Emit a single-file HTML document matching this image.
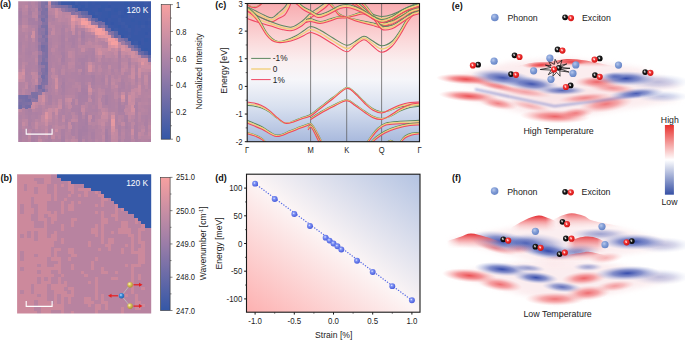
<!DOCTYPE html>
<html><head><meta charset="utf-8"><style>
html,body{margin:0;padding:0;background:#fff;width:685px;height:340px;overflow:hidden}
svg{display:block;font-family:"Liberation Sans",sans-serif}
</style></head><body>
<svg width="685" height="340" viewBox="0 0 685 340" font-family="Liberation Sans, sans-serif">
<defs>
<linearGradient id="cba" x1="0" y1="1" x2="0" y2="0">
<stop offset="0" stop-color="#3457a7"/><stop offset="0.5" stop-color="#9b7da8"/><stop offset="1" stop-color="#f7a0a0"/></linearGradient>
<linearGradient id="cbb" x1="0" y1="1" x2="0" y2="0">
<stop offset="0" stop-color="#3457a7"/><stop offset="0.5" stop-color="#9b7da8"/><stop offset="1" stop-color="#f7a0a0"/></linearGradient>
<linearGradient id="bgc" x1="0" y1="0" x2="0" y2="1">
<stop offset="0" stop-color="#f8acb0"/><stop offset="0.27" stop-color="#fbd9da"/><stop offset="0.42" stop-color="#faeff0"/><stop offset="0.55" stop-color="#f6f6fa"/><stop offset="0.75" stop-color="#d8e0ef"/><stop offset="1" stop-color="#a8b9dd"/></linearGradient>
<linearGradient id="bgd" x1="0" y1="1" x2="1" y2="0">
<stop offset="0" stop-color="#fdb0b0"/><stop offset="0.5" stop-color="#fcf5f5"/><stop offset="1" stop-color="#b3c3e2"/></linearGradient>
<linearGradient id="cbhl" x1="0" y1="0" x2="0" y2="1">
<stop offset="0" stop-color="#e8312e"/><stop offset="0.5" stop-color="#ffffff"/><stop offset="1" stop-color="#3650a5"/></linearGradient>
<radialGradient id="sph" cx="0.4" cy="0.38" r="0.65"><stop offset="0" stop-color="#e6ecff"/><stop offset="0.3" stop-color="#7f93f5"/><stop offset="1" stop-color="#4457d8"/></radialGradient>
<radialGradient id="phon" cx="0.38" cy="0.35" r="0.7"><stop offset="0" stop-color="#b6c7ec"/><stop offset="0.5" stop-color="#7f9bd5"/><stop offset="1" stop-color="#6482c4"/></radialGradient>
<radialGradient id="exr" cx="0.38" cy="0.35" r="0.7"><stop offset="0" stop-color="#ffd0d0"/><stop offset="0.3" stop-color="#f43a3a"/><stop offset="1" stop-color="#d01010"/></radialGradient>
<radialGradient id="exk" cx="0.38" cy="0.35" r="0.7"><stop offset="0" stop-color="#d0d0d0"/><stop offset="0.3" stop-color="#222"/><stop offset="1" stop-color="#000"/></radialGradient>
<radialGradient id="yel" cx="0.38" cy="0.35" r="0.7"><stop offset="0" stop-color="#fff6c0"/><stop offset="0.4" stop-color="#d9c25a"/><stop offset="1" stop-color="#a8902c"/></radialGradient>
<radialGradient id="blu" cx="0.38" cy="0.35" r="0.7"><stop offset="0" stop-color="#bfe0ff"/><stop offset="0.4" stop-color="#3d8ad8"/><stop offset="1" stop-color="#1f5ea8"/></radialGradient>
<filter id="bl2" x="-50%" y="-50%" width="200%" height="200%"><feGaussianBlur stdDeviation="2.5"/></filter>
<filter id="bl4" x="-50%" y="-50%" width="200%" height="200%"><feGaussianBlur stdDeviation="4"/></filter>
</defs>
<rect width="685" height="340" fill="#fff"/>
<text x="0" y="7.2" font-size="9" font-weight="bold" fill="#111">(a)</text>
<clipPath id="cpa"><rect x="18.2" y="1.2" width="132.8" height="140.8"/></clipPath><clipPath id="cpb"><rect x="17.1" y="174.2" width="134.1" height="139.4"/></clipPath><filter id="hbl" x="-5%" y="-5%" width="110%" height="110%"><feGaussianBlur stdDeviation="0.45"/></filter>
<g clip-path="url(#cpa)"><g shape-rendering="crispEdges" filter="url(#hbl)"><path fill="#b584a2" d="M18.20 1.20h3.62v3.65h-3.62zM24.84 1.20h3.62v3.65h-3.62zM31.48 4.55h3.62v3.65h-3.62zM24.84 21.31h3.62v3.65h-3.62zM54.72 21.31h3.62v3.65h-3.62zM64.68 21.31h3.62v3.65h-3.62zM74.64 24.67h3.62v3.65h-3.62zM68.00 28.02h3.62v3.65h-3.62zM77.96 28.02h3.62v3.65h-3.62zM87.92 31.37h3.62v3.65h-3.62zM51.40 41.43h3.62v3.65h-3.62zM101.20 44.78h3.62v3.65h-3.62zM68.00 48.13h3.62v3.65h-3.62zM51.40 51.49h3.62v3.65h-3.62zM124.44 54.84h3.62v3.65h-3.62zM68.00 58.19h3.62v3.65h-3.62zM134.40 61.54h3.62v3.65h-3.62zM51.40 64.90h3.62v3.65h-3.62zM68.00 68.25h3.62v3.65h-3.62zM114.48 71.60h3.62v3.65h-3.62zM141.04 71.60h3.62v3.65h-3.62zM51.40 81.66h3.62v3.65h-3.62zM124.44 81.66h3.62v3.65h-3.62zM104.52 85.01h3.62v3.65h-3.62zM111.16 88.36h3.62v3.65h-3.62zM117.80 95.07h3.62v3.65h-3.62zM141.04 95.07h3.62v3.65h-3.62zM44.76 98.42h3.62v3.65h-3.62zM141.04 98.42h3.62v3.65h-3.62zM141.04 105.12h3.62v3.65h-3.62zM58.04 108.48h3.62v3.65h-3.62zM137.72 108.48h3.62v3.65h-3.62zM144.36 108.48h3.62v3.65h-3.62zM51.40 115.18h3.62v3.65h-3.62zM121.12 115.18h3.62v3.65h-3.62zM38.12 118.53h3.62v3.65h-3.62zM51.40 118.53h3.62v3.65h-3.62zM24.84 125.24h3.62v3.65h-3.62zM31.48 125.24h3.62v3.65h-3.62zM137.72 125.24h3.62v3.65h-3.62zM64.68 131.94h3.62v3.65h-3.62zM68.00 131.94h3.62v3.65h-3.62zM97.88 131.94h3.62v3.65h-3.62zM51.40 138.65h3.62v3.65h-3.62zM141.04 138.65h3.62v3.65h-3.62z"/>
<path fill="#b685a2" d="M21.52 1.20h3.62v3.65h-3.62zM21.52 11.26h3.62v3.65h-3.62zM54.72 17.96h3.62v3.65h-3.62zM58.04 21.31h3.62v3.65h-3.62zM24.84 31.37h3.62v3.65h-3.62zM87.92 38.08h3.62v3.65h-3.62zM54.72 41.43h3.62v3.65h-3.62zM71.32 48.13h3.62v3.65h-3.62zM34.80 54.84h3.62v3.65h-3.62zM121.12 58.19h3.62v3.65h-3.62zM87.92 71.60h3.62v3.65h-3.62zM51.40 78.30h3.62v3.65h-3.62zM71.32 85.01h3.62v3.65h-3.62zM91.24 88.36h3.62v3.65h-3.62zM144.36 91.71h3.62v3.65h-3.62zM64.68 105.12h3.62v3.65h-3.62zM131.08 118.53h3.62v3.65h-3.62zM94.56 121.89h3.62v3.65h-3.62zM147.68 121.89h3.62v3.65h-3.62zM58.04 128.59h3.62v3.65h-3.62zM58.04 131.94h3.62v3.65h-3.62zM64.68 135.30h3.62v3.65h-3.62zM141.04 135.30h3.62v3.65h-3.62zM68.00 138.65h3.62v3.65h-3.62zM121.12 138.65h3.62v3.65h-3.62z"/>
<path fill="#ad81a3" d="M28.16 1.20h3.62v3.65h-3.62zM34.80 1.20h3.62v3.65h-3.62zM51.40 17.96h3.62v3.65h-3.62zM34.80 24.67h3.62v3.65h-3.62zM61.36 24.67h3.62v3.65h-3.62zM74.64 31.37h3.62v3.65h-3.62zM28.16 34.72h3.62v3.65h-3.62zM18.20 41.43h3.62v3.65h-3.62zM28.16 41.43h3.62v3.65h-3.62zM28.16 44.78h3.62v3.65h-3.62zM28.16 48.13h3.62v3.65h-3.62zM48.08 51.49h3.62v3.65h-3.62zM48.08 58.19h3.62v3.65h-3.62zM28.16 61.54h3.62v3.65h-3.62zM74.64 64.90h3.62v3.65h-3.62zM48.08 68.25h3.62v3.65h-3.62zM58.04 68.25h3.62v3.65h-3.62zM24.84 71.60h3.62v3.65h-3.62zM58.04 71.60h3.62v3.65h-3.62zM84.60 74.95h3.62v3.65h-3.62zM101.20 74.95h3.62v3.65h-3.62zM77.96 78.30h3.62v3.65h-3.62zM107.84 78.30h3.62v3.65h-3.62zM121.12 78.30h3.62v3.65h-3.62zM147.68 78.30h3.62v3.65h-3.62zM107.84 81.66h3.62v3.65h-3.62zM48.08 85.01h3.62v3.65h-3.62zM28.16 91.71h3.62v3.65h-3.62zM48.08 91.71h3.62v3.65h-3.62zM124.44 95.07h3.62v3.65h-3.62zM71.32 98.42h3.62v3.65h-3.62zM124.44 98.42h3.62v3.65h-3.62zM61.36 101.77h3.62v3.65h-3.62zM81.28 101.77h3.62v3.65h-3.62zM91.24 101.77h3.62v3.65h-3.62zM134.40 101.77h3.62v3.65h-3.62zM71.32 105.12h3.62v3.65h-3.62zM74.64 105.12h3.62v3.65h-3.62zM24.84 108.48h3.62v3.65h-3.62zM94.56 108.48h3.62v3.65h-3.62zM24.84 111.83h3.62v3.65h-3.62zM61.36 111.83h3.62v3.65h-3.62zM134.40 111.83h3.62v3.65h-3.62zM34.80 115.18h3.62v3.65h-3.62zM144.36 115.18h3.62v3.65h-3.62zM64.68 121.89h3.62v3.65h-3.62zM144.36 125.24h3.62v3.65h-3.62zM18.20 128.59h3.62v3.65h-3.62zM91.24 128.59h3.62v3.65h-3.62zM124.44 131.94h3.62v3.65h-3.62zM34.80 135.30h3.62v3.65h-3.62zM81.28 135.30h3.62v3.65h-3.62zM124.44 135.30h3.62v3.65h-3.62zM48.08 138.65h3.62v3.65h-3.62zM124.44 138.65h3.62v3.65h-3.62zM127.76 138.65h3.62v3.65h-3.62zM134.40 138.65h3.62v3.65h-3.62z"/>
<path fill="#b484a2" d="M31.48 1.20h3.62v3.65h-3.62zM18.20 4.55h3.62v3.65h-3.62zM24.84 17.96h3.62v3.65h-3.62zM34.80 17.96h3.62v3.65h-3.62zM18.20 28.02h3.62v3.65h-3.62zM58.04 28.02h3.62v3.65h-3.62zM54.72 31.37h3.62v3.65h-3.62zM58.04 31.37h3.62v3.65h-3.62zM64.68 31.37h3.62v3.65h-3.62zM48.08 34.72h3.62v3.65h-3.62zM51.40 34.72h3.62v3.65h-3.62zM54.72 34.72h3.62v3.65h-3.62zM64.68 34.72h3.62v3.65h-3.62zM51.40 38.08h3.62v3.65h-3.62zM54.72 38.08h3.62v3.65h-3.62zM21.52 41.43h3.62v3.65h-3.62zM64.68 44.78h3.62v3.65h-3.62zM54.72 48.13h3.62v3.65h-3.62zM77.96 48.13h3.62v3.65h-3.62zM21.52 51.49h3.62v3.65h-3.62zM77.96 51.49h3.62v3.65h-3.62zM18.20 54.84h3.62v3.65h-3.62zM21.52 54.84h3.62v3.65h-3.62zM54.72 54.84h3.62v3.65h-3.62zM21.52 58.19h3.62v3.65h-3.62zM104.52 58.19h3.62v3.65h-3.62zM111.16 58.19h3.62v3.65h-3.62zM58.04 61.54h3.62v3.65h-3.62zM84.60 61.54h3.62v3.65h-3.62zM94.56 68.25h3.62v3.65h-3.62zM77.96 71.60h3.62v3.65h-3.62zM94.56 71.60h3.62v3.65h-3.62zM104.52 71.60h3.62v3.65h-3.62zM21.52 81.66h3.62v3.65h-3.62zM77.96 81.66h3.62v3.65h-3.62zM21.52 85.01h3.62v3.65h-3.62zM51.40 85.01h3.62v3.65h-3.62zM97.88 85.01h3.62v3.65h-3.62zM51.40 88.36h3.62v3.65h-3.62zM44.76 95.07h3.62v3.65h-3.62zM51.40 98.42h3.62v3.65h-3.62zM121.12 101.77h3.62v3.65h-3.62zM147.68 101.77h3.62v3.65h-3.62zM114.48 105.12h3.62v3.65h-3.62zM68.00 108.48h3.62v3.65h-3.62zM97.88 108.48h3.62v3.65h-3.62zM141.04 111.83h3.62v3.65h-3.62zM21.52 115.18h3.62v3.65h-3.62zM81.28 115.18h3.62v3.65h-3.62zM97.88 115.18h3.62v3.65h-3.62zM51.40 121.89h3.62v3.65h-3.62zM61.36 121.89h3.62v3.65h-3.62zM117.80 121.89h3.62v3.65h-3.62zM141.04 121.89h3.62v3.65h-3.62zM38.12 125.24h3.62v3.65h-3.62zM21.52 138.65h3.62v3.65h-3.62zM41.44 138.65h3.62v3.65h-3.62z"/>
<path fill="#9b7aa3" d="M38.12 1.20h3.62v3.65h-3.62zM38.12 41.43h3.62v3.65h-3.62z"/>
<path fill="#8372a4" d="M41.44 1.20h3.62v3.65h-3.62z"/>
<path fill="#7a6fa4" d="M44.76 1.20h3.62v3.65h-3.62zM44.76 7.90h3.62v3.65h-3.62zM44.76 24.67h3.62v3.65h-3.62zM44.76 64.90h3.62v3.65h-3.62zM21.52 98.42h3.62v3.65h-3.62z"/>
<path fill="#cb8da2" d="M48.08 1.20h3.62v3.65h-3.62zM54.72 7.90h3.62v3.65h-3.62zM71.32 28.02h3.62v3.65h-3.62zM117.80 41.43h3.62v3.65h-3.62zM21.52 68.25h3.62v3.65h-3.62zM137.72 74.95h3.62v3.65h-3.62zM87.92 85.01h3.62v3.65h-3.62zM54.72 128.59h3.62v3.65h-3.62zM131.08 131.94h3.62v3.65h-3.62z"/>
<path fill="#726ca5" d="M51.40 1.20h3.62v3.65h-3.62zM101.20 21.31h3.62v3.65h-3.62zM104.52 28.02h3.62v3.65h-3.62zM28.16 98.42h3.62v3.65h-3.62z"/>
<path fill="#6969a5" d="M54.72 1.20h3.62v3.65h-3.62z"/>
<path fill="#4f60a6" d="M58.04 1.20h3.62v3.65h-3.62z"/>
<path fill="#3a59a7" d="M61.36 1.20h3.62v3.65h-3.62zM64.68 1.20h3.62v3.65h-3.62zM91.24 1.20h3.62v3.65h-3.62zM77.96 4.55h3.62v3.65h-3.62zM94.56 4.55h3.62v3.65h-3.62zM131.08 4.55h3.62v3.65h-3.62zM81.28 7.90h3.62v3.65h-3.62zM137.72 7.90h3.62v3.65h-3.62zM147.68 7.90h3.62v3.65h-3.62zM87.92 11.26h3.62v3.65h-3.62zM97.88 14.61h3.62v3.65h-3.62zM107.84 17.96h3.62v3.65h-3.62zM117.80 21.31h3.62v3.65h-3.62zM111.16 24.67h3.62v3.65h-3.62zM147.68 24.67h3.62v3.65h-3.62zM124.44 28.02h3.62v3.65h-3.62zM137.72 28.02h3.62v3.65h-3.62zM127.76 31.37h3.62v3.65h-3.62zM147.68 31.37h3.62v3.65h-3.62zM144.36 34.72h3.62v3.65h-3.62zM131.08 41.43h3.62v3.65h-3.62zM147.68 51.49h3.62v3.65h-3.62z"/>
<path fill="#3758a7" d="M68.00 1.20h3.62v3.65h-3.62zM87.92 1.20h3.62v3.65h-3.62zM127.76 1.20h3.62v3.65h-3.62zM134.40 1.20h3.62v3.65h-3.62zM141.04 1.20h3.62v3.65h-3.62zM121.12 4.55h3.62v3.65h-3.62zM127.76 4.55h3.62v3.65h-3.62zM144.36 4.55h3.62v3.65h-3.62zM101.20 7.90h3.62v3.65h-3.62zM111.16 7.90h3.62v3.65h-3.62zM117.80 7.90h3.62v3.65h-3.62zM121.12 7.90h3.62v3.65h-3.62zM141.04 7.90h3.62v3.65h-3.62zM101.20 11.26h3.62v3.65h-3.62zM127.76 11.26h3.62v3.65h-3.62zM141.04 14.61h3.62v3.65h-3.62zM101.20 17.96h3.62v3.65h-3.62zM114.48 17.96h3.62v3.65h-3.62zM124.44 17.96h3.62v3.65h-3.62zM134.40 17.96h3.62v3.65h-3.62zM141.04 17.96h3.62v3.65h-3.62zM144.36 17.96h3.62v3.65h-3.62zM124.44 21.31h3.62v3.65h-3.62zM134.40 21.31h3.62v3.65h-3.62zM144.36 24.67h3.62v3.65h-3.62zM117.80 31.37h3.62v3.65h-3.62zM137.72 31.37h3.62v3.65h-3.62zM131.08 34.72h3.62v3.65h-3.62zM131.08 38.08h3.62v3.65h-3.62zM134.40 38.08h3.62v3.65h-3.62zM147.68 44.78h3.62v3.65h-3.62z"/>
<path fill="#3557a7" d="M71.32 1.20h3.62v3.65h-3.62zM107.84 4.55h3.62v3.65h-3.62zM77.96 7.90h3.62v3.65h-3.62zM124.44 7.90h3.62v3.65h-3.62zM91.24 14.61h3.62v3.65h-3.62zM121.12 14.61h3.62v3.65h-3.62zM111.16 21.31h3.62v3.65h-3.62zM144.36 21.31h3.62v3.65h-3.62zM144.36 31.37h3.62v3.65h-3.62zM121.12 34.72h3.62v3.65h-3.62z"/>
<path fill="#3c5aa7" d="M74.64 1.20h3.62v3.65h-3.62zM84.60 1.20h3.62v3.65h-3.62zM84.60 4.55h3.62v3.65h-3.62zM134.40 4.55h3.62v3.65h-3.62zM104.52 7.90h3.62v3.65h-3.62zM107.84 7.90h3.62v3.65h-3.62zM94.56 11.26h3.62v3.65h-3.62zM131.08 14.61h3.62v3.65h-3.62zM147.68 17.96h3.62v3.65h-3.62zM121.12 21.31h3.62v3.65h-3.62zM107.84 24.67h3.62v3.65h-3.62zM124.44 24.67h3.62v3.65h-3.62zM127.76 28.02h3.62v3.65h-3.62zM134.40 41.43h3.62v3.65h-3.62zM137.72 44.78h3.62v3.65h-3.62z"/>
<path fill="#3959a7" d="M77.96 1.20h3.62v3.65h-3.62zM111.16 1.20h3.62v3.65h-3.62zM121.12 1.20h3.62v3.65h-3.62zM111.16 4.55h3.62v3.65h-3.62zM147.68 4.55h3.62v3.65h-3.62zM84.60 7.90h3.62v3.65h-3.62zM91.24 11.26h3.62v3.65h-3.62zM111.16 11.26h3.62v3.65h-3.62zM114.48 11.26h3.62v3.65h-3.62zM121.12 11.26h3.62v3.65h-3.62zM131.08 11.26h3.62v3.65h-3.62zM144.36 11.26h3.62v3.65h-3.62zM104.52 14.61h3.62v3.65h-3.62zM117.80 14.61h3.62v3.65h-3.62zM134.40 14.61h3.62v3.65h-3.62zM97.88 17.96h3.62v3.65h-3.62zM111.16 17.96h3.62v3.65h-3.62zM121.12 17.96h3.62v3.65h-3.62zM127.76 17.96h3.62v3.65h-3.62zM137.72 17.96h3.62v3.65h-3.62zM141.04 21.31h3.62v3.65h-3.62zM147.68 21.31h3.62v3.65h-3.62zM137.72 24.67h3.62v3.65h-3.62zM144.36 28.02h3.62v3.65h-3.62zM124.44 31.37h3.62v3.65h-3.62zM131.08 31.37h3.62v3.65h-3.62zM141.04 31.37h3.62v3.65h-3.62zM134.40 34.72h3.62v3.65h-3.62zM141.04 34.72h3.62v3.65h-3.62zM147.68 38.08h3.62v3.65h-3.62zM141.04 44.78h3.62v3.65h-3.62zM147.68 48.13h3.62v3.65h-3.62z"/>
<path fill="#3b59a7" d="M81.28 1.20h3.62v3.65h-3.62zM107.84 1.20h3.62v3.65h-3.62zM147.68 1.20h3.62v3.65h-3.62zM97.88 4.55h3.62v3.65h-3.62zM91.24 7.90h3.62v3.65h-3.62zM94.56 7.90h3.62v3.65h-3.62zM97.88 11.26h3.62v3.65h-3.62zM111.16 14.61h3.62v3.65h-3.62zM114.48 14.61h3.62v3.65h-3.62zM127.76 14.61h3.62v3.65h-3.62zM137.72 14.61h3.62v3.65h-3.62zM121.12 24.67h3.62v3.65h-3.62zM134.40 24.67h3.62v3.65h-3.62zM134.40 28.02h3.62v3.65h-3.62zM134.40 31.37h3.62v3.65h-3.62zM124.44 34.72h3.62v3.65h-3.62zM147.68 34.72h3.62v3.65h-3.62zM141.04 38.08h3.62v3.65h-3.62zM141.04 41.43h3.62v3.65h-3.62z"/>
<path fill="#3858a7" d="M94.56 1.20h3.62v3.65h-3.62zM97.88 1.20h3.62v3.65h-3.62zM101.20 1.20h3.62v3.65h-3.62zM104.52 1.20h3.62v3.65h-3.62zM114.48 1.20h3.62v3.65h-3.62zM117.80 1.20h3.62v3.65h-3.62zM131.08 1.20h3.62v3.65h-3.62zM137.72 1.20h3.62v3.65h-3.62zM87.92 4.55h3.62v3.65h-3.62zM91.24 4.55h3.62v3.65h-3.62zM104.52 4.55h3.62v3.65h-3.62zM114.48 4.55h3.62v3.65h-3.62zM117.80 4.55h3.62v3.65h-3.62zM124.44 4.55h3.62v3.65h-3.62zM141.04 4.55h3.62v3.65h-3.62zM87.92 7.90h3.62v3.65h-3.62zM144.36 7.90h3.62v3.65h-3.62zM104.52 11.26h3.62v3.65h-3.62zM141.04 11.26h3.62v3.65h-3.62zM147.68 11.26h3.62v3.65h-3.62zM94.56 14.61h3.62v3.65h-3.62zM101.20 14.61h3.62v3.65h-3.62zM144.36 14.61h3.62v3.65h-3.62zM147.68 14.61h3.62v3.65h-3.62zM107.84 21.31h3.62v3.65h-3.62zM114.48 21.31h3.62v3.65h-3.62zM127.76 21.31h3.62v3.65h-3.62zM131.08 21.31h3.62v3.65h-3.62zM114.48 24.67h3.62v3.65h-3.62zM131.08 24.67h3.62v3.65h-3.62zM111.16 28.02h3.62v3.65h-3.62zM117.80 28.02h3.62v3.65h-3.62zM121.12 28.02h3.62v3.65h-3.62zM131.08 28.02h3.62v3.65h-3.62zM141.04 28.02h3.62v3.65h-3.62zM121.12 31.37h3.62v3.65h-3.62zM137.72 34.72h3.62v3.65h-3.62zM137.72 38.08h3.62v3.65h-3.62zM144.36 41.43h3.62v3.65h-3.62zM147.68 41.43h3.62v3.65h-3.62zM144.36 44.78h3.62v3.65h-3.62zM141.04 48.13h3.62v3.65h-3.62z"/>
<path fill="#3658a7" d="M124.44 1.20h3.62v3.65h-3.62zM74.64 4.55h3.62v3.65h-3.62zM81.28 4.55h3.62v3.65h-3.62zM101.20 4.55h3.62v3.65h-3.62zM97.88 7.90h3.62v3.65h-3.62zM114.48 7.90h3.62v3.65h-3.62zM131.08 7.90h3.62v3.65h-3.62zM134.40 7.90h3.62v3.65h-3.62zM107.84 11.26h3.62v3.65h-3.62zM134.40 11.26h3.62v3.65h-3.62zM137.72 11.26h3.62v3.65h-3.62zM107.84 14.61h3.62v3.65h-3.62zM124.44 14.61h3.62v3.65h-3.62zM131.08 17.96h3.62v3.65h-3.62zM104.52 21.31h3.62v3.65h-3.62zM137.72 21.31h3.62v3.65h-3.62zM117.80 24.67h3.62v3.65h-3.62zM127.76 24.67h3.62v3.65h-3.62zM127.76 38.08h3.62v3.65h-3.62zM144.36 38.08h3.62v3.65h-3.62zM144.36 48.13h3.62v3.65h-3.62z"/>
<path fill="#3d5aa7" d="M144.36 1.20h3.62v3.65h-3.62zM71.32 4.55h3.62v3.65h-3.62zM117.80 17.96h3.62v3.65h-3.62zM141.04 24.67h3.62v3.65h-3.62zM114.48 28.02h3.62v3.65h-3.62z"/>
<path fill="#b986a2" d="M21.52 4.55h3.62v3.65h-3.62zM58.04 7.90h3.62v3.65h-3.62zM31.48 11.26h3.62v3.65h-3.62zM51.40 11.26h3.62v3.65h-3.62zM61.36 11.26h3.62v3.65h-3.62zM61.36 14.61h3.62v3.65h-3.62zM48.08 21.31h3.62v3.65h-3.62zM48.08 24.67h3.62v3.65h-3.62zM64.68 38.08h3.62v3.65h-3.62zM94.56 54.84h3.62v3.65h-3.62zM131.08 61.54h3.62v3.65h-3.62zM107.84 68.25h3.62v3.65h-3.62zM111.16 74.95h3.62v3.65h-3.62zM114.48 78.30h3.62v3.65h-3.62zM31.48 81.66h3.62v3.65h-3.62zM74.64 81.66h3.62v3.65h-3.62zM21.52 88.36h3.62v3.65h-3.62zM68.00 95.07h3.62v3.65h-3.62zM87.92 95.07h3.62v3.65h-3.62zM147.68 95.07h3.62v3.65h-3.62zM144.36 101.77h3.62v3.65h-3.62zM54.72 105.12h3.62v3.65h-3.62zM107.84 111.83h3.62v3.65h-3.62zM137.72 115.18h3.62v3.65h-3.62zM34.80 118.53h3.62v3.65h-3.62zM38.12 121.89h3.62v3.65h-3.62zM51.40 125.24h3.62v3.65h-3.62zM141.04 125.24h3.62v3.65h-3.62zM51.40 128.59h3.62v3.65h-3.62zM68.00 128.59h3.62v3.65h-3.62z"/>
<path fill="#c48aa2" d="M24.84 4.55h3.62v3.65h-3.62zM77.96 24.67h3.62v3.65h-3.62zM94.56 44.78h3.62v3.65h-3.62zM124.44 44.78h3.62v3.65h-3.62zM124.44 51.49h3.62v3.65h-3.62zM134.40 58.19h3.62v3.65h-3.62zM18.20 78.30h3.62v3.65h-3.62zM114.48 85.01h3.62v3.65h-3.62zM131.08 88.36h3.62v3.65h-3.62zM127.76 111.83h3.62v3.65h-3.62zM61.36 118.53h3.62v3.65h-3.62zM87.92 118.53h3.62v3.65h-3.62z"/>
<path fill="#ae81a3" d="M28.16 4.55h3.62v3.65h-3.62zM74.64 28.02h3.62v3.65h-3.62zM48.08 31.37h3.62v3.65h-3.62zM74.64 38.08h3.62v3.65h-3.62zM48.08 41.43h3.62v3.65h-3.62zM18.20 44.78h3.62v3.65h-3.62zM34.80 48.13h3.62v3.65h-3.62zM48.08 48.13h3.62v3.65h-3.62zM58.04 48.13h3.62v3.65h-3.62zM91.24 48.13h3.62v3.65h-3.62zM24.84 51.49h3.62v3.65h-3.62zM28.16 54.84h3.62v3.65h-3.62zM48.08 54.84h3.62v3.65h-3.62zM74.64 61.54h3.62v3.65h-3.62zM101.20 61.54h3.62v3.65h-3.62zM48.08 64.90h3.62v3.65h-3.62zM127.76 64.90h3.62v3.65h-3.62zM28.16 68.25h3.62v3.65h-3.62zM111.16 68.25h3.62v3.65h-3.62zM117.80 68.25h3.62v3.65h-3.62zM48.08 74.95h3.62v3.65h-3.62zM58.04 74.95h3.62v3.65h-3.62zM61.36 74.95h3.62v3.65h-3.62zM77.96 74.95h3.62v3.65h-3.62zM87.92 74.95h3.62v3.65h-3.62zM107.84 74.95h3.62v3.65h-3.62zM134.40 74.95h3.62v3.65h-3.62zM147.68 74.95h3.62v3.65h-3.62zM28.16 78.30h3.62v3.65h-3.62zM84.60 78.30h3.62v3.65h-3.62zM134.40 78.30h3.62v3.65h-3.62zM28.16 81.66h3.62v3.65h-3.62zM48.08 81.66h3.62v3.65h-3.62zM101.20 81.66h3.62v3.65h-3.62zM147.68 81.66h3.62v3.65h-3.62zM91.24 85.01h3.62v3.65h-3.62zM107.84 85.01h3.62v3.65h-3.62zM104.52 88.36h3.62v3.65h-3.62zM107.84 88.36h3.62v3.65h-3.62zM91.24 91.71h3.62v3.65h-3.62zM61.36 95.07h3.62v3.65h-3.62zM101.20 95.07h3.62v3.65h-3.62zM107.84 95.07h3.62v3.65h-3.62zM61.36 98.42h3.62v3.65h-3.62zM107.84 98.42h3.62v3.65h-3.62zM101.20 101.77h3.62v3.65h-3.62zM107.84 101.77h3.62v3.65h-3.62zM124.44 101.77h3.62v3.65h-3.62zM107.84 105.12h3.62v3.65h-3.62zM61.36 108.48h3.62v3.65h-3.62zM91.24 108.48h3.62v3.65h-3.62zM31.48 111.83h3.62v3.65h-3.62zM134.40 115.18h3.62v3.65h-3.62zM134.40 118.53h3.62v3.65h-3.62zM28.16 125.24h3.62v3.65h-3.62zM104.52 125.24h3.62v3.65h-3.62zM107.84 125.24h3.62v3.65h-3.62zM127.76 125.24h3.62v3.65h-3.62zM31.48 128.59h3.62v3.65h-3.62zM48.08 128.59h3.62v3.65h-3.62zM87.92 128.59h3.62v3.65h-3.62zM124.44 128.59h3.62v3.65h-3.62zM127.76 128.59h3.62v3.65h-3.62zM144.36 128.59h3.62v3.65h-3.62zM34.80 131.94h3.62v3.65h-3.62zM127.76 135.30h3.62v3.65h-3.62zM18.20 138.65h3.62v3.65h-3.62z"/>
<path fill="#b283a2" d="M34.80 4.55h3.62v3.65h-3.62zM21.52 14.61h3.62v3.65h-3.62zM51.40 14.61h3.62v3.65h-3.62zM61.36 21.31h3.62v3.65h-3.62zM18.20 24.67h3.62v3.65h-3.62zM18.20 31.37h3.62v3.65h-3.62zM21.52 31.37h3.62v3.65h-3.62zM58.04 41.43h3.62v3.65h-3.62zM64.68 41.43h3.62v3.65h-3.62zM104.52 41.43h3.62v3.65h-3.62zM68.00 44.78h3.62v3.65h-3.62zM81.28 51.49h3.62v3.65h-3.62zM31.48 54.84h3.62v3.65h-3.62zM54.72 58.19h3.62v3.65h-3.62zM87.92 58.19h3.62v3.65h-3.62zM111.16 61.54h3.62v3.65h-3.62zM94.56 64.90h3.62v3.65h-3.62zM111.16 64.90h3.62v3.65h-3.62zM31.48 68.25h3.62v3.65h-3.62zM54.72 68.25h3.62v3.65h-3.62zM64.68 68.25h3.62v3.65h-3.62zM101.20 68.25h3.62v3.65h-3.62zM117.80 71.60h3.62v3.65h-3.62zM127.76 71.60h3.62v3.65h-3.62zM147.68 71.60h3.62v3.65h-3.62zM94.56 74.95h3.62v3.65h-3.62zM124.44 74.95h3.62v3.65h-3.62zM141.04 78.30h3.62v3.65h-3.62zM64.68 81.66h3.62v3.65h-3.62zM71.32 81.66h3.62v3.65h-3.62zM84.60 81.66h3.62v3.65h-3.62zM134.40 81.66h3.62v3.65h-3.62zM141.04 81.66h3.62v3.65h-3.62zM58.04 85.01h3.62v3.65h-3.62zM94.56 85.01h3.62v3.65h-3.62zM144.36 88.36h3.62v3.65h-3.62zM18.20 91.71h3.62v3.65h-3.62zM94.56 91.71h3.62v3.65h-3.62zM51.40 95.07h3.62v3.65h-3.62zM54.72 95.07h3.62v3.65h-3.62zM94.56 98.42h3.62v3.65h-3.62zM147.68 98.42h3.62v3.65h-3.62zM94.56 101.77h3.62v3.65h-3.62zM101.20 105.12h3.62v3.65h-3.62zM104.52 105.12h3.62v3.65h-3.62zM64.68 108.48h3.62v3.65h-3.62zM114.48 108.48h3.62v3.65h-3.62zM64.68 111.83h3.62v3.65h-3.62zM38.12 115.18h3.62v3.65h-3.62zM18.20 118.53h3.62v3.65h-3.62zM121.12 118.53h3.62v3.65h-3.62zM91.24 125.24h3.62v3.65h-3.62zM38.12 128.59h3.62v3.65h-3.62zM64.68 128.59h3.62v3.65h-3.62zM137.72 128.59h3.62v3.65h-3.62zM21.52 135.30h3.62v3.65h-3.62zM54.72 135.30h3.62v3.65h-3.62zM24.84 138.65h3.62v3.65h-3.62zM54.72 138.65h3.62v3.65h-3.62zM58.04 138.65h3.62v3.65h-3.62z"/>
<path fill="#9a79a3" d="M38.12 4.55h3.62v3.65h-3.62zM38.12 17.96h3.62v3.65h-3.62zM38.12 64.90h3.62v3.65h-3.62z"/>
<path fill="#8171a4" d="M41.44 4.55h3.62v3.65h-3.62zM44.76 11.26h3.62v3.65h-3.62zM121.12 38.08h3.62v3.65h-3.62zM127.76 44.78h3.62v3.65h-3.62zM41.44 54.84h3.62v3.65h-3.62z"/>
<path fill="#8f76a4" d="M44.76 4.55h3.62v3.65h-3.62zM38.12 28.02h3.62v3.65h-3.62zM41.44 28.02h3.62v3.65h-3.62zM131.08 48.13h3.62v3.65h-3.62z"/>
<path fill="#be88a2" d="M48.08 4.55h3.62v3.65h-3.62zM58.04 14.61h3.62v3.65h-3.62zM58.04 17.96h3.62v3.65h-3.62zM68.00 21.31h3.62v3.65h-3.62zM81.28 44.78h3.62v3.65h-3.62zM97.88 58.19h3.62v3.65h-3.62zM68.00 61.54h3.62v3.65h-3.62zM71.32 61.54h3.62v3.65h-3.62zM34.80 71.60h3.62v3.65h-3.62zM51.40 74.95h3.62v3.65h-3.62zM127.76 74.95h3.62v3.65h-3.62zM111.16 78.30h3.62v3.65h-3.62zM54.72 88.36h3.62v3.65h-3.62zM127.76 91.71h3.62v3.65h-3.62zM134.40 95.07h3.62v3.65h-3.62zM44.76 108.48h3.62v3.65h-3.62zM124.44 111.83h3.62v3.65h-3.62zM61.36 115.18h3.62v3.65h-3.62zM104.52 118.53h3.62v3.65h-3.62zM97.88 121.89h3.62v3.65h-3.62zM101.20 128.59h3.62v3.65h-3.62zM28.16 131.94h3.62v3.65h-3.62zM51.40 131.94h3.62v3.65h-3.62z"/>
<path fill="#8e75a4" d="M51.40 4.55h3.62v3.65h-3.62z"/>
<path fill="#8472a4" d="M54.72 4.55h3.62v3.65h-3.62zM44.76 21.31h3.62v3.65h-3.62zM44.76 41.43h3.62v3.65h-3.62zM124.44 41.43h3.62v3.65h-3.62zM44.76 74.95h3.62v3.65h-3.62zM44.76 81.66h3.62v3.65h-3.62z"/>
<path fill="#8071a4" d="M58.04 4.55h3.62v3.65h-3.62zM41.44 7.90h3.62v3.65h-3.62zM18.20 98.42h3.62v3.65h-3.62zM21.52 105.12h3.62v3.65h-3.62z"/>
<path fill="#796ea5" d="M61.36 4.55h3.62v3.65h-3.62zM64.68 4.55h3.62v3.65h-3.62zM18.20 101.77h3.62v3.65h-3.62z"/>
<path fill="#6367a5" d="M68.00 4.55h3.62v3.65h-3.62z"/>
<path fill="#3457a7" d="M137.72 4.55h3.62v3.65h-3.62zM124.44 11.26h3.62v3.65h-3.62zM104.52 17.96h3.62v3.65h-3.62zM137.72 41.43h3.62v3.65h-3.62z"/>
<path fill="#ad80a3" d="M18.20 7.90h3.62v3.65h-3.62zM34.80 111.83h3.62v3.65h-3.62zM121.12 111.83h3.62v3.65h-3.62zM144.36 118.53h3.62v3.65h-3.62zM134.40 121.89h3.62v3.65h-3.62zM91.24 138.65h3.62v3.65h-3.62z"/>
<path fill="#ba86a2" d="M21.52 7.90h3.62v3.65h-3.62zM34.80 7.90h3.62v3.65h-3.62zM68.00 11.26h3.62v3.65h-3.62zM31.48 14.61h3.62v3.65h-3.62zM61.36 17.96h3.62v3.65h-3.62zM24.84 28.02h3.62v3.65h-3.62zM31.48 28.02h3.62v3.65h-3.62zM97.88 38.08h3.62v3.65h-3.62zM84.60 41.43h3.62v3.65h-3.62zM71.32 58.19h3.62v3.65h-3.62zM71.32 64.90h3.62v3.65h-3.62zM124.44 68.25h3.62v3.65h-3.62zM144.36 71.60h3.62v3.65h-3.62zM77.96 85.01h3.62v3.65h-3.62zM77.96 88.36h3.62v3.65h-3.62zM21.52 91.71h3.62v3.65h-3.62zM41.44 105.12h3.62v3.65h-3.62zM124.44 105.12h3.62v3.65h-3.62zM131.08 115.18h3.62v3.65h-3.62zM54.72 118.53h3.62v3.65h-3.62zM117.80 118.53h3.62v3.65h-3.62zM54.72 121.89h3.62v3.65h-3.62zM147.68 128.59h3.62v3.65h-3.62zM101.20 131.94h3.62v3.65h-3.62zM121.12 131.94h3.62v3.65h-3.62zM58.04 135.30h3.62v3.65h-3.62zM147.68 135.30h3.62v3.65h-3.62zM28.16 138.65h3.62v3.65h-3.62z"/>
<path fill="#bc87a2" d="M24.84 7.90h3.62v3.65h-3.62zM77.96 38.08h3.62v3.65h-3.62zM71.32 54.84h3.62v3.65h-3.62zM107.84 54.84h3.62v3.65h-3.62zM34.80 58.19h3.62v3.65h-3.62zM21.52 61.54h3.62v3.65h-3.62zM68.00 64.90h3.62v3.65h-3.62zM97.88 64.90h3.62v3.65h-3.62zM51.40 71.60h3.62v3.65h-3.62zM137.72 78.30h3.62v3.65h-3.62zM111.16 85.01h3.62v3.65h-3.62zM144.36 85.01h3.62v3.65h-3.62zM97.88 88.36h3.62v3.65h-3.62zM38.12 101.77h3.62v3.65h-3.62zM64.68 101.77h3.62v3.65h-3.62zM74.64 101.77h3.62v3.65h-3.62zM104.52 108.48h3.62v3.65h-3.62zM137.72 111.83h3.62v3.65h-3.62zM24.84 118.53h3.62v3.65h-3.62zM24.84 121.89h3.62v3.65h-3.62zM41.44 121.89h3.62v3.65h-3.62zM58.04 125.24h3.62v3.65h-3.62zM131.08 125.24h3.62v3.65h-3.62zM141.04 131.94h3.62v3.65h-3.62zM137.72 135.30h3.62v3.65h-3.62z"/>
<path fill="#a97fa3" d="M28.16 7.90h3.62v3.65h-3.62zM18.20 17.96h3.62v3.65h-3.62zM81.28 38.08h3.62v3.65h-3.62zM71.32 41.43h3.62v3.65h-3.62zM117.80 54.84h3.62v3.65h-3.62zM81.28 68.25h3.62v3.65h-3.62zM81.28 71.60h3.62v3.65h-3.62zM91.24 78.30h3.62v3.65h-3.62zM28.16 85.01h3.62v3.65h-3.62zM61.36 88.36h3.62v3.65h-3.62zM84.60 88.36h3.62v3.65h-3.62zM81.28 95.07h3.62v3.65h-3.62zM84.60 95.07h3.62v3.65h-3.62zM77.96 98.42h3.62v3.65h-3.62zM117.80 101.77h3.62v3.65h-3.62zM117.80 105.12h3.62v3.65h-3.62zM117.80 108.48h3.62v3.65h-3.62zM121.12 108.48h3.62v3.65h-3.62zM124.44 118.53h3.62v3.65h-3.62zM124.44 125.24h3.62v3.65h-3.62zM81.28 131.94h3.62v3.65h-3.62zM84.60 131.94h3.62v3.65h-3.62zM61.36 135.30h3.62v3.65h-3.62z"/>
<path fill="#b183a2" d="M31.48 7.90h3.62v3.65h-3.62zM48.08 17.96h3.62v3.65h-3.62zM64.68 24.67h3.62v3.65h-3.62zM64.68 58.19h3.62v3.65h-3.62zM18.20 61.54h3.62v3.65h-3.62zM141.04 74.95h3.62v3.65h-3.62zM127.76 81.66h3.62v3.65h-3.62zM24.84 88.36h3.62v3.65h-3.62zM134.40 98.42h3.62v3.65h-3.62zM87.92 101.77h3.62v3.65h-3.62zM91.24 111.83h3.62v3.65h-3.62zM144.36 131.94h3.62v3.65h-3.62zM87.92 135.30h3.62v3.65h-3.62zM137.72 138.65h3.62v3.65h-3.62z"/>
<path fill="#9176a4" d="M38.12 7.90h3.62v3.65h-3.62zM74.64 11.26h3.62v3.65h-3.62zM38.12 14.61h3.62v3.65h-3.62zM38.12 31.37h3.62v3.65h-3.62zM107.84 31.37h3.62v3.65h-3.62zM38.12 44.78h3.62v3.65h-3.62z"/>
<path fill="#bb87a2" d="M48.08 7.90h3.62v3.65h-3.62zM51.40 24.67h3.62v3.65h-3.62zM24.84 34.72h3.62v3.65h-3.62zM94.56 41.43h3.62v3.65h-3.62zM84.60 44.78h3.62v3.65h-3.62zM71.32 51.49h3.62v3.65h-3.62zM61.36 68.25h3.62v3.65h-3.62zM61.36 71.60h3.62v3.65h-3.62zM104.52 74.95h3.62v3.65h-3.62zM101.20 91.71h3.62v3.65h-3.62zM97.88 95.07h3.62v3.65h-3.62zM74.64 98.42h3.62v3.65h-3.62zM137.72 101.77h3.62v3.65h-3.62zM51.40 105.12h3.62v3.65h-3.62zM127.76 118.53h3.62v3.65h-3.62zM87.92 121.89h3.62v3.65h-3.62zM61.36 125.24h3.62v3.65h-3.62zM71.32 135.30h3.62v3.65h-3.62zM64.68 138.65h3.62v3.65h-3.62z"/>
<path fill="#bb86a2" d="M51.40 7.90h3.62v3.65h-3.62zM64.68 11.26h3.62v3.65h-3.62zM64.68 28.02h3.62v3.65h-3.62zM54.72 44.78h3.62v3.65h-3.62zM87.92 44.78h3.62v3.65h-3.62zM111.16 51.49h3.62v3.65h-3.62zM121.12 64.90h3.62v3.65h-3.62zM41.44 111.83h3.62v3.65h-3.62zM21.52 118.53h3.62v3.65h-3.62zM21.52 125.24h3.62v3.65h-3.62zM38.12 135.30h3.62v3.65h-3.62z"/>
<path fill="#9678a3" d="M61.36 7.90h3.62v3.65h-3.62zM44.76 88.36h3.62v3.65h-3.62z"/>
<path fill="#8773a4" d="M64.68 7.90h3.62v3.65h-3.62zM44.76 17.96h3.62v3.65h-3.62zM44.76 58.19h3.62v3.65h-3.62z"/>
<path fill="#7b6fa4" d="M68.00 7.90h3.62v3.65h-3.62zM81.28 14.61h3.62v3.65h-3.62zM44.76 38.08h3.62v3.65h-3.62zM134.40 48.13h3.62v3.65h-3.62zM147.68 58.19h3.62v3.65h-3.62zM31.48 95.07h3.62v3.65h-3.62z"/>
<path fill="#766da5" d="M71.32 7.90h3.62v3.65h-3.62zM137.72 51.49h3.62v3.65h-3.62zM24.84 105.12h3.62v3.65h-3.62z"/>
<path fill="#6668a5" d="M74.64 7.90h3.62v3.65h-3.62zM141.04 51.49h3.62v3.65h-3.62z"/>
<path fill="#3859a7" d="M127.76 7.90h3.62v3.65h-3.62zM147.68 28.02h3.62v3.65h-3.62z"/>
<path fill="#a77ea3" d="M18.20 11.26h3.62v3.65h-3.62zM28.16 11.26h3.62v3.65h-3.62zM18.20 14.61h3.62v3.65h-3.62zM31.48 17.96h3.62v3.65h-3.62zM31.48 21.31h3.62v3.65h-3.62zM61.36 54.84h3.62v3.65h-3.62zM61.36 81.66h3.62v3.65h-3.62zM84.60 91.71h3.62v3.65h-3.62zM104.52 98.42h3.62v3.65h-3.62zM84.60 118.53h3.62v3.65h-3.62zM81.28 125.24h3.62v3.65h-3.62zM77.96 128.59h3.62v3.65h-3.62zM81.28 128.59h3.62v3.65h-3.62zM84.60 128.59h3.62v3.65h-3.62z"/>
<path fill="#b785a2" d="M24.84 11.26h3.62v3.65h-3.62zM21.52 21.31h3.62v3.65h-3.62zM68.00 24.67h3.62v3.65h-3.62zM24.84 38.08h3.62v3.65h-3.62zM77.96 41.43h3.62v3.65h-3.62zM51.40 44.78h3.62v3.65h-3.62zM21.52 48.13h3.62v3.65h-3.62zM31.48 51.49h3.62v3.65h-3.62zM34.80 51.49h3.62v3.65h-3.62zM24.84 61.54h3.62v3.65h-3.62zM61.36 64.90h3.62v3.65h-3.62zM71.32 68.25h3.62v3.65h-3.62zM114.48 68.25h3.62v3.65h-3.62zM97.88 71.60h3.62v3.65h-3.62zM127.76 78.30h3.62v3.65h-3.62zM114.48 81.66h3.62v3.65h-3.62zM131.08 85.01h3.62v3.65h-3.62zM144.36 95.07h3.62v3.65h-3.62zM84.60 101.77h3.62v3.65h-3.62zM84.60 105.12h3.62v3.65h-3.62zM41.44 108.48h3.62v3.65h-3.62zM117.80 115.18h3.62v3.65h-3.62zM94.56 118.53h3.62v3.65h-3.62zM48.08 121.89h3.62v3.65h-3.62zM91.24 121.89h3.62v3.65h-3.62zM97.88 125.24h3.62v3.65h-3.62zM28.16 128.59h3.62v3.65h-3.62zM34.80 128.59h3.62v3.65h-3.62zM121.12 128.59h3.62v3.65h-3.62zM44.76 135.30h3.62v3.65h-3.62zM144.36 135.30h3.62v3.65h-3.62zM81.28 138.65h3.62v3.65h-3.62zM94.56 138.65h3.62v3.65h-3.62zM131.08 138.65h3.62v3.65h-3.62z"/>
<path fill="#b885a2" d="M34.80 11.26h3.62v3.65h-3.62zM64.68 17.96h3.62v3.65h-3.62zM91.24 41.43h3.62v3.65h-3.62zM21.52 44.78h3.62v3.65h-3.62zM117.80 48.13h3.62v3.65h-3.62zM58.04 58.19h3.62v3.65h-3.62zM114.48 58.19h3.62v3.65h-3.62zM124.44 58.19h3.62v3.65h-3.62zM91.24 61.54h3.62v3.65h-3.62zM18.20 68.25h3.62v3.65h-3.62zM107.84 71.60h3.62v3.65h-3.62zM117.80 74.95h3.62v3.65h-3.62zM31.48 78.30h3.62v3.65h-3.62zM74.64 85.01h3.62v3.65h-3.62zM101.20 88.36h3.62v3.65h-3.62zM114.48 88.36h3.62v3.65h-3.62zM54.72 91.71h3.62v3.65h-3.62zM64.68 95.07h3.62v3.65h-3.62zM71.32 95.07h3.62v3.65h-3.62zM137.72 95.07h3.62v3.65h-3.62zM51.40 101.77h3.62v3.65h-3.62zM141.04 101.77h3.62v3.65h-3.62zM137.72 105.12h3.62v3.65h-3.62zM31.48 108.48h3.62v3.65h-3.62zM141.04 108.48h3.62v3.65h-3.62zM74.64 115.18h3.62v3.65h-3.62zM137.72 118.53h3.62v3.65h-3.62zM41.44 125.24h3.62v3.65h-3.62zM54.72 131.94h3.62v3.65h-3.62zM121.12 135.30h3.62v3.65h-3.62z"/>
<path fill="#9c7aa3" d="M38.12 11.26h3.62v3.65h-3.62zM34.80 85.01h3.62v3.65h-3.62z"/>
<path fill="#7f70a4" d="M41.44 11.26h3.62v3.65h-3.62zM44.76 51.49h3.62v3.65h-3.62zM41.44 71.60h3.62v3.65h-3.62zM34.80 91.71h3.62v3.65h-3.62z"/>
<path fill="#b684a2" d="M48.08 11.26h3.62v3.65h-3.62zM21.52 17.96h3.62v3.65h-3.62zM77.96 34.72h3.62v3.65h-3.62zM97.88 41.43h3.62v3.65h-3.62zM84.60 48.13h3.62v3.65h-3.62zM34.80 61.54h3.62v3.65h-3.62zM134.40 85.01h3.62v3.65h-3.62zM141.04 88.36h3.62v3.65h-3.62zM147.68 88.36h3.62v3.65h-3.62zM141.04 91.71h3.62v3.65h-3.62zM147.68 91.71h3.62v3.65h-3.62zM114.48 98.42h3.62v3.65h-3.62zM144.36 98.42h3.62v3.65h-3.62zM48.08 105.12h3.62v3.65h-3.62zM107.84 115.18h3.62v3.65h-3.62zM41.44 128.59h3.62v3.65h-3.62z"/>
<path fill="#ce8fa1" d="M54.72 11.26h3.62v3.65h-3.62zM31.48 31.37h3.62v3.65h-3.62zM124.44 48.13h3.62v3.65h-3.62zM41.44 95.07h3.62v3.65h-3.62zM101.20 111.83h3.62v3.65h-3.62z"/>
<path fill="#c089a2" d="M58.04 11.26h3.62v3.65h-3.62zM51.40 28.02h3.62v3.65h-3.62zM94.56 38.08h3.62v3.65h-3.62zM101.20 38.08h3.62v3.65h-3.62zM68.00 51.49h3.62v3.65h-3.62zM147.68 61.54h3.62v3.65h-3.62zM21.52 64.90h3.62v3.65h-3.62zM91.24 64.90h3.62v3.65h-3.62zM107.84 64.90h3.62v3.65h-3.62zM124.44 64.90h3.62v3.65h-3.62zM147.68 68.25h3.62v3.65h-3.62zM104.52 78.30h3.62v3.65h-3.62zM137.72 81.66h3.62v3.65h-3.62zM24.84 85.01h3.62v3.65h-3.62zM58.04 98.42h3.62v3.65h-3.62zM97.88 101.77h3.62v3.65h-3.62zM48.08 118.53h3.62v3.65h-3.62zM74.64 118.53h3.62v3.65h-3.62zM114.48 128.59h3.62v3.65h-3.62zM141.04 128.59h3.62v3.65h-3.62zM28.16 135.30h3.62v3.65h-3.62zM101.20 135.30h3.62v3.65h-3.62zM71.32 138.65h3.62v3.65h-3.62zM114.48 138.65h3.62v3.65h-3.62z"/>
<path fill="#8572a4" d="M71.32 11.26h3.62v3.65h-3.62zM41.44 41.43h3.62v3.65h-3.62zM41.44 51.49h3.62v3.65h-3.62zM28.16 95.07h3.62v3.65h-3.62z"/>
<path fill="#7d70a4" d="M77.96 11.26h3.62v3.65h-3.62zM44.76 14.61h3.62v3.65h-3.62zM111.16 31.37h3.62v3.65h-3.62zM44.76 48.13h3.62v3.65h-3.62zM44.76 54.84h3.62v3.65h-3.62zM41.44 78.30h3.62v3.65h-3.62zM24.84 101.77h3.62v3.65h-3.62z"/>
<path fill="#6467a5" d="M81.28 11.26h3.62v3.65h-3.62zM114.48 31.37h3.62v3.65h-3.62zM147.68 54.84h3.62v3.65h-3.62z"/>
<path fill="#6066a5" d="M84.60 11.26h3.62v3.65h-3.62zM104.52 24.67h3.62v3.65h-3.62z"/>
<path fill="#3e5aa7" d="M117.80 11.26h3.62v3.65h-3.62zM127.76 34.72h3.62v3.65h-3.62z"/>
<path fill="#b182a2" d="M24.84 14.61h3.62v3.65h-3.62zM81.28 28.02h3.62v3.65h-3.62zM18.20 34.72h3.62v3.65h-3.62zM21.52 34.72h3.62v3.65h-3.62zM58.04 34.72h3.62v3.65h-3.62zM87.92 34.72h3.62v3.65h-3.62zM58.04 38.08h3.62v3.65h-3.62zM84.60 38.08h3.62v3.65h-3.62zM31.48 41.43h3.62v3.65h-3.62zM18.20 51.49h3.62v3.65h-3.62zM58.04 51.49h3.62v3.65h-3.62zM64.68 51.49h3.62v3.65h-3.62zM51.40 54.84h3.62v3.65h-3.62zM18.20 58.19h3.62v3.65h-3.62zM51.40 58.19h3.62v3.65h-3.62zM101.20 58.19h3.62v3.65h-3.62zM107.84 58.19h3.62v3.65h-3.62zM54.72 61.54h3.62v3.65h-3.62zM64.68 61.54h3.62v3.65h-3.62zM107.84 61.54h3.62v3.65h-3.62zM24.84 64.90h3.62v3.65h-3.62zM31.48 64.90h3.62v3.65h-3.62zM54.72 64.90h3.62v3.65h-3.62zM64.68 64.90h3.62v3.65h-3.62zM101.20 64.90h3.62v3.65h-3.62zM134.40 64.90h3.62v3.65h-3.62zM34.80 68.25h3.62v3.65h-3.62zM84.60 68.25h3.62v3.65h-3.62zM28.16 71.60h3.62v3.65h-3.62zM84.60 71.60h3.62v3.65h-3.62zM111.16 71.60h3.62v3.65h-3.62zM68.00 74.95h3.62v3.65h-3.62zM97.88 74.95h3.62v3.65h-3.62zM121.12 74.95h3.62v3.65h-3.62zM24.84 78.30h3.62v3.65h-3.62zM94.56 78.30h3.62v3.65h-3.62zM97.88 78.30h3.62v3.65h-3.62zM117.80 81.66h3.62v3.65h-3.62zM68.00 85.01h3.62v3.65h-3.62zM64.68 88.36h3.62v3.65h-3.62zM74.64 88.36h3.62v3.65h-3.62zM124.44 88.36h3.62v3.65h-3.62zM58.04 91.71h3.62v3.65h-3.62zM64.68 91.71h3.62v3.65h-3.62zM111.16 91.71h3.62v3.65h-3.62zM117.80 91.71h3.62v3.65h-3.62zM124.44 91.71h3.62v3.65h-3.62zM54.72 98.42h3.62v3.65h-3.62zM111.16 98.42h3.62v3.65h-3.62zM137.72 98.42h3.62v3.65h-3.62zM147.68 105.12h3.62v3.65h-3.62zM111.16 108.48h3.62v3.65h-3.62zM87.92 111.83h3.62v3.65h-3.62zM94.56 111.83h3.62v3.65h-3.62zM58.04 118.53h3.62v3.65h-3.62zM107.84 118.53h3.62v3.65h-3.62zM141.04 118.53h3.62v3.65h-3.62zM74.64 121.89h3.62v3.65h-3.62zM107.84 121.89h3.62v3.65h-3.62zM114.48 121.89h3.62v3.65h-3.62zM94.56 125.24h3.62v3.65h-3.62zM38.12 131.94h3.62v3.65h-3.62zM24.84 135.30h3.62v3.65h-3.62zM74.64 135.30h3.62v3.65h-3.62zM87.92 138.65h3.62v3.65h-3.62zM147.68 138.65h3.62v3.65h-3.62z"/>
<path fill="#ab80a3" d="M28.16 14.61h3.62v3.65h-3.62zM34.80 28.02h3.62v3.65h-3.62zM61.36 28.02h3.62v3.65h-3.62zM61.36 41.43h3.62v3.65h-3.62zM34.80 44.78h3.62v3.65h-3.62zM91.24 51.49h3.62v3.65h-3.62zM117.80 51.49h3.62v3.65h-3.62zM84.60 54.84h3.62v3.65h-3.62zM77.96 58.19h3.62v3.65h-3.62zM84.60 58.19h3.62v3.65h-3.62zM91.24 58.19h3.62v3.65h-3.62zM127.76 61.54h3.62v3.65h-3.62zM117.80 64.90h3.62v3.65h-3.62zM61.36 78.30h3.62v3.65h-3.62zM81.28 81.66h3.62v3.65h-3.62zM121.12 81.66h3.62v3.65h-3.62zM61.36 91.71h3.62v3.65h-3.62zM91.24 98.42h3.62v3.65h-3.62zM61.36 105.12h3.62v3.65h-3.62zM77.96 105.12h3.62v3.65h-3.62zM134.40 108.48h3.62v3.65h-3.62zM84.60 111.83h3.62v3.65h-3.62zM28.16 115.18h3.62v3.65h-3.62zM124.44 115.18h3.62v3.65h-3.62zM81.28 118.53h3.62v3.65h-3.62zM124.44 121.89h3.62v3.65h-3.62zM71.32 125.24h3.62v3.65h-3.62zM71.32 128.59h3.62v3.65h-3.62zM18.20 131.94h3.62v3.65h-3.62zM48.08 131.94h3.62v3.65h-3.62zM61.36 131.94h3.62v3.65h-3.62zM71.32 131.94h3.62v3.65h-3.62zM134.40 131.94h3.62v3.65h-3.62zM31.48 135.30h3.62v3.65h-3.62zM48.08 135.30h3.62v3.65h-3.62zM84.60 135.30h3.62v3.65h-3.62z"/>
<path fill="#bd87a2" d="M34.80 14.61h3.62v3.65h-3.62zM77.96 31.37h3.62v3.65h-3.62zM77.96 44.78h3.62v3.65h-3.62zM51.40 48.13h3.62v3.65h-3.62zM134.40 51.49h3.62v3.65h-3.62zM104.52 54.84h3.62v3.65h-3.62zM127.76 54.84h3.62v3.65h-3.62zM91.24 68.25h3.62v3.65h-3.62zM97.88 68.25h3.62v3.65h-3.62zM117.80 78.30h3.62v3.65h-3.62zM24.84 81.66h3.62v3.65h-3.62zM114.48 91.71h3.62v3.65h-3.62zM134.40 91.71h3.62v3.65h-3.62zM34.80 105.12h3.62v3.65h-3.62zM71.32 115.18h3.62v3.65h-3.62zM44.76 125.24h3.62v3.65h-3.62zM101.20 125.24h3.62v3.65h-3.62zM101.20 138.65h3.62v3.65h-3.62z"/>
<path fill="#8673a4" d="M41.44 14.61h3.62v3.65h-3.62zM41.44 21.31h3.62v3.65h-3.62z"/>
<path fill="#b082a2" d="M48.08 14.61h3.62v3.65h-3.62zM87.92 48.13h3.62v3.65h-3.62zM24.84 54.84h3.62v3.65h-3.62zM64.68 54.84h3.62v3.65h-3.62zM74.64 54.84h3.62v3.65h-3.62zM77.96 54.84h3.62v3.65h-3.62zM101.20 54.84h3.62v3.65h-3.62zM31.48 58.19h3.62v3.65h-3.62zM77.96 61.54h3.62v3.65h-3.62zM101.20 71.60h3.62v3.65h-3.62zM18.20 88.36h3.62v3.65h-3.62zM24.84 91.71h3.62v3.65h-3.62zM111.16 95.07h3.62v3.65h-3.62zM31.48 118.53h3.62v3.65h-3.62zM18.20 121.89h3.62v3.65h-3.62zM87.92 125.24h3.62v3.65h-3.62zM107.84 128.59h3.62v3.65h-3.62z"/>
<path fill="#c98da2" d="M54.72 14.61h3.62v3.65h-3.62zM131.08 91.71h3.62v3.65h-3.62zM68.00 98.42h3.62v3.65h-3.62zM131.08 101.77h3.62v3.65h-3.62z"/>
<path fill="#bf88a2" d="M64.68 14.61h3.62v3.65h-3.62zM68.00 17.96h3.62v3.65h-3.62zM87.92 41.43h3.62v3.65h-3.62zM104.52 51.49h3.62v3.65h-3.62zM121.12 54.84h3.62v3.65h-3.62zM121.12 71.60h3.62v3.65h-3.62zM31.48 74.95h3.62v3.65h-3.62zM131.08 78.30h3.62v3.65h-3.62zM87.92 81.66h3.62v3.65h-3.62zM81.28 105.12h3.62v3.65h-3.62zM127.76 108.48h3.62v3.65h-3.62zM81.28 111.83h3.62v3.65h-3.62zM54.72 115.18h3.62v3.65h-3.62zM97.88 118.53h3.62v3.65h-3.62zM54.72 125.24h3.62v3.65h-3.62zM147.68 125.24h3.62v3.65h-3.62zM131.08 135.30h3.62v3.65h-3.62z"/>
<path fill="#c189a2" d="M68.00 14.61h3.62v3.65h-3.62zM91.24 31.37h3.62v3.65h-3.62zM97.88 44.78h3.62v3.65h-3.62zM68.00 54.84h3.62v3.65h-3.62zM114.48 54.84h3.62v3.65h-3.62zM137.72 54.84h3.62v3.65h-3.62zM131.08 58.19h3.62v3.65h-3.62zM131.08 64.90h3.62v3.65h-3.62zM137.72 64.90h3.62v3.65h-3.62zM51.40 68.25h3.62v3.65h-3.62zM34.80 81.66h3.62v3.65h-3.62zM144.36 81.66h3.62v3.65h-3.62zM41.44 91.71h3.62v3.65h-3.62zM87.92 98.42h3.62v3.65h-3.62zM97.88 98.42h3.62v3.65h-3.62zM68.00 105.12h3.62v3.65h-3.62zM97.88 105.12h3.62v3.65h-3.62zM127.76 105.12h3.62v3.65h-3.62zM18.20 108.48h3.62v3.65h-3.62zM101.20 108.48h3.62v3.65h-3.62zM124.44 108.48h3.62v3.65h-3.62zM127.76 115.18h3.62v3.65h-3.62zM101.20 118.53h3.62v3.65h-3.62zM137.72 131.94h3.62v3.65h-3.62zM114.48 135.30h3.62v3.65h-3.62zM111.16 138.65h3.62v3.65h-3.62z"/>
<path fill="#e096a1" d="M71.32 14.61h3.62v3.65h-3.62zM141.04 61.54h3.62v3.65h-3.62z"/>
<path fill="#cd8ea1" d="M74.64 14.61h3.62v3.65h-3.62zM97.88 48.13h3.62v3.65h-3.62zM114.48 48.13h3.62v3.65h-3.62zM137.72 58.19h3.62v3.65h-3.62zM144.36 58.19h3.62v3.65h-3.62zM144.36 61.54h3.62v3.65h-3.62zM18.20 74.95h3.62v3.65h-3.62zM54.72 81.66h3.62v3.65h-3.62zM54.72 108.48h3.62v3.65h-3.62zM131.08 128.59h3.62v3.65h-3.62z"/>
<path fill="#8d75a4" d="M77.96 14.61h3.62v3.65h-3.62zM94.56 21.31h3.62v3.65h-3.62zM141.04 54.84h3.62v3.65h-3.62zM31.48 98.42h3.62v3.65h-3.62zM34.80 98.42h3.62v3.65h-3.62z"/>
<path fill="#736ca5" d="M84.60 14.61h3.62v3.65h-3.62zM28.16 105.12h3.62v3.65h-3.62z"/>
<path fill="#706ba5" d="M87.92 14.61h3.62v3.65h-3.62zM97.88 21.31h3.62v3.65h-3.62z"/>
<path fill="#a67ea3" d="M28.16 17.96h3.62v3.65h-3.62zM81.28 31.37h3.62v3.65h-3.62zM84.60 121.89h3.62v3.65h-3.62zM104.52 128.59h3.62v3.65h-3.62zM77.96 131.94h3.62v3.65h-3.62zM77.96 135.30h3.62v3.65h-3.62zM77.96 138.65h3.62v3.65h-3.62zM104.52 138.65h3.62v3.65h-3.62z"/>
<path fill="#776ea5" d="M41.44 17.96h3.62v3.65h-3.62zM18.20 95.07h3.62v3.65h-3.62zM21.52 95.07h3.62v3.65h-3.62z"/>
<path fill="#e99aa1" d="M71.32 17.96h3.62v3.65h-3.62z"/>
<path fill="#d993a1" d="M74.64 17.96h3.62v3.65h-3.62zM101.20 28.02h3.62v3.65h-3.62zM104.52 31.37h3.62v3.65h-3.62z"/>
<path fill="#d591a1" d="M77.96 17.96h3.62v3.65h-3.62z"/>
<path fill="#ee9ca0" d="M81.28 17.96h3.62v3.65h-3.62z"/>
<path fill="#da94a1" d="M84.60 17.96h3.62v3.65h-3.62zM114.48 38.08h3.62v3.65h-3.62zM121.12 48.13h3.62v3.65h-3.62z"/>
<path fill="#9076a4" d="M87.92 17.96h3.62v3.65h-3.62zM38.12 38.08h3.62v3.65h-3.62zM38.12 61.54h3.62v3.65h-3.62z"/>
<path fill="#6b6aa5" d="M91.24 17.96h3.62v3.65h-3.62z"/>
<path fill="#5a64a6" d="M94.56 17.96h3.62v3.65h-3.62z"/>
<path fill="#aa80a3" d="M18.20 21.31h3.62v3.65h-3.62zM91.24 81.66h3.62v3.65h-3.62zM81.28 85.01h3.62v3.65h-3.62zM48.08 98.42h3.62v3.65h-3.62zM28.16 111.83h3.62v3.65h-3.62zM28.16 121.89h3.62v3.65h-3.62zM77.96 121.89h3.62v3.65h-3.62zM117.80 128.59h3.62v3.65h-3.62zM84.60 138.65h3.62v3.65h-3.62z"/>
<path fill="#a87fa3" d="M28.16 21.31h3.62v3.65h-3.62zM61.36 51.49h3.62v3.65h-3.62zM81.28 61.54h3.62v3.65h-3.62zM91.24 74.95h3.62v3.65h-3.62zM61.36 85.01h3.62v3.65h-3.62zM77.96 95.07h3.62v3.65h-3.62zM104.52 95.07h3.62v3.65h-3.62zM28.16 108.48h3.62v3.65h-3.62zM77.96 111.83h3.62v3.65h-3.62zM84.60 125.24h3.62v3.65h-3.62zM61.36 138.65h3.62v3.65h-3.62z"/>
<path fill="#a87ea3" d="M34.80 21.31h3.62v3.65h-3.62zM61.36 58.19h3.62v3.65h-3.62zM81.28 88.36h3.62v3.65h-3.62zM81.28 91.71h3.62v3.65h-3.62zM104.52 101.77h3.62v3.65h-3.62zM84.60 115.18h3.62v3.65h-3.62z"/>
<path fill="#9d7aa3" d="M38.12 21.31h3.62v3.65h-3.62zM38.12 68.25h3.62v3.65h-3.62zM38.12 81.66h3.62v3.65h-3.62zM34.80 88.36h3.62v3.65h-3.62z"/>
<path fill="#b383a2" d="M51.40 21.31h3.62v3.65h-3.62zM28.16 24.67h3.62v3.65h-3.62zM54.72 24.67h3.62v3.65h-3.62zM58.04 24.67h3.62v3.65h-3.62zM54.72 28.02h3.62v3.65h-3.62zM84.60 31.37h3.62v3.65h-3.62zM21.52 38.08h3.62v3.65h-3.62zM91.24 38.08h3.62v3.65h-3.62zM24.84 41.43h3.62v3.65h-3.62zM101.20 41.43h3.62v3.65h-3.62zM24.84 44.78h3.62v3.65h-3.62zM64.68 48.13h3.62v3.65h-3.62zM54.72 51.49h3.62v3.65h-3.62zM58.04 54.84h3.62v3.65h-3.62zM94.56 58.19h3.62v3.65h-3.62zM94.56 61.54h3.62v3.65h-3.62zM114.48 61.54h3.62v3.65h-3.62zM18.20 64.90h3.62v3.65h-3.62zM84.60 64.90h3.62v3.65h-3.62zM114.48 64.90h3.62v3.65h-3.62zM104.52 68.25h3.62v3.65h-3.62zM127.76 68.25h3.62v3.65h-3.62zM54.72 71.60h3.62v3.65h-3.62zM68.00 71.60h3.62v3.65h-3.62zM134.40 71.60h3.62v3.65h-3.62zM114.48 74.95h3.62v3.65h-3.62zM68.00 78.30h3.62v3.65h-3.62zM71.32 78.30h3.62v3.65h-3.62zM124.44 78.30h3.62v3.65h-3.62zM18.20 81.66h3.62v3.65h-3.62zM58.04 81.66h3.62v3.65h-3.62zM18.20 85.01h3.62v3.65h-3.62zM31.48 85.01h3.62v3.65h-3.62zM124.44 85.01h3.62v3.65h-3.62zM141.04 85.01h3.62v3.65h-3.62zM68.00 88.36h3.62v3.65h-3.62zM94.56 88.36h3.62v3.65h-3.62zM51.40 91.71h3.62v3.65h-3.62zM68.00 91.71h3.62v3.65h-3.62zM58.04 95.07h3.62v3.65h-3.62zM94.56 95.07h3.62v3.65h-3.62zM54.72 101.77h3.62v3.65h-3.62zM114.48 101.77h3.62v3.65h-3.62zM38.12 105.12h3.62v3.65h-3.62zM44.76 105.12h3.62v3.65h-3.62zM91.24 105.12h3.62v3.65h-3.62zM144.36 105.12h3.62v3.65h-3.62zM21.52 108.48h3.62v3.65h-3.62zM34.80 108.48h3.62v3.65h-3.62zM84.60 108.48h3.62v3.65h-3.62zM21.52 111.83h3.62v3.65h-3.62zM51.40 111.83h3.62v3.65h-3.62zM114.48 111.83h3.62v3.65h-3.62zM144.36 111.83h3.62v3.65h-3.62zM68.00 118.53h3.62v3.65h-3.62zM147.68 118.53h3.62v3.65h-3.62zM58.04 121.89h3.62v3.65h-3.62zM137.72 121.89h3.62v3.65h-3.62zM114.48 125.24h3.62v3.65h-3.62zM121.12 125.24h3.62v3.65h-3.62zM21.52 128.59h3.62v3.65h-3.62zM94.56 128.59h3.62v3.65h-3.62zM94.56 131.94h3.62v3.65h-3.62zM41.44 135.30h3.62v3.65h-3.62zM68.00 135.30h3.62v3.65h-3.62zM97.88 138.65h3.62v3.65h-3.62z"/>
<path fill="#d792a1" d="M71.32 21.31h3.62v3.65h-3.62z"/>
<path fill="#c98ca2" d="M74.64 21.31h3.62v3.65h-3.62zM117.80 44.78h3.62v3.65h-3.62zM58.04 105.12h3.62v3.65h-3.62zM111.16 131.94h3.62v3.65h-3.62z"/>
<path fill="#d491a1" d="M77.96 21.31h3.62v3.65h-3.62zM107.84 44.78h3.62v3.65h-3.62zM141.04 58.19h3.62v3.65h-3.62zM21.52 71.60h3.62v3.65h-3.62z"/>
<path fill="#f7a0a0" d="M81.28 21.31h3.62v3.65h-3.62zM84.60 21.31h3.62v3.65h-3.62zM94.56 28.02h3.62v3.65h-3.62zM97.88 28.02h3.62v3.65h-3.62zM97.88 31.37h3.62v3.65h-3.62zM111.16 41.43h3.62v3.65h-3.62z"/>
<path fill="#e297a1" d="M87.92 21.31h3.62v3.65h-3.62z"/>
<path fill="#9377a4" d="M91.24 21.31h3.62v3.65h-3.62z"/>
<path fill="#c58ba2" d="M21.52 24.67h3.62v3.65h-3.62zM71.32 31.37h3.62v3.65h-3.62zM101.20 48.13h3.62v3.65h-3.62zM121.12 91.71h3.62v3.65h-3.62zM131.08 98.42h3.62v3.65h-3.62zM41.44 101.77h3.62v3.65h-3.62zM21.52 121.89h3.62v3.65h-3.62zM34.80 121.89h3.62v3.65h-3.62zM68.00 121.89h3.62v3.65h-3.62zM101.20 121.89h3.62v3.65h-3.62zM51.40 135.30h3.62v3.65h-3.62z"/>
<path fill="#c28aa2" d="M24.84 24.67h3.62v3.65h-3.62zM84.60 28.02h3.62v3.65h-3.62zM101.20 51.49h3.62v3.65h-3.62zM144.36 68.25h3.62v3.65h-3.62zM31.48 71.60h3.62v3.65h-3.62zM54.72 74.95h3.62v3.65h-3.62zM21.52 78.30h3.62v3.65h-3.62zM111.16 81.66h3.62v3.65h-3.62zM38.12 95.07h3.62v3.65h-3.62zM68.00 101.77h3.62v3.65h-3.62zM51.40 108.48h3.62v3.65h-3.62zM111.16 111.83h3.62v3.65h-3.62z"/>
<path fill="#af82a3" d="M31.48 24.67h3.62v3.65h-3.62zM28.16 31.37h3.62v3.65h-3.62zM68.00 31.37h3.62v3.65h-3.62zM48.08 44.78h3.62v3.65h-3.62zM58.04 44.78h3.62v3.65h-3.62zM74.64 44.78h3.62v3.65h-3.62zM18.20 48.13h3.62v3.65h-3.62zM24.84 48.13h3.62v3.65h-3.62zM84.60 51.49h3.62v3.65h-3.62zM81.28 54.84h3.62v3.65h-3.62zM87.92 54.84h3.62v3.65h-3.62zM74.64 58.19h3.62v3.65h-3.62zM127.76 58.19h3.62v3.65h-3.62zM31.48 61.54h3.62v3.65h-3.62zM34.80 64.90h3.62v3.65h-3.62zM104.52 64.90h3.62v3.65h-3.62zM74.64 68.25h3.62v3.65h-3.62zM134.40 68.25h3.62v3.65h-3.62zM64.68 71.60h3.62v3.65h-3.62zM71.32 71.60h3.62v3.65h-3.62zM28.16 74.95h3.62v3.65h-3.62zM74.64 74.95h3.62v3.65h-3.62zM48.08 78.30h3.62v3.65h-3.62zM74.64 78.30h3.62v3.65h-3.62zM127.76 85.01h3.62v3.65h-3.62zM147.68 85.01h3.62v3.65h-3.62zM31.48 88.36h3.62v3.65h-3.62zM127.76 88.36h3.62v3.65h-3.62zM107.84 91.71h3.62v3.65h-3.62zM74.64 95.07h3.62v3.65h-3.62zM101.20 98.42h3.62v3.65h-3.62zM87.92 105.12h3.62v3.65h-3.62zM87.92 108.48h3.62v3.65h-3.62zM147.68 108.48h3.62v3.65h-3.62zM68.00 111.83h3.62v3.65h-3.62zM31.48 115.18h3.62v3.65h-3.62zM68.00 115.18h3.62v3.65h-3.62zM141.04 115.18h3.62v3.65h-3.62zM18.20 125.24h3.62v3.65h-3.62zM74.64 125.24h3.62v3.65h-3.62zM24.84 131.94h3.62v3.65h-3.62zM107.84 131.94h3.62v3.65h-3.62zM117.80 135.30h3.62v3.65h-3.62z"/>
<path fill="#9778a3" d="M38.12 24.67h3.62v3.65h-3.62z"/>
<path fill="#7d6fa4" d="M41.44 24.67h3.62v3.65h-3.62z"/>
<path fill="#d290a1" d="M71.32 24.67h3.62v3.65h-3.62zM87.92 28.02h3.62v3.65h-3.62zM97.88 51.49h3.62v3.65h-3.62zM54.72 85.01h3.62v3.65h-3.62zM111.16 128.59h3.62v3.65h-3.62z"/>
<path fill="#d190a1" d="M81.28 24.67h3.62v3.65h-3.62zM107.84 48.13h3.62v3.65h-3.62zM131.08 54.84h3.62v3.65h-3.62zM87.92 88.36h3.62v3.65h-3.62zM41.44 98.42h3.62v3.65h-3.62zM131.08 105.12h3.62v3.65h-3.62z"/>
<path fill="#e699a1" d="M84.60 24.67h3.62v3.65h-3.62z"/>
<path fill="#f19da0" d="M87.92 24.67h3.62v3.65h-3.62zM111.16 38.08h3.62v3.65h-3.62z"/>
<path fill="#f09da0" d="M91.24 24.67h3.62v3.65h-3.62z"/>
<path fill="#df96a1" d="M94.56 24.67h3.62v3.65h-3.62z"/>
<path fill="#7e70a4" d="M97.88 24.67h3.62v3.65h-3.62zM41.44 34.72h3.62v3.65h-3.62zM44.76 44.78h3.62v3.65h-3.62zM31.48 91.71h3.62v3.65h-3.62z"/>
<path fill="#8c74a4" d="M101.20 24.67h3.62v3.65h-3.62z"/>
<path fill="#bd88a2" d="M21.52 28.02h3.62v3.65h-3.62zM31.48 38.08h3.62v3.65h-3.62zM91.24 44.78h3.62v3.65h-3.62zM107.84 51.49h3.62v3.65h-3.62zM121.12 61.54h3.62v3.65h-3.62zM124.44 61.54h3.62v3.65h-3.62zM77.96 68.25h3.62v3.65h-3.62zM104.52 81.66h3.62v3.65h-3.62zM131.08 81.66h3.62v3.65h-3.62zM97.88 91.71h3.62v3.65h-3.62zM114.48 95.07h3.62v3.65h-3.62zM131.08 121.89h3.62v3.65h-3.62zM74.64 138.65h3.62v3.65h-3.62z"/>
<path fill="#b483a2" d="M28.16 28.02h3.62v3.65h-3.62zM104.52 44.78h3.62v3.65h-3.62zM51.40 61.54h3.62v3.65h-3.62zM97.88 61.54h3.62v3.65h-3.62zM71.32 88.36h3.62v3.65h-3.62zM71.32 91.71h3.62v3.65h-3.62zM18.20 111.83h3.62v3.65h-3.62zM94.56 115.18h3.62v3.65h-3.62zM31.48 121.89h3.62v3.65h-3.62zM104.52 121.89h3.62v3.65h-3.62zM97.88 128.59h3.62v3.65h-3.62zM41.44 131.94h3.62v3.65h-3.62zM94.56 135.30h3.62v3.65h-3.62zM97.88 135.30h3.62v3.65h-3.62zM144.36 138.65h3.62v3.65h-3.62z"/>
<path fill="#7c6fa4" d="M44.76 28.02h3.62v3.65h-3.62zM41.44 58.19h3.62v3.65h-3.62zM44.76 71.60h3.62v3.65h-3.62zM34.80 95.07h3.62v3.65h-3.62zM21.52 101.77h3.62v3.65h-3.62z"/>
<path fill="#b082a3" d="M48.08 28.02h3.62v3.65h-3.62zM68.00 34.72h3.62v3.65h-3.62zM84.60 34.72h3.62v3.65h-3.62zM18.20 38.08h3.62v3.65h-3.62zM48.08 38.08h3.62v3.65h-3.62zM68.00 41.43h3.62v3.65h-3.62zM31.48 44.78h3.62v3.65h-3.62zM31.48 48.13h3.62v3.65h-3.62zM74.64 48.13h3.62v3.65h-3.62zM74.64 51.49h3.62v3.65h-3.62zM24.84 58.19h3.62v3.65h-3.62zM28.16 58.19h3.62v3.65h-3.62zM58.04 64.90h3.62v3.65h-3.62zM48.08 71.60h3.62v3.65h-3.62zM91.24 71.60h3.62v3.65h-3.62zM124.44 71.60h3.62v3.65h-3.62zM24.84 74.95h3.62v3.65h-3.62zM64.68 74.95h3.62v3.65h-3.62zM71.32 74.95h3.62v3.65h-3.62zM58.04 78.30h3.62v3.65h-3.62zM64.68 78.30h3.62v3.65h-3.62zM68.00 81.66h3.62v3.65h-3.62zM94.56 81.66h3.62v3.65h-3.62zM97.88 81.66h3.62v3.65h-3.62zM64.68 85.01h3.62v3.65h-3.62zM101.20 85.01h3.62v3.65h-3.62zM117.80 85.01h3.62v3.65h-3.62zM58.04 88.36h3.62v3.65h-3.62zM121.12 88.36h3.62v3.65h-3.62zM44.76 91.71h3.62v3.65h-3.62zM44.76 101.77h3.62v3.65h-3.62zM111.16 101.77h3.62v3.65h-3.62zM111.16 105.12h3.62v3.65h-3.62zM38.12 108.48h3.62v3.65h-3.62zM107.84 108.48h3.62v3.65h-3.62zM58.04 111.83h3.62v3.65h-3.62zM18.20 115.18h3.62v3.65h-3.62zM24.84 115.18h3.62v3.65h-3.62zM64.68 115.18h3.62v3.65h-3.62zM114.48 115.18h3.62v3.65h-3.62zM147.68 115.18h3.62v3.65h-3.62zM127.76 121.89h3.62v3.65h-3.62zM48.08 125.24h3.62v3.65h-3.62zM64.68 125.24h3.62v3.65h-3.62zM24.84 128.59h3.62v3.65h-3.62zM74.64 128.59h3.62v3.65h-3.62zM21.52 131.94h3.62v3.65h-3.62zM74.64 131.94h3.62v3.65h-3.62zM87.92 131.94h3.62v3.65h-3.62zM127.76 131.94h3.62v3.65h-3.62zM44.76 138.65h3.62v3.65h-3.62z"/>
<path fill="#e598a1" d="M91.24 28.02h3.62v3.65h-3.62z"/>
<path fill="#6c6aa5" d="M107.84 28.02h3.62v3.65h-3.62zM124.44 38.08h3.62v3.65h-3.62z"/>
<path fill="#aa7fa3" d="M34.80 31.37h3.62v3.65h-3.62zM34.80 34.72h3.62v3.65h-3.62zM61.36 34.72h3.62v3.65h-3.62zM34.80 38.08h3.62v3.65h-3.62zM61.36 38.08h3.62v3.65h-3.62zM71.32 38.08h3.62v3.65h-3.62zM61.36 44.78h3.62v3.65h-3.62zM81.28 58.19h3.62v3.65h-3.62zM81.28 64.90h3.62v3.65h-3.62zM77.96 91.71h3.62v3.65h-3.62zM48.08 95.07h3.62v3.65h-3.62zM81.28 98.42h3.62v3.65h-3.62zM84.60 98.42h3.62v3.65h-3.62zM77.96 101.77h3.62v3.65h-3.62zM77.96 108.48h3.62v3.65h-3.62zM77.96 115.18h3.62v3.65h-3.62zM91.24 115.18h3.62v3.65h-3.62zM77.96 118.53h3.62v3.65h-3.62zM81.28 121.89h3.62v3.65h-3.62zM77.96 125.24h3.62v3.65h-3.62zM91.24 131.94h3.62v3.65h-3.62zM91.24 135.30h3.62v3.65h-3.62zM31.48 138.65h3.62v3.65h-3.62z"/>
<path fill="#8974a4" d="M41.44 31.37h3.62v3.65h-3.62z"/>
<path fill="#786ea5" d="M44.76 31.37h3.62v3.65h-3.62zM41.44 61.54h3.62v3.65h-3.62zM44.76 61.54h3.62v3.65h-3.62zM41.44 88.36h3.62v3.65h-3.62z"/>
<path fill="#c38aa2" d="M51.40 31.37h3.62v3.65h-3.62zM104.52 48.13h3.62v3.65h-3.62zM111.16 48.13h3.62v3.65h-3.62zM94.56 51.49h3.62v3.65h-3.62zM137.72 61.54h3.62v3.65h-3.62zM121.12 68.25h3.62v3.65h-3.62zM134.40 88.36h3.62v3.65h-3.62zM58.04 101.77h3.62v3.65h-3.62zM41.44 115.18h3.62v3.65h-3.62zM41.44 118.53h3.62v3.65h-3.62zM71.32 118.53h3.62v3.65h-3.62zM34.80 125.24h3.62v3.65h-3.62zM44.76 131.94h3.62v3.65h-3.62zM114.48 131.94h3.62v3.65h-3.62zM38.12 138.65h3.62v3.65h-3.62z"/>
<path fill="#ac80a3" d="M61.36 31.37h3.62v3.65h-3.62zM71.32 34.72h3.62v3.65h-3.62zM74.64 34.72h3.62v3.65h-3.62zM68.00 38.08h3.62v3.65h-3.62zM34.80 41.43h3.62v3.65h-3.62zM81.28 41.43h3.62v3.65h-3.62zM71.32 44.78h3.62v3.65h-3.62zM61.36 48.13h3.62v3.65h-3.62zM28.16 51.49h3.62v3.65h-3.62zM91.24 54.84h3.62v3.65h-3.62zM117.80 58.19h3.62v3.65h-3.62zM61.36 61.54h3.62v3.65h-3.62zM117.80 61.54h3.62v3.65h-3.62zM77.96 64.90h3.62v3.65h-3.62zM81.28 74.95h3.62v3.65h-3.62zM81.28 78.30h3.62v3.65h-3.62zM101.20 78.30h3.62v3.65h-3.62zM84.60 85.01h3.62v3.65h-3.62zM121.12 85.01h3.62v3.65h-3.62zM28.16 88.36h3.62v3.65h-3.62zM117.80 88.36h3.62v3.65h-3.62zM91.24 95.07h3.62v3.65h-3.62zM117.80 98.42h3.62v3.65h-3.62zM48.08 101.77h3.62v3.65h-3.62zM71.32 101.77h3.62v3.65h-3.62zM121.12 105.12h3.62v3.65h-3.62zM134.40 105.12h3.62v3.65h-3.62zM71.32 108.48h3.62v3.65h-3.62zM74.64 108.48h3.62v3.65h-3.62zM117.80 111.83h3.62v3.65h-3.62zM28.16 118.53h3.62v3.65h-3.62zM64.68 118.53h3.62v3.65h-3.62zM91.24 118.53h3.62v3.65h-3.62zM71.32 121.89h3.62v3.65h-3.62zM144.36 121.89h3.62v3.65h-3.62zM117.80 125.24h3.62v3.65h-3.62zM134.40 125.24h3.62v3.65h-3.62zM61.36 128.59h3.62v3.65h-3.62zM134.40 128.59h3.62v3.65h-3.62zM31.48 131.94h3.62v3.65h-3.62zM117.80 131.94h3.62v3.65h-3.62zM18.20 135.30h3.62v3.65h-3.62zM107.84 135.30h3.62v3.65h-3.62zM134.40 135.30h3.62v3.65h-3.62zM107.84 138.65h3.62v3.65h-3.62zM117.80 138.65h3.62v3.65h-3.62z"/>
<path fill="#f29ea0" d="M94.56 31.37h3.62v3.65h-3.62zM101.20 31.37h3.62v3.65h-3.62zM107.84 38.08h3.62v3.65h-3.62z"/>
<path fill="#cf8fa1" d="M31.48 34.72h3.62v3.65h-3.62zM137.72 68.25h3.62v3.65h-3.62zM54.72 78.30h3.62v3.65h-3.62z"/>
<path fill="#9879a3" d="M38.12 34.72h3.62v3.65h-3.62z"/>
<path fill="#8973a4" d="M44.76 34.72h3.62v3.65h-3.62z"/>
<path fill="#a57da3" d="M81.28 34.72h3.62v3.65h-3.62zM44.76 85.01h3.62v3.65h-3.62zM104.52 131.94h3.62v3.65h-3.62z"/>
<path fill="#af81a3" d="M91.24 34.72h3.62v3.65h-3.62zM28.16 38.08h3.62v3.65h-3.62zM74.64 41.43h3.62v3.65h-3.62zM87.92 51.49h3.62v3.65h-3.62zM48.08 61.54h3.62v3.65h-3.62zM104.52 61.54h3.62v3.65h-3.62zM28.16 64.90h3.62v3.65h-3.62zM24.84 68.25h3.62v3.65h-3.62zM74.64 71.60h3.62v3.65h-3.62zM87.92 78.30h3.62v3.65h-3.62zM48.08 88.36h3.62v3.65h-3.62zM74.64 91.71h3.62v3.65h-3.62zM104.52 91.71h3.62v3.65h-3.62zM94.56 105.12h3.62v3.65h-3.62zM38.12 111.83h3.62v3.65h-3.62zM74.64 111.83h3.62v3.65h-3.62zM147.68 111.83h3.62v3.65h-3.62zM58.04 115.18h3.62v3.65h-3.62zM114.48 118.53h3.62v3.65h-3.62zM34.80 138.65h3.62v3.65h-3.62z"/>
<path fill="#c88ca2" d="M94.56 34.72h3.62v3.65h-3.62zM131.08 68.25h3.62v3.65h-3.62zM21.52 74.95h3.62v3.65h-3.62zM127.76 101.77h3.62v3.65h-3.62zM31.48 105.12h3.62v3.65h-3.62zM48.08 108.48h3.62v3.65h-3.62zM48.08 111.83h3.62v3.65h-3.62zM104.52 111.83h3.62v3.65h-3.62zM131.08 111.83h3.62v3.65h-3.62zM48.08 115.18h3.62v3.65h-3.62z"/>
<path fill="#dd95a1" d="M97.88 34.72h3.62v3.65h-3.62z"/>
<path fill="#e197a1" d="M101.20 34.72h3.62v3.65h-3.62zM107.84 34.72h3.62v3.65h-3.62z"/>
<path fill="#e799a1" d="M104.52 34.72h3.62v3.65h-3.62zM114.48 44.78h3.62v3.65h-3.62zM111.16 118.53h3.62v3.65h-3.62z"/>
<path fill="#9578a3" d="M111.16 34.72h3.62v3.65h-3.62zM38.12 58.19h3.62v3.65h-3.62zM38.12 71.60h3.62v3.65h-3.62z"/>
<path fill="#6568a5" d="M114.48 34.72h3.62v3.65h-3.62z"/>
<path fill="#6e6ba5" d="M117.80 34.72h3.62v3.65h-3.62z"/>
<path fill="#8b74a4" d="M41.44 38.08h3.62v3.65h-3.62zM41.44 85.01h3.62v3.65h-3.62z"/>
<path fill="#cc8ea2" d="M104.52 38.08h3.62v3.65h-3.62zM141.04 64.90h3.62v3.65h-3.62zM137.72 71.60h3.62v3.65h-3.62zM137.72 85.01h3.62v3.65h-3.62zM121.12 98.42h3.62v3.65h-3.62zM127.76 98.42h3.62v3.65h-3.62zM31.48 101.77h3.62v3.65h-3.62zM54.72 111.83h3.62v3.65h-3.62z"/>
<path fill="#8a74a4" d="M117.80 38.08h3.62v3.65h-3.62zM38.12 91.71h3.62v3.65h-3.62z"/>
<path fill="#e398a1" d="M107.84 41.43h3.62v3.65h-3.62z"/>
<path fill="#f59fa0" d="M114.48 41.43h3.62v3.65h-3.62z"/>
<path fill="#9e7ba3" d="M121.12 41.43h3.62v3.65h-3.62z"/>
<path fill="#756da5" d="M127.76 41.43h3.62v3.65h-3.62zM41.44 44.78h3.62v3.65h-3.62zM24.84 98.42h3.62v3.65h-3.62z"/>
<path fill="#dc94a1" d="M111.16 44.78h3.62v3.65h-3.62z"/>
<path fill="#d592a1" d="M121.12 44.78h3.62v3.65h-3.62z"/>
<path fill="#796ea4" d="M131.08 44.78h3.62v3.65h-3.62z"/>
<path fill="#5662a6" d="M134.40 44.78h3.62v3.65h-3.62z"/>
<path fill="#9277a4" d="M38.12 48.13h3.62v3.65h-3.62zM38.12 54.84h3.62v3.65h-3.62zM41.44 64.90h3.62v3.65h-3.62z"/>
<path fill="#7a6ea4" d="M41.44 48.13h3.62v3.65h-3.62zM44.76 68.25h3.62v3.65h-3.62z"/>
<path fill="#c68ba2" d="M81.28 48.13h3.62v3.65h-3.62zM94.56 48.13h3.62v3.65h-3.62zM114.48 51.49h3.62v3.65h-3.62zM137.72 91.71h3.62v3.65h-3.62zM81.28 108.48h3.62v3.65h-3.62z"/>
<path fill="#d08fa1" d="M127.76 48.13h3.62v3.65h-3.62zM44.76 118.53h3.62v3.65h-3.62z"/>
<path fill="#5e65a5" d="M137.72 48.13h3.62v3.65h-3.62z"/>
<path fill="#a37ca3" d="M38.12 51.49h3.62v3.65h-3.62z"/>
<path fill="#c78ca2" d="M121.12 51.49h3.62v3.65h-3.62zM87.92 61.54h3.62v3.65h-3.62zM34.80 78.30h3.62v3.65h-3.62zM131.08 95.07h3.62v3.65h-3.62zM87.92 115.18h3.62v3.65h-3.62zM101.20 115.18h3.62v3.65h-3.62zM104.52 115.18h3.62v3.65h-3.62z"/>
<path fill="#cb8ea2" d="M127.76 51.49h3.62v3.65h-3.62zM134.40 54.84h3.62v3.65h-3.62z"/>
<path fill="#d090a1" d="M131.08 51.49h3.62v3.65h-3.62z"/>
<path fill="#5361a6" d="M144.36 51.49h3.62v3.65h-3.62z"/>
<path fill="#c289a2" d="M97.88 54.84h3.62v3.65h-3.62zM34.80 74.95h3.62v3.65h-3.62zM38.12 98.42h3.62v3.65h-3.62zM34.80 101.77h3.62v3.65h-3.62zM121.12 121.89h3.62v3.65h-3.62zM44.76 128.59h3.62v3.65h-3.62z"/>
<path fill="#b886a2" d="M111.16 54.84h3.62v3.65h-3.62zM71.32 111.83h3.62v3.65h-3.62zM97.88 111.83h3.62v3.65h-3.62z"/>
<path fill="#8873a4" d="M144.36 54.84h3.62v3.65h-3.62zM38.12 88.36h3.62v3.65h-3.62z"/>
<path fill="#d391a1" d="M87.92 64.90h3.62v3.65h-3.62zM87.92 68.25h3.62v3.65h-3.62zM131.08 108.48h3.62v3.65h-3.62z"/>
<path fill="#ca8da2" d="M144.36 64.90h3.62v3.65h-3.62zM147.68 64.90h3.62v3.65h-3.62zM18.20 71.60h3.62v3.65h-3.62zM131.08 71.60h3.62v3.65h-3.62zM131.08 74.95h3.62v3.65h-3.62zM137.72 88.36h3.62v3.65h-3.62zM44.76 121.89h3.62v3.65h-3.62z"/>
<path fill="#8371a4" d="M41.44 68.25h3.62v3.65h-3.62z"/>
<path fill="#c48ba2" d="M141.04 68.25h3.62v3.65h-3.62zM144.36 74.95h3.62v3.65h-3.62zM144.36 78.30h3.62v3.65h-3.62zM87.92 91.71h3.62v3.65h-3.62zM64.68 98.42h3.62v3.65h-3.62zM68.00 125.24h3.62v3.65h-3.62zM111.16 135.30h3.62v3.65h-3.62z"/>
<path fill="#a37da3" d="M38.12 74.95h3.62v3.65h-3.62z"/>
<path fill="#746da5" d="M41.44 74.95h3.62v3.65h-3.62z"/>
<path fill="#9979a3" d="M38.12 78.30h3.62v3.65h-3.62z"/>
<path fill="#8271a4" d="M44.76 78.30h3.62v3.65h-3.62zM41.44 81.66h3.62v3.65h-3.62zM28.16 101.77h3.62v3.65h-3.62z"/>
<path fill="#746ca5" d="M38.12 85.01h3.62v3.65h-3.62zM24.84 95.07h3.62v3.65h-3.62z"/>
<path fill="#d893a1" d="M121.12 95.07h3.62v3.65h-3.62z"/>
<path fill="#ce8ea1" d="M127.76 95.07h3.62v3.65h-3.62z"/>
<path fill="#716ca5" d="M18.20 105.12h3.62v3.65h-3.62z"/>
<path fill="#db94a1" d="M44.76 111.83h3.62v3.65h-3.62z"/>
<path fill="#de95a1" d="M44.76 115.18h3.62v3.65h-3.62z"/>
<path fill="#d692a1" d="M111.16 115.18h3.62v3.65h-3.62zM111.16 125.24h3.62v3.65h-3.62z"/>
<path fill="#e498a1" d="M111.16 121.89h3.62v3.65h-3.62z"/>
<path fill="#c088a2" d="M147.68 131.94h3.62v3.65h-3.62z"/>
<path fill="#a47da3" d="M104.52 135.30h3.62v3.65h-3.62z"/></g></g>
<text x="148.4" y="12.5" font-size="8.4" fill="#fff" text-anchor="end">120 K</text>
<path d="M26.2 128.8V134.1H52.1V128.8" fill="none" stroke="#fff" stroke-width="1.1"/>
<rect x="161.2" y="4.6" width="9.3" height="134.6" fill="url(#cba)" stroke="#333" stroke-width="0.6"/>
<line x1="170.5" y1="139.20" x2="172.90" y2="139.20" stroke="#333" stroke-width="0.6"/>
<line x1="170.5" y1="125.74" x2="171.90" y2="125.74" stroke="#333" stroke-width="0.6"/>
<line x1="170.5" y1="112.28" x2="172.90" y2="112.28" stroke="#333" stroke-width="0.6"/>
<line x1="170.5" y1="98.82" x2="171.90" y2="98.82" stroke="#333" stroke-width="0.6"/>
<line x1="170.5" y1="85.36" x2="172.90" y2="85.36" stroke="#333" stroke-width="0.6"/>
<line x1="170.5" y1="71.90" x2="171.90" y2="71.90" stroke="#333" stroke-width="0.6"/>
<line x1="170.5" y1="58.44" x2="172.90" y2="58.44" stroke="#333" stroke-width="0.6"/>
<line x1="170.5" y1="44.98" x2="171.90" y2="44.98" stroke="#333" stroke-width="0.6"/>
<line x1="170.5" y1="31.52" x2="172.90" y2="31.52" stroke="#333" stroke-width="0.6"/>
<line x1="170.5" y1="18.06" x2="171.90" y2="18.06" stroke="#333" stroke-width="0.6"/>
<line x1="170.5" y1="4.60" x2="172.90" y2="4.60" stroke="#333" stroke-width="0.6"/>
<text transform="translate(176,142.30) scale(1,1.15)" font-size="7.6" fill="#222">0</text>
<text transform="translate(176,115.38) scale(1,1.15)" font-size="7.6" fill="#222">0.2</text>
<text transform="translate(176,88.46) scale(1,1.15)" font-size="7.6" fill="#222">0.4</text>
<text transform="translate(176,61.54) scale(1,1.15)" font-size="7.6" fill="#222">0.6</text>
<text transform="translate(176,34.62) scale(1,1.15)" font-size="7.6" fill="#222">0.8</text>
<text transform="translate(176,7.70) scale(1,1.15)" font-size="7.6" fill="#222">1</text>
<text transform="translate(201.6,71.5) rotate(-90)" font-size="8.4" fill="#222" text-anchor="middle">Normalized Intensity</text>
<text x="0.4" y="180.6" font-size="9" font-weight="bold" fill="#111">(b)</text>
<g clip-path="url(#cpb)"><g shape-rendering="crispEdges" filter="url(#hbl)"><path fill="#cc899c" d="M17.10 174.20h3.65v3.62h-3.65zM20.45 174.20h3.65v3.62h-3.65zM23.80 174.20h3.65v3.62h-3.65zM27.16 174.20h3.65v3.62h-3.65zM30.51 174.20h3.65v3.62h-3.65zM33.86 174.20h3.65v3.62h-3.65zM37.22 174.20h3.65v3.62h-3.65zM40.57 174.20h3.65v3.62h-3.65zM43.92 174.20h3.65v3.62h-3.65zM47.27 174.20h3.65v3.62h-3.65zM17.10 177.52h3.65v3.62h-3.65zM20.45 177.52h3.65v3.62h-3.65zM23.80 177.52h3.65v3.62h-3.65zM27.16 177.52h3.65v3.62h-3.65zM30.51 177.52h3.65v3.62h-3.65zM43.92 177.52h3.65v3.62h-3.65zM47.27 177.52h3.65v3.62h-3.65zM17.10 180.84h3.65v3.62h-3.65zM20.45 180.84h3.65v3.62h-3.65zM23.80 180.84h3.65v3.62h-3.65zM27.16 180.84h3.65v3.62h-3.65zM30.51 180.84h3.65v3.62h-3.65zM33.86 180.84h3.65v3.62h-3.65zM43.92 180.84h3.65v3.62h-3.65zM47.27 180.84h3.65v3.62h-3.65zM67.39 180.84h3.65v3.62h-3.65zM17.10 184.16h3.65v3.62h-3.65zM20.45 184.16h3.65v3.62h-3.65zM27.16 184.16h3.65v3.62h-3.65zM30.51 184.16h3.65v3.62h-3.65zM33.86 184.16h3.65v3.62h-3.65zM37.22 184.16h3.65v3.62h-3.65zM40.57 184.16h3.65v3.62h-3.65zM43.92 184.16h3.65v3.62h-3.65zM53.98 184.16h3.65v3.62h-3.65zM60.68 184.16h3.65v3.62h-3.65zM67.39 184.16h3.65v3.62h-3.65zM70.74 184.16h3.65v3.62h-3.65zM17.10 187.48h3.65v3.62h-3.65zM20.45 187.48h3.65v3.62h-3.65zM27.16 187.48h3.65v3.62h-3.65zM30.51 187.48h3.65v3.62h-3.65zM37.22 187.48h3.65v3.62h-3.65zM40.57 187.48h3.65v3.62h-3.65zM43.92 187.48h3.65v3.62h-3.65zM53.98 187.48h3.65v3.62h-3.65zM67.39 187.48h3.65v3.62h-3.65zM70.74 187.48h3.65v3.62h-3.65zM77.44 187.48h3.65v3.62h-3.65zM80.80 187.48h3.65v3.62h-3.65zM84.15 187.48h3.65v3.62h-3.65zM87.50 187.48h3.65v3.62h-3.65zM17.10 190.80h3.65v3.62h-3.65zM20.45 190.80h3.65v3.62h-3.65zM23.80 190.80h3.65v3.62h-3.65zM27.16 190.80h3.65v3.62h-3.65zM30.51 190.80h3.65v3.62h-3.65zM37.22 190.80h3.65v3.62h-3.65zM40.57 190.80h3.65v3.62h-3.65zM43.92 190.80h3.65v3.62h-3.65zM53.98 190.80h3.65v3.62h-3.65zM70.74 190.80h3.65v3.62h-3.65zM84.15 190.80h3.65v3.62h-3.65zM94.21 190.80h3.65v3.62h-3.65zM17.10 194.11h3.65v3.62h-3.65zM20.45 194.11h3.65v3.62h-3.65zM23.80 194.11h3.65v3.62h-3.65zM27.16 194.11h3.65v3.62h-3.65zM30.51 194.11h3.65v3.62h-3.65zM33.86 194.11h3.65v3.62h-3.65zM37.22 194.11h3.65v3.62h-3.65zM40.57 194.11h3.65v3.62h-3.65zM43.92 194.11h3.65v3.62h-3.65zM47.27 194.11h3.65v3.62h-3.65zM53.98 194.11h3.65v3.62h-3.65zM67.39 194.11h3.65v3.62h-3.65zM77.44 194.11h3.65v3.62h-3.65zM84.15 194.11h3.65v3.62h-3.65zM97.56 194.11h3.65v3.62h-3.65zM100.91 194.11h3.65v3.62h-3.65zM17.10 197.43h3.65v3.62h-3.65zM20.45 197.43h3.65v3.62h-3.65zM23.80 197.43h3.65v3.62h-3.65zM27.16 197.43h3.65v3.62h-3.65zM33.86 197.43h3.65v3.62h-3.65zM37.22 197.43h3.65v3.62h-3.65zM40.57 197.43h3.65v3.62h-3.65zM43.92 197.43h3.65v3.62h-3.65zM47.27 197.43h3.65v3.62h-3.65zM53.98 197.43h3.65v3.62h-3.65zM64.03 197.43h3.65v3.62h-3.65zM100.91 197.43h3.65v3.62h-3.65zM104.27 197.43h3.65v3.62h-3.65zM17.10 200.75h3.65v3.62h-3.65zM20.45 200.75h3.65v3.62h-3.65zM23.80 200.75h3.65v3.62h-3.65zM27.16 200.75h3.65v3.62h-3.65zM33.86 200.75h3.65v3.62h-3.65zM37.22 200.75h3.65v3.62h-3.65zM40.57 200.75h3.65v3.62h-3.65zM43.92 200.75h3.65v3.62h-3.65zM60.68 200.75h3.65v3.62h-3.65zM70.74 200.75h3.65v3.62h-3.65zM77.44 200.75h3.65v3.62h-3.65zM100.91 200.75h3.65v3.62h-3.65zM17.10 204.07h3.65v3.62h-3.65zM23.80 204.07h3.65v3.62h-3.65zM27.16 204.07h3.65v3.62h-3.65zM37.22 204.07h3.65v3.62h-3.65zM40.57 204.07h3.65v3.62h-3.65zM43.92 204.07h3.65v3.62h-3.65zM60.68 204.07h3.65v3.62h-3.65zM67.39 204.07h3.65v3.62h-3.65zM70.74 204.07h3.65v3.62h-3.65zM94.21 204.07h3.65v3.62h-3.65zM100.91 204.07h3.65v3.62h-3.65zM114.32 204.07h3.65v3.62h-3.65zM17.10 207.39h3.65v3.62h-3.65zM23.80 207.39h3.65v3.62h-3.65zM27.16 207.39h3.65v3.62h-3.65zM30.51 207.39h3.65v3.62h-3.65zM37.22 207.39h3.65v3.62h-3.65zM40.57 207.39h3.65v3.62h-3.65zM43.92 207.39h3.65v3.62h-3.65zM60.68 207.39h3.65v3.62h-3.65zM67.39 207.39h3.65v3.62h-3.65zM70.74 207.39h3.65v3.62h-3.65zM114.32 207.39h3.65v3.62h-3.65zM121.03 207.39h3.65v3.62h-3.65zM17.10 210.71h3.65v3.62h-3.65zM23.80 210.71h3.65v3.62h-3.65zM27.16 210.71h3.65v3.62h-3.65zM30.51 210.71h3.65v3.62h-3.65zM37.22 210.71h3.65v3.62h-3.65zM40.57 210.71h3.65v3.62h-3.65zM43.92 210.71h3.65v3.62h-3.65zM47.27 210.71h3.65v3.62h-3.65zM53.98 210.71h3.65v3.62h-3.65zM60.68 210.71h3.65v3.62h-3.65zM94.21 210.71h3.65v3.62h-3.65zM100.91 210.71h3.65v3.62h-3.65zM114.32 210.71h3.65v3.62h-3.65zM17.10 214.03h3.65v3.62h-3.65zM20.45 214.03h3.65v3.62h-3.65zM23.80 214.03h3.65v3.62h-3.65zM27.16 214.03h3.65v3.62h-3.65zM37.22 214.03h3.65v3.62h-3.65zM40.57 214.03h3.65v3.62h-3.65zM47.27 214.03h3.65v3.62h-3.65zM50.62 214.03h3.65v3.62h-3.65zM53.98 214.03h3.65v3.62h-3.65zM100.91 214.03h3.65v3.62h-3.65zM110.97 214.03h3.65v3.62h-3.65zM114.32 214.03h3.65v3.62h-3.65zM17.10 217.35h3.65v3.62h-3.65zM20.45 217.35h3.65v3.62h-3.65zM23.80 217.35h3.65v3.62h-3.65zM27.16 217.35h3.65v3.62h-3.65zM37.22 217.35h3.65v3.62h-3.65zM40.57 217.35h3.65v3.62h-3.65zM43.92 217.35h3.65v3.62h-3.65zM50.62 217.35h3.65v3.62h-3.65zM53.98 217.35h3.65v3.62h-3.65zM70.74 217.35h3.65v3.62h-3.65zM74.09 217.35h3.65v3.62h-3.65zM100.91 217.35h3.65v3.62h-3.65zM104.27 217.35h3.65v3.62h-3.65zM114.32 217.35h3.65v3.62h-3.65zM134.44 217.35h3.65v3.62h-3.65zM17.10 220.67h3.65v3.62h-3.65zM20.45 220.67h3.65v3.62h-3.65zM23.80 220.67h3.65v3.62h-3.65zM27.16 220.67h3.65v3.62h-3.65zM30.51 220.67h3.65v3.62h-3.65zM43.92 220.67h3.65v3.62h-3.65zM50.62 220.67h3.65v3.62h-3.65zM70.74 220.67h3.65v3.62h-3.65zM100.91 220.67h3.65v3.62h-3.65zM104.27 220.67h3.65v3.62h-3.65zM121.03 220.67h3.65v3.62h-3.65zM124.38 220.67h3.65v3.62h-3.65zM134.44 220.67h3.65v3.62h-3.65zM17.10 223.99h3.65v3.62h-3.65zM20.45 223.99h3.65v3.62h-3.65zM23.80 223.99h3.65v3.62h-3.65zM27.16 223.99h3.65v3.62h-3.65zM30.51 223.99h3.65v3.62h-3.65zM43.92 223.99h3.65v3.62h-3.65zM60.68 223.99h3.65v3.62h-3.65zM70.74 223.99h3.65v3.62h-3.65zM94.21 223.99h3.65v3.62h-3.65zM100.91 223.99h3.65v3.62h-3.65zM121.03 223.99h3.65v3.62h-3.65zM124.38 223.99h3.65v3.62h-3.65zM141.14 223.99h3.65v3.62h-3.65zM17.10 227.30h3.65v3.62h-3.65zM20.45 227.30h3.65v3.62h-3.65zM23.80 227.30h3.65v3.62h-3.65zM27.16 227.30h3.65v3.62h-3.65zM30.51 227.30h3.65v3.62h-3.65zM33.86 227.30h3.65v3.62h-3.65zM37.22 227.30h3.65v3.62h-3.65zM40.57 227.30h3.65v3.62h-3.65zM43.92 227.30h3.65v3.62h-3.65zM60.68 227.30h3.65v3.62h-3.65zM90.85 227.30h3.65v3.62h-3.65zM94.21 227.30h3.65v3.62h-3.65zM100.91 227.30h3.65v3.62h-3.65zM117.68 227.30h3.65v3.62h-3.65zM121.03 227.30h3.65v3.62h-3.65zM124.38 227.30h3.65v3.62h-3.65zM127.73 227.30h3.65v3.62h-3.65zM137.79 227.30h3.65v3.62h-3.65zM141.14 227.30h3.65v3.62h-3.65zM17.10 230.62h3.65v3.62h-3.65zM20.45 230.62h3.65v3.62h-3.65zM23.80 230.62h3.65v3.62h-3.65zM30.51 230.62h3.65v3.62h-3.65zM37.22 230.62h3.65v3.62h-3.65zM40.57 230.62h3.65v3.62h-3.65zM43.92 230.62h3.65v3.62h-3.65zM53.98 230.62h3.65v3.62h-3.65zM90.85 230.62h3.65v3.62h-3.65zM94.21 230.62h3.65v3.62h-3.65zM100.91 230.62h3.65v3.62h-3.65zM110.97 230.62h3.65v3.62h-3.65zM117.68 230.62h3.65v3.62h-3.65zM121.03 230.62h3.65v3.62h-3.65zM124.38 230.62h3.65v3.62h-3.65zM127.73 230.62h3.65v3.62h-3.65zM137.79 230.62h3.65v3.62h-3.65zM17.10 233.94h3.65v3.62h-3.65zM23.80 233.94h3.65v3.62h-3.65zM30.51 233.94h3.65v3.62h-3.65zM37.22 233.94h3.65v3.62h-3.65zM40.57 233.94h3.65v3.62h-3.65zM43.92 233.94h3.65v3.62h-3.65zM50.62 233.94h3.65v3.62h-3.65zM53.98 233.94h3.65v3.62h-3.65zM94.21 233.94h3.65v3.62h-3.65zM100.91 233.94h3.65v3.62h-3.65zM127.73 233.94h3.65v3.62h-3.65zM131.09 233.94h3.65v3.62h-3.65zM137.79 233.94h3.65v3.62h-3.65zM17.10 237.26h3.65v3.62h-3.65zM20.45 237.26h3.65v3.62h-3.65zM23.80 237.26h3.65v3.62h-3.65zM27.16 237.26h3.65v3.62h-3.65zM30.51 237.26h3.65v3.62h-3.65zM37.22 237.26h3.65v3.62h-3.65zM40.57 237.26h3.65v3.62h-3.65zM43.92 237.26h3.65v3.62h-3.65zM47.27 237.26h3.65v3.62h-3.65zM50.62 237.26h3.65v3.62h-3.65zM53.98 237.26h3.65v3.62h-3.65zM60.68 237.26h3.65v3.62h-3.65zM100.91 237.26h3.65v3.62h-3.65zM107.62 237.26h3.65v3.62h-3.65zM110.97 237.26h3.65v3.62h-3.65zM131.09 237.26h3.65v3.62h-3.65zM137.79 237.26h3.65v3.62h-3.65zM17.10 240.58h3.65v3.62h-3.65zM20.45 240.58h3.65v3.62h-3.65zM23.80 240.58h3.65v3.62h-3.65zM27.16 240.58h3.65v3.62h-3.65zM30.51 240.58h3.65v3.62h-3.65zM33.86 240.58h3.65v3.62h-3.65zM37.22 240.58h3.65v3.62h-3.65zM40.57 240.58h3.65v3.62h-3.65zM43.92 240.58h3.65v3.62h-3.65zM47.27 240.58h3.65v3.62h-3.65zM50.62 240.58h3.65v3.62h-3.65zM60.68 240.58h3.65v3.62h-3.65zM87.50 240.58h3.65v3.62h-3.65zM100.91 240.58h3.65v3.62h-3.65zM107.62 240.58h3.65v3.62h-3.65zM110.97 240.58h3.65v3.62h-3.65zM131.09 240.58h3.65v3.62h-3.65zM137.79 240.58h3.65v3.62h-3.65zM141.14 240.58h3.65v3.62h-3.65zM17.10 243.90h3.65v3.62h-3.65zM20.45 243.90h3.65v3.62h-3.65zM23.80 243.90h3.65v3.62h-3.65zM27.16 243.90h3.65v3.62h-3.65zM30.51 243.90h3.65v3.62h-3.65zM33.86 243.90h3.65v3.62h-3.65zM37.22 243.90h3.65v3.62h-3.65zM40.57 243.90h3.65v3.62h-3.65zM43.92 243.90h3.65v3.62h-3.65zM47.27 243.90h3.65v3.62h-3.65zM50.62 243.90h3.65v3.62h-3.65zM87.50 243.90h3.65v3.62h-3.65zM104.27 243.90h3.65v3.62h-3.65zM107.62 243.90h3.65v3.62h-3.65zM124.38 243.90h3.65v3.62h-3.65zM131.09 243.90h3.65v3.62h-3.65zM141.14 243.90h3.65v3.62h-3.65zM17.10 247.22h3.65v3.62h-3.65zM20.45 247.22h3.65v3.62h-3.65zM23.80 247.22h3.65v3.62h-3.65zM27.16 247.22h3.65v3.62h-3.65zM30.51 247.22h3.65v3.62h-3.65zM33.86 247.22h3.65v3.62h-3.65zM37.22 247.22h3.65v3.62h-3.65zM40.57 247.22h3.65v3.62h-3.65zM43.92 247.22h3.65v3.62h-3.65zM47.27 247.22h3.65v3.62h-3.65zM53.98 247.22h3.65v3.62h-3.65zM57.33 247.22h3.65v3.62h-3.65zM67.39 247.22h3.65v3.62h-3.65zM70.74 247.22h3.65v3.62h-3.65zM97.56 247.22h3.65v3.62h-3.65zM107.62 247.22h3.65v3.62h-3.65zM121.03 247.22h3.65v3.62h-3.65zM131.09 247.22h3.65v3.62h-3.65zM137.79 247.22h3.65v3.62h-3.65zM141.14 247.22h3.65v3.62h-3.65zM17.10 250.54h3.65v3.62h-3.65zM23.80 250.54h3.65v3.62h-3.65zM27.16 250.54h3.65v3.62h-3.65zM30.51 250.54h3.65v3.62h-3.65zM33.86 250.54h3.65v3.62h-3.65zM37.22 250.54h3.65v3.62h-3.65zM40.57 250.54h3.65v3.62h-3.65zM43.92 250.54h3.65v3.62h-3.65zM47.27 250.54h3.65v3.62h-3.65zM53.98 250.54h3.65v3.62h-3.65zM67.39 250.54h3.65v3.62h-3.65zM70.74 250.54h3.65v3.62h-3.65zM121.03 250.54h3.65v3.62h-3.65zM131.09 250.54h3.65v3.62h-3.65zM134.44 250.54h3.65v3.62h-3.65zM137.79 250.54h3.65v3.62h-3.65zM141.14 250.54h3.65v3.62h-3.65zM17.10 253.86h3.65v3.62h-3.65zM23.80 253.86h3.65v3.62h-3.65zM27.16 253.86h3.65v3.62h-3.65zM30.51 253.86h3.65v3.62h-3.65zM37.22 253.86h3.65v3.62h-3.65zM40.57 253.86h3.65v3.62h-3.65zM43.92 253.86h3.65v3.62h-3.65zM47.27 253.86h3.65v3.62h-3.65zM53.98 253.86h3.65v3.62h-3.65zM70.74 253.86h3.65v3.62h-3.65zM74.09 253.86h3.65v3.62h-3.65zM137.79 253.86h3.65v3.62h-3.65zM141.14 253.86h3.65v3.62h-3.65zM17.10 257.18h3.65v3.62h-3.65zM23.80 257.18h3.65v3.62h-3.65zM27.16 257.18h3.65v3.62h-3.65zM30.51 257.18h3.65v3.62h-3.65zM33.86 257.18h3.65v3.62h-3.65zM37.22 257.18h3.65v3.62h-3.65zM40.57 257.18h3.65v3.62h-3.65zM43.92 257.18h3.65v3.62h-3.65zM50.62 257.18h3.65v3.62h-3.65zM53.98 257.18h3.65v3.62h-3.65zM57.33 257.18h3.65v3.62h-3.65zM67.39 257.18h3.65v3.62h-3.65zM94.21 257.18h3.65v3.62h-3.65zM137.79 257.18h3.65v3.62h-3.65zM141.14 257.18h3.65v3.62h-3.65zM17.10 260.50h3.65v3.62h-3.65zM20.45 260.50h3.65v3.62h-3.65zM23.80 260.50h3.65v3.62h-3.65zM27.16 260.50h3.65v3.62h-3.65zM30.51 260.50h3.65v3.62h-3.65zM33.86 260.50h3.65v3.62h-3.65zM37.22 260.50h3.65v3.62h-3.65zM40.57 260.50h3.65v3.62h-3.65zM43.92 260.50h3.65v3.62h-3.65zM57.33 260.50h3.65v3.62h-3.65zM90.85 260.50h3.65v3.62h-3.65zM137.79 260.50h3.65v3.62h-3.65zM141.14 260.50h3.65v3.62h-3.65zM17.10 263.81h3.65v3.62h-3.65zM20.45 263.81h3.65v3.62h-3.65zM23.80 263.81h3.65v3.62h-3.65zM27.16 263.81h3.65v3.62h-3.65zM30.51 263.81h3.65v3.62h-3.65zM33.86 263.81h3.65v3.62h-3.65zM40.57 263.81h3.65v3.62h-3.65zM43.92 263.81h3.65v3.62h-3.65zM53.98 263.81h3.65v3.62h-3.65zM57.33 263.81h3.65v3.62h-3.65zM70.74 263.81h3.65v3.62h-3.65zM90.85 263.81h3.65v3.62h-3.65zM124.38 263.81h3.65v3.62h-3.65zM131.09 263.81h3.65v3.62h-3.65zM134.44 263.81h3.65v3.62h-3.65zM137.79 263.81h3.65v3.62h-3.65zM17.10 267.13h3.65v3.62h-3.65zM23.80 267.13h3.65v3.62h-3.65zM27.16 267.13h3.65v3.62h-3.65zM30.51 267.13h3.65v3.62h-3.65zM33.86 267.13h3.65v3.62h-3.65zM37.22 267.13h3.65v3.62h-3.65zM40.57 267.13h3.65v3.62h-3.65zM43.92 267.13h3.65v3.62h-3.65zM47.27 267.13h3.65v3.62h-3.65zM50.62 267.13h3.65v3.62h-3.65zM53.98 267.13h3.65v3.62h-3.65zM57.33 267.13h3.65v3.62h-3.65zM70.74 267.13h3.65v3.62h-3.65zM90.85 267.13h3.65v3.62h-3.65zM100.91 267.13h3.65v3.62h-3.65zM131.09 267.13h3.65v3.62h-3.65zM17.10 270.45h3.65v3.62h-3.65zM20.45 270.45h3.65v3.62h-3.65zM23.80 270.45h3.65v3.62h-3.65zM27.16 270.45h3.65v3.62h-3.65zM30.51 270.45h3.65v3.62h-3.65zM33.86 270.45h3.65v3.62h-3.65zM40.57 270.45h3.65v3.62h-3.65zM43.92 270.45h3.65v3.62h-3.65zM47.27 270.45h3.65v3.62h-3.65zM57.33 270.45h3.65v3.62h-3.65zM80.80 270.45h3.65v3.62h-3.65zM100.91 270.45h3.65v3.62h-3.65zM104.27 270.45h3.65v3.62h-3.65zM114.32 270.45h3.65v3.62h-3.65zM131.09 270.45h3.65v3.62h-3.65zM17.10 273.77h3.65v3.62h-3.65zM20.45 273.77h3.65v3.62h-3.65zM23.80 273.77h3.65v3.62h-3.65zM27.16 273.77h3.65v3.62h-3.65zM30.51 273.77h3.65v3.62h-3.65zM33.86 273.77h3.65v3.62h-3.65zM37.22 273.77h3.65v3.62h-3.65zM40.57 273.77h3.65v3.62h-3.65zM43.92 273.77h3.65v3.62h-3.65zM47.27 273.77h3.65v3.62h-3.65zM50.62 273.77h3.65v3.62h-3.65zM60.68 273.77h3.65v3.62h-3.65zM84.15 273.77h3.65v3.62h-3.65zM131.09 273.77h3.65v3.62h-3.65zM137.79 273.77h3.65v3.62h-3.65zM17.10 277.09h3.65v3.62h-3.65zM20.45 277.09h3.65v3.62h-3.65zM23.80 277.09h3.65v3.62h-3.65zM27.16 277.09h3.65v3.62h-3.65zM30.51 277.09h3.65v3.62h-3.65zM33.86 277.09h3.65v3.62h-3.65zM40.57 277.09h3.65v3.62h-3.65zM47.27 277.09h3.65v3.62h-3.65zM57.33 277.09h3.65v3.62h-3.65zM94.21 277.09h3.65v3.62h-3.65zM110.97 277.09h3.65v3.62h-3.65zM114.32 277.09h3.65v3.62h-3.65zM131.09 277.09h3.65v3.62h-3.65zM137.79 277.09h3.65v3.62h-3.65zM17.10 280.41h3.65v3.62h-3.65zM20.45 280.41h3.65v3.62h-3.65zM23.80 280.41h3.65v3.62h-3.65zM27.16 280.41h3.65v3.62h-3.65zM30.51 280.41h3.65v3.62h-3.65zM33.86 280.41h3.65v3.62h-3.65zM40.57 280.41h3.65v3.62h-3.65zM43.92 280.41h3.65v3.62h-3.65zM47.27 280.41h3.65v3.62h-3.65zM57.33 280.41h3.65v3.62h-3.65zM64.03 280.41h3.65v3.62h-3.65zM87.50 280.41h3.65v3.62h-3.65zM94.21 280.41h3.65v3.62h-3.65zM131.09 280.41h3.65v3.62h-3.65zM17.10 283.73h3.65v3.62h-3.65zM20.45 283.73h3.65v3.62h-3.65zM23.80 283.73h3.65v3.62h-3.65zM27.16 283.73h3.65v3.62h-3.65zM33.86 283.73h3.65v3.62h-3.65zM37.22 283.73h3.65v3.62h-3.65zM40.57 283.73h3.65v3.62h-3.65zM43.92 283.73h3.65v3.62h-3.65zM50.62 283.73h3.65v3.62h-3.65zM53.98 283.73h3.65v3.62h-3.65zM57.33 283.73h3.65v3.62h-3.65zM60.68 283.73h3.65v3.62h-3.65zM64.03 283.73h3.65v3.62h-3.65zM94.21 283.73h3.65v3.62h-3.65zM131.09 283.73h3.65v3.62h-3.65zM17.10 287.05h3.65v3.62h-3.65zM20.45 287.05h3.65v3.62h-3.65zM23.80 287.05h3.65v3.62h-3.65zM27.16 287.05h3.65v3.62h-3.65zM33.86 287.05h3.65v3.62h-3.65zM37.22 287.05h3.65v3.62h-3.65zM40.57 287.05h3.65v3.62h-3.65zM43.92 287.05h3.65v3.62h-3.65zM50.62 287.05h3.65v3.62h-3.65zM53.98 287.05h3.65v3.62h-3.65zM57.33 287.05h3.65v3.62h-3.65zM60.68 287.05h3.65v3.62h-3.65zM67.39 287.05h3.65v3.62h-3.65zM70.74 287.05h3.65v3.62h-3.65zM94.21 287.05h3.65v3.62h-3.65zM131.09 287.05h3.65v3.62h-3.65zM141.14 287.05h3.65v3.62h-3.65zM17.10 290.37h3.65v3.62h-3.65zM23.80 290.37h3.65v3.62h-3.65zM27.16 290.37h3.65v3.62h-3.65zM33.86 290.37h3.65v3.62h-3.65zM37.22 290.37h3.65v3.62h-3.65zM40.57 290.37h3.65v3.62h-3.65zM43.92 290.37h3.65v3.62h-3.65zM53.98 290.37h3.65v3.62h-3.65zM57.33 290.37h3.65v3.62h-3.65zM60.68 290.37h3.65v3.62h-3.65zM64.03 290.37h3.65v3.62h-3.65zM70.74 290.37h3.65v3.62h-3.65zM94.21 290.37h3.65v3.62h-3.65zM131.09 290.37h3.65v3.62h-3.65zM17.10 293.69h3.65v3.62h-3.65zM20.45 293.69h3.65v3.62h-3.65zM23.80 293.69h3.65v3.62h-3.65zM27.16 293.69h3.65v3.62h-3.65zM30.51 293.69h3.65v3.62h-3.65zM33.86 293.69h3.65v3.62h-3.65zM40.57 293.69h3.65v3.62h-3.65zM43.92 293.69h3.65v3.62h-3.65zM53.98 293.69h3.65v3.62h-3.65zM60.68 293.69h3.65v3.62h-3.65zM64.03 293.69h3.65v3.62h-3.65zM67.39 293.69h3.65v3.62h-3.65zM70.74 293.69h3.65v3.62h-3.65zM94.21 293.69h3.65v3.62h-3.65zM100.91 293.69h3.65v3.62h-3.65zM124.38 293.69h3.65v3.62h-3.65zM134.44 293.69h3.65v3.62h-3.65zM17.10 297.00h3.65v3.62h-3.65zM20.45 297.00h3.65v3.62h-3.65zM23.80 297.00h3.65v3.62h-3.65zM27.16 297.00h3.65v3.62h-3.65zM30.51 297.00h3.65v3.62h-3.65zM33.86 297.00h3.65v3.62h-3.65zM37.22 297.00h3.65v3.62h-3.65zM40.57 297.00h3.65v3.62h-3.65zM43.92 297.00h3.65v3.62h-3.65zM53.98 297.00h3.65v3.62h-3.65zM60.68 297.00h3.65v3.62h-3.65zM67.39 297.00h3.65v3.62h-3.65zM84.15 297.00h3.65v3.62h-3.65zM87.50 297.00h3.65v3.62h-3.65zM94.21 297.00h3.65v3.62h-3.65zM100.91 297.00h3.65v3.62h-3.65zM134.44 297.00h3.65v3.62h-3.65zM17.10 300.32h3.65v3.62h-3.65zM20.45 300.32h3.65v3.62h-3.65zM23.80 300.32h3.65v3.62h-3.65zM27.16 300.32h3.65v3.62h-3.65zM30.51 300.32h3.65v3.62h-3.65zM37.22 300.32h3.65v3.62h-3.65zM40.57 300.32h3.65v3.62h-3.65zM43.92 300.32h3.65v3.62h-3.65zM47.27 300.32h3.65v3.62h-3.65zM53.98 300.32h3.65v3.62h-3.65zM60.68 300.32h3.65v3.62h-3.65zM67.39 300.32h3.65v3.62h-3.65zM84.15 300.32h3.65v3.62h-3.65zM87.50 300.32h3.65v3.62h-3.65zM90.85 300.32h3.65v3.62h-3.65zM100.91 300.32h3.65v3.62h-3.65zM104.27 300.32h3.65v3.62h-3.65zM134.44 300.32h3.65v3.62h-3.65zM137.79 300.32h3.65v3.62h-3.65zM17.10 303.64h3.65v3.62h-3.65zM20.45 303.64h3.65v3.62h-3.65zM23.80 303.64h3.65v3.62h-3.65zM27.16 303.64h3.65v3.62h-3.65zM30.51 303.64h3.65v3.62h-3.65zM37.22 303.64h3.65v3.62h-3.65zM40.57 303.64h3.65v3.62h-3.65zM43.92 303.64h3.65v3.62h-3.65zM47.27 303.64h3.65v3.62h-3.65zM50.62 303.64h3.65v3.62h-3.65zM53.98 303.64h3.65v3.62h-3.65zM57.33 303.64h3.65v3.62h-3.65zM60.68 303.64h3.65v3.62h-3.65zM87.50 303.64h3.65v3.62h-3.65zM94.21 303.64h3.65v3.62h-3.65zM97.56 303.64h3.65v3.62h-3.65zM104.27 303.64h3.65v3.62h-3.65zM134.44 303.64h3.65v3.62h-3.65zM141.14 303.64h3.65v3.62h-3.65zM17.10 306.96h3.65v3.62h-3.65zM20.45 306.96h3.65v3.62h-3.65zM23.80 306.96h3.65v3.62h-3.65zM27.16 306.96h3.65v3.62h-3.65zM30.51 306.96h3.65v3.62h-3.65zM40.57 306.96h3.65v3.62h-3.65zM43.92 306.96h3.65v3.62h-3.65zM47.27 306.96h3.65v3.62h-3.65zM50.62 306.96h3.65v3.62h-3.65zM53.98 306.96h3.65v3.62h-3.65zM57.33 306.96h3.65v3.62h-3.65zM60.68 306.96h3.65v3.62h-3.65zM94.21 306.96h3.65v3.62h-3.65zM97.56 306.96h3.65v3.62h-3.65zM104.27 306.96h3.65v3.62h-3.65zM121.03 306.96h3.65v3.62h-3.65zM134.44 306.96h3.65v3.62h-3.65zM137.79 306.96h3.65v3.62h-3.65zM17.10 310.28h3.65v3.62h-3.65zM20.45 310.28h3.65v3.62h-3.65zM23.80 310.28h3.65v3.62h-3.65zM27.16 310.28h3.65v3.62h-3.65zM30.51 310.28h3.65v3.62h-3.65zM33.86 310.28h3.65v3.62h-3.65zM40.57 310.28h3.65v3.62h-3.65zM43.92 310.28h3.65v3.62h-3.65zM47.27 310.28h3.65v3.62h-3.65zM60.68 310.28h3.65v3.62h-3.65zM70.74 310.28h3.65v3.62h-3.65zM94.21 310.28h3.65v3.62h-3.65zM121.03 310.28h3.65v3.62h-3.65z"/>
<path fill="#b883a0" d="M50.62 174.20h3.65v3.62h-3.65zM53.98 174.20h3.65v3.62h-3.65zM33.86 177.52h3.65v3.62h-3.65zM37.22 177.52h3.65v3.62h-3.65zM40.57 177.52h3.65v3.62h-3.65zM50.62 177.52h3.65v3.62h-3.65zM53.98 177.52h3.65v3.62h-3.65zM57.33 177.52h3.65v3.62h-3.65zM37.22 180.84h3.65v3.62h-3.65zM40.57 180.84h3.65v3.62h-3.65zM50.62 180.84h3.65v3.62h-3.65zM53.98 180.84h3.65v3.62h-3.65zM57.33 180.84h3.65v3.62h-3.65zM60.68 180.84h3.65v3.62h-3.65zM64.03 180.84h3.65v3.62h-3.65zM23.80 184.16h3.65v3.62h-3.65zM47.27 184.16h3.65v3.62h-3.65zM50.62 184.16h3.65v3.62h-3.65zM57.33 184.16h3.65v3.62h-3.65zM64.03 184.16h3.65v3.62h-3.65zM74.09 184.16h3.65v3.62h-3.65zM77.44 184.16h3.65v3.62h-3.65zM80.80 184.16h3.65v3.62h-3.65zM23.80 187.48h3.65v3.62h-3.65zM33.86 187.48h3.65v3.62h-3.65zM47.27 187.48h3.65v3.62h-3.65zM50.62 187.48h3.65v3.62h-3.65zM57.33 187.48h3.65v3.62h-3.65zM60.68 187.48h3.65v3.62h-3.65zM64.03 187.48h3.65v3.62h-3.65zM74.09 187.48h3.65v3.62h-3.65zM33.86 190.80h3.65v3.62h-3.65zM47.27 190.80h3.65v3.62h-3.65zM50.62 190.80h3.65v3.62h-3.65zM57.33 190.80h3.65v3.62h-3.65zM60.68 190.80h3.65v3.62h-3.65zM64.03 190.80h3.65v3.62h-3.65zM67.39 190.80h3.65v3.62h-3.65zM74.09 190.80h3.65v3.62h-3.65zM77.44 190.80h3.65v3.62h-3.65zM80.80 190.80h3.65v3.62h-3.65zM87.50 190.80h3.65v3.62h-3.65zM90.85 190.80h3.65v3.62h-3.65zM97.56 190.80h3.65v3.62h-3.65zM50.62 194.11h3.65v3.62h-3.65zM57.33 194.11h3.65v3.62h-3.65zM60.68 194.11h3.65v3.62h-3.65zM64.03 194.11h3.65v3.62h-3.65zM70.74 194.11h3.65v3.62h-3.65zM74.09 194.11h3.65v3.62h-3.65zM80.80 194.11h3.65v3.62h-3.65zM87.50 194.11h3.65v3.62h-3.65zM90.85 194.11h3.65v3.62h-3.65zM94.21 194.11h3.65v3.62h-3.65zM30.51 197.43h3.65v3.62h-3.65zM50.62 197.43h3.65v3.62h-3.65zM57.33 197.43h3.65v3.62h-3.65zM60.68 197.43h3.65v3.62h-3.65zM67.39 197.43h3.65v3.62h-3.65zM70.74 197.43h3.65v3.62h-3.65zM74.09 197.43h3.65v3.62h-3.65zM77.44 197.43h3.65v3.62h-3.65zM80.80 197.43h3.65v3.62h-3.65zM84.15 197.43h3.65v3.62h-3.65zM87.50 197.43h3.65v3.62h-3.65zM90.85 197.43h3.65v3.62h-3.65zM94.21 197.43h3.65v3.62h-3.65zM97.56 197.43h3.65v3.62h-3.65zM107.62 197.43h3.65v3.62h-3.65zM30.51 200.75h3.65v3.62h-3.65zM47.27 200.75h3.65v3.62h-3.65zM50.62 200.75h3.65v3.62h-3.65zM53.98 200.75h3.65v3.62h-3.65zM57.33 200.75h3.65v3.62h-3.65zM64.03 200.75h3.65v3.62h-3.65zM67.39 200.75h3.65v3.62h-3.65zM74.09 200.75h3.65v3.62h-3.65zM80.80 200.75h3.65v3.62h-3.65zM84.15 200.75h3.65v3.62h-3.65zM87.50 200.75h3.65v3.62h-3.65zM90.85 200.75h3.65v3.62h-3.65zM94.21 200.75h3.65v3.62h-3.65zM97.56 200.75h3.65v3.62h-3.65zM104.27 200.75h3.65v3.62h-3.65zM107.62 200.75h3.65v3.62h-3.65zM110.97 200.75h3.65v3.62h-3.65zM20.45 204.07h3.65v3.62h-3.65zM30.51 204.07h3.65v3.62h-3.65zM33.86 204.07h3.65v3.62h-3.65zM47.27 204.07h3.65v3.62h-3.65zM50.62 204.07h3.65v3.62h-3.65zM53.98 204.07h3.65v3.62h-3.65zM57.33 204.07h3.65v3.62h-3.65zM64.03 204.07h3.65v3.62h-3.65zM74.09 204.07h3.65v3.62h-3.65zM77.44 204.07h3.65v3.62h-3.65zM80.80 204.07h3.65v3.62h-3.65zM84.15 204.07h3.65v3.62h-3.65zM87.50 204.07h3.65v3.62h-3.65zM90.85 204.07h3.65v3.62h-3.65zM97.56 204.07h3.65v3.62h-3.65zM104.27 204.07h3.65v3.62h-3.65zM107.62 204.07h3.65v3.62h-3.65zM110.97 204.07h3.65v3.62h-3.65zM20.45 207.39h3.65v3.62h-3.65zM33.86 207.39h3.65v3.62h-3.65zM47.27 207.39h3.65v3.62h-3.65zM50.62 207.39h3.65v3.62h-3.65zM53.98 207.39h3.65v3.62h-3.65zM57.33 207.39h3.65v3.62h-3.65zM64.03 207.39h3.65v3.62h-3.65zM74.09 207.39h3.65v3.62h-3.65zM77.44 207.39h3.65v3.62h-3.65zM80.80 207.39h3.65v3.62h-3.65zM84.15 207.39h3.65v3.62h-3.65zM87.50 207.39h3.65v3.62h-3.65zM90.85 207.39h3.65v3.62h-3.65zM94.21 207.39h3.65v3.62h-3.65zM97.56 207.39h3.65v3.62h-3.65zM100.91 207.39h3.65v3.62h-3.65zM104.27 207.39h3.65v3.62h-3.65zM107.62 207.39h3.65v3.62h-3.65zM110.97 207.39h3.65v3.62h-3.65zM117.68 207.39h3.65v3.62h-3.65zM20.45 210.71h3.65v3.62h-3.65zM33.86 210.71h3.65v3.62h-3.65zM50.62 210.71h3.65v3.62h-3.65zM57.33 210.71h3.65v3.62h-3.65zM64.03 210.71h3.65v3.62h-3.65zM67.39 210.71h3.65v3.62h-3.65zM70.74 210.71h3.65v3.62h-3.65zM74.09 210.71h3.65v3.62h-3.65zM77.44 210.71h3.65v3.62h-3.65zM80.80 210.71h3.65v3.62h-3.65zM84.15 210.71h3.65v3.62h-3.65zM87.50 210.71h3.65v3.62h-3.65zM90.85 210.71h3.65v3.62h-3.65zM97.56 210.71h3.65v3.62h-3.65zM104.27 210.71h3.65v3.62h-3.65zM107.62 210.71h3.65v3.62h-3.65zM110.97 210.71h3.65v3.62h-3.65zM117.68 210.71h3.65v3.62h-3.65zM121.03 210.71h3.65v3.62h-3.65zM124.38 210.71h3.65v3.62h-3.65zM30.51 214.03h3.65v3.62h-3.65zM33.86 214.03h3.65v3.62h-3.65zM43.92 214.03h3.65v3.62h-3.65zM57.33 214.03h3.65v3.62h-3.65zM60.68 214.03h3.65v3.62h-3.65zM64.03 214.03h3.65v3.62h-3.65zM67.39 214.03h3.65v3.62h-3.65zM70.74 214.03h3.65v3.62h-3.65zM74.09 214.03h3.65v3.62h-3.65zM77.44 214.03h3.65v3.62h-3.65zM80.80 214.03h3.65v3.62h-3.65zM84.15 214.03h3.65v3.62h-3.65zM87.50 214.03h3.65v3.62h-3.65zM90.85 214.03h3.65v3.62h-3.65zM94.21 214.03h3.65v3.62h-3.65zM97.56 214.03h3.65v3.62h-3.65zM104.27 214.03h3.65v3.62h-3.65zM107.62 214.03h3.65v3.62h-3.65zM117.68 214.03h3.65v3.62h-3.65zM121.03 214.03h3.65v3.62h-3.65zM124.38 214.03h3.65v3.62h-3.65zM127.73 214.03h3.65v3.62h-3.65zM131.09 214.03h3.65v3.62h-3.65zM30.51 217.35h3.65v3.62h-3.65zM33.86 217.35h3.65v3.62h-3.65zM47.27 217.35h3.65v3.62h-3.65zM57.33 217.35h3.65v3.62h-3.65zM60.68 217.35h3.65v3.62h-3.65zM64.03 217.35h3.65v3.62h-3.65zM67.39 217.35h3.65v3.62h-3.65zM77.44 217.35h3.65v3.62h-3.65zM80.80 217.35h3.65v3.62h-3.65zM84.15 217.35h3.65v3.62h-3.65zM87.50 217.35h3.65v3.62h-3.65zM90.85 217.35h3.65v3.62h-3.65zM94.21 217.35h3.65v3.62h-3.65zM97.56 217.35h3.65v3.62h-3.65zM107.62 217.35h3.65v3.62h-3.65zM110.97 217.35h3.65v3.62h-3.65zM117.68 217.35h3.65v3.62h-3.65zM121.03 217.35h3.65v3.62h-3.65zM124.38 217.35h3.65v3.62h-3.65zM127.73 217.35h3.65v3.62h-3.65zM131.09 217.35h3.65v3.62h-3.65zM33.86 220.67h3.65v3.62h-3.65zM37.22 220.67h3.65v3.62h-3.65zM40.57 220.67h3.65v3.62h-3.65zM47.27 220.67h3.65v3.62h-3.65zM53.98 220.67h3.65v3.62h-3.65zM57.33 220.67h3.65v3.62h-3.65zM60.68 220.67h3.65v3.62h-3.65zM64.03 220.67h3.65v3.62h-3.65zM67.39 220.67h3.65v3.62h-3.65zM74.09 220.67h3.65v3.62h-3.65zM77.44 220.67h3.65v3.62h-3.65zM80.80 220.67h3.65v3.62h-3.65zM84.15 220.67h3.65v3.62h-3.65zM87.50 220.67h3.65v3.62h-3.65zM90.85 220.67h3.65v3.62h-3.65zM94.21 220.67h3.65v3.62h-3.65zM97.56 220.67h3.65v3.62h-3.65zM107.62 220.67h3.65v3.62h-3.65zM110.97 220.67h3.65v3.62h-3.65zM114.32 220.67h3.65v3.62h-3.65zM117.68 220.67h3.65v3.62h-3.65zM127.73 220.67h3.65v3.62h-3.65zM131.09 220.67h3.65v3.62h-3.65zM137.79 220.67h3.65v3.62h-3.65zM33.86 223.99h3.65v3.62h-3.65zM37.22 223.99h3.65v3.62h-3.65zM40.57 223.99h3.65v3.62h-3.65zM47.27 223.99h3.65v3.62h-3.65zM50.62 223.99h3.65v3.62h-3.65zM53.98 223.99h3.65v3.62h-3.65zM57.33 223.99h3.65v3.62h-3.65zM64.03 223.99h3.65v3.62h-3.65zM67.39 223.99h3.65v3.62h-3.65zM74.09 223.99h3.65v3.62h-3.65zM77.44 223.99h3.65v3.62h-3.65zM80.80 223.99h3.65v3.62h-3.65zM84.15 223.99h3.65v3.62h-3.65zM87.50 223.99h3.65v3.62h-3.65zM90.85 223.99h3.65v3.62h-3.65zM97.56 223.99h3.65v3.62h-3.65zM104.27 223.99h3.65v3.62h-3.65zM107.62 223.99h3.65v3.62h-3.65zM110.97 223.99h3.65v3.62h-3.65zM114.32 223.99h3.65v3.62h-3.65zM117.68 223.99h3.65v3.62h-3.65zM127.73 223.99h3.65v3.62h-3.65zM131.09 223.99h3.65v3.62h-3.65zM134.44 223.99h3.65v3.62h-3.65zM137.79 223.99h3.65v3.62h-3.65zM47.27 227.30h3.65v3.62h-3.65zM50.62 227.30h3.65v3.62h-3.65zM53.98 227.30h3.65v3.62h-3.65zM57.33 227.30h3.65v3.62h-3.65zM64.03 227.30h3.65v3.62h-3.65zM67.39 227.30h3.65v3.62h-3.65zM70.74 227.30h3.65v3.62h-3.65zM74.09 227.30h3.65v3.62h-3.65zM77.44 227.30h3.65v3.62h-3.65zM80.80 227.30h3.65v3.62h-3.65zM84.15 227.30h3.65v3.62h-3.65zM87.50 227.30h3.65v3.62h-3.65zM97.56 227.30h3.65v3.62h-3.65zM104.27 227.30h3.65v3.62h-3.65zM107.62 227.30h3.65v3.62h-3.65zM110.97 227.30h3.65v3.62h-3.65zM114.32 227.30h3.65v3.62h-3.65zM131.09 227.30h3.65v3.62h-3.65zM134.44 227.30h3.65v3.62h-3.65zM144.50 227.30h3.65v3.62h-3.65zM147.85 227.30h3.65v3.62h-3.65zM27.16 230.62h3.65v3.62h-3.65zM33.86 230.62h3.65v3.62h-3.65zM47.27 230.62h3.65v3.62h-3.65zM50.62 230.62h3.65v3.62h-3.65zM57.33 230.62h3.65v3.62h-3.65zM60.68 230.62h3.65v3.62h-3.65zM64.03 230.62h3.65v3.62h-3.65zM67.39 230.62h3.65v3.62h-3.65zM70.74 230.62h3.65v3.62h-3.65zM74.09 230.62h3.65v3.62h-3.65zM77.44 230.62h3.65v3.62h-3.65zM80.80 230.62h3.65v3.62h-3.65zM84.15 230.62h3.65v3.62h-3.65zM87.50 230.62h3.65v3.62h-3.65zM97.56 230.62h3.65v3.62h-3.65zM104.27 230.62h3.65v3.62h-3.65zM107.62 230.62h3.65v3.62h-3.65zM114.32 230.62h3.65v3.62h-3.65zM131.09 230.62h3.65v3.62h-3.65zM134.44 230.62h3.65v3.62h-3.65zM141.14 230.62h3.65v3.62h-3.65zM144.50 230.62h3.65v3.62h-3.65zM147.85 230.62h3.65v3.62h-3.65zM20.45 233.94h3.65v3.62h-3.65zM27.16 233.94h3.65v3.62h-3.65zM33.86 233.94h3.65v3.62h-3.65zM47.27 233.94h3.65v3.62h-3.65zM57.33 233.94h3.65v3.62h-3.65zM60.68 233.94h3.65v3.62h-3.65zM64.03 233.94h3.65v3.62h-3.65zM67.39 233.94h3.65v3.62h-3.65zM70.74 233.94h3.65v3.62h-3.65zM74.09 233.94h3.65v3.62h-3.65zM77.44 233.94h3.65v3.62h-3.65zM80.80 233.94h3.65v3.62h-3.65zM84.15 233.94h3.65v3.62h-3.65zM87.50 233.94h3.65v3.62h-3.65zM90.85 233.94h3.65v3.62h-3.65zM97.56 233.94h3.65v3.62h-3.65zM104.27 233.94h3.65v3.62h-3.65zM107.62 233.94h3.65v3.62h-3.65zM110.97 233.94h3.65v3.62h-3.65zM114.32 233.94h3.65v3.62h-3.65zM117.68 233.94h3.65v3.62h-3.65zM121.03 233.94h3.65v3.62h-3.65zM124.38 233.94h3.65v3.62h-3.65zM134.44 233.94h3.65v3.62h-3.65zM141.14 233.94h3.65v3.62h-3.65zM144.50 233.94h3.65v3.62h-3.65zM147.85 233.94h3.65v3.62h-3.65zM33.86 237.26h3.65v3.62h-3.65zM57.33 237.26h3.65v3.62h-3.65zM64.03 237.26h3.65v3.62h-3.65zM67.39 237.26h3.65v3.62h-3.65zM70.74 237.26h3.65v3.62h-3.65zM74.09 237.26h3.65v3.62h-3.65zM77.44 237.26h3.65v3.62h-3.65zM80.80 237.26h3.65v3.62h-3.65zM84.15 237.26h3.65v3.62h-3.65zM87.50 237.26h3.65v3.62h-3.65zM90.85 237.26h3.65v3.62h-3.65zM94.21 237.26h3.65v3.62h-3.65zM97.56 237.26h3.65v3.62h-3.65zM104.27 237.26h3.65v3.62h-3.65zM114.32 237.26h3.65v3.62h-3.65zM117.68 237.26h3.65v3.62h-3.65zM121.03 237.26h3.65v3.62h-3.65zM124.38 237.26h3.65v3.62h-3.65zM127.73 237.26h3.65v3.62h-3.65zM134.44 237.26h3.65v3.62h-3.65zM141.14 237.26h3.65v3.62h-3.65zM144.50 237.26h3.65v3.62h-3.65zM147.85 237.26h3.65v3.62h-3.65zM53.98 240.58h3.65v3.62h-3.65zM57.33 240.58h3.65v3.62h-3.65zM64.03 240.58h3.65v3.62h-3.65zM67.39 240.58h3.65v3.62h-3.65zM70.74 240.58h3.65v3.62h-3.65zM74.09 240.58h3.65v3.62h-3.65zM77.44 240.58h3.65v3.62h-3.65zM80.80 240.58h3.65v3.62h-3.65zM84.15 240.58h3.65v3.62h-3.65zM90.85 240.58h3.65v3.62h-3.65zM94.21 240.58h3.65v3.62h-3.65zM97.56 240.58h3.65v3.62h-3.65zM104.27 240.58h3.65v3.62h-3.65zM114.32 240.58h3.65v3.62h-3.65zM117.68 240.58h3.65v3.62h-3.65zM121.03 240.58h3.65v3.62h-3.65zM124.38 240.58h3.65v3.62h-3.65zM127.73 240.58h3.65v3.62h-3.65zM134.44 240.58h3.65v3.62h-3.65zM144.50 240.58h3.65v3.62h-3.65zM147.85 240.58h3.65v3.62h-3.65zM53.98 243.90h3.65v3.62h-3.65zM57.33 243.90h3.65v3.62h-3.65zM60.68 243.90h3.65v3.62h-3.65zM64.03 243.90h3.65v3.62h-3.65zM67.39 243.90h3.65v3.62h-3.65zM70.74 243.90h3.65v3.62h-3.65zM74.09 243.90h3.65v3.62h-3.65zM77.44 243.90h3.65v3.62h-3.65zM80.80 243.90h3.65v3.62h-3.65zM84.15 243.90h3.65v3.62h-3.65zM90.85 243.90h3.65v3.62h-3.65zM94.21 243.90h3.65v3.62h-3.65zM97.56 243.90h3.65v3.62h-3.65zM100.91 243.90h3.65v3.62h-3.65zM110.97 243.90h3.65v3.62h-3.65zM114.32 243.90h3.65v3.62h-3.65zM117.68 243.90h3.65v3.62h-3.65zM121.03 243.90h3.65v3.62h-3.65zM127.73 243.90h3.65v3.62h-3.65zM134.44 243.90h3.65v3.62h-3.65zM137.79 243.90h3.65v3.62h-3.65zM144.50 243.90h3.65v3.62h-3.65zM147.85 243.90h3.65v3.62h-3.65zM50.62 247.22h3.65v3.62h-3.65zM60.68 247.22h3.65v3.62h-3.65zM64.03 247.22h3.65v3.62h-3.65zM74.09 247.22h3.65v3.62h-3.65zM77.44 247.22h3.65v3.62h-3.65zM80.80 247.22h3.65v3.62h-3.65zM84.15 247.22h3.65v3.62h-3.65zM87.50 247.22h3.65v3.62h-3.65zM90.85 247.22h3.65v3.62h-3.65zM94.21 247.22h3.65v3.62h-3.65zM100.91 247.22h3.65v3.62h-3.65zM104.27 247.22h3.65v3.62h-3.65zM110.97 247.22h3.65v3.62h-3.65zM114.32 247.22h3.65v3.62h-3.65zM117.68 247.22h3.65v3.62h-3.65zM124.38 247.22h3.65v3.62h-3.65zM127.73 247.22h3.65v3.62h-3.65zM134.44 247.22h3.65v3.62h-3.65zM144.50 247.22h3.65v3.62h-3.65zM147.85 247.22h3.65v3.62h-3.65zM20.45 250.54h3.65v3.62h-3.65zM50.62 250.54h3.65v3.62h-3.65zM57.33 250.54h3.65v3.62h-3.65zM60.68 250.54h3.65v3.62h-3.65zM64.03 250.54h3.65v3.62h-3.65zM74.09 250.54h3.65v3.62h-3.65zM77.44 250.54h3.65v3.62h-3.65zM80.80 250.54h3.65v3.62h-3.65zM84.15 250.54h3.65v3.62h-3.65zM87.50 250.54h3.65v3.62h-3.65zM90.85 250.54h3.65v3.62h-3.65zM94.21 250.54h3.65v3.62h-3.65zM97.56 250.54h3.65v3.62h-3.65zM100.91 250.54h3.65v3.62h-3.65zM104.27 250.54h3.65v3.62h-3.65zM107.62 250.54h3.65v3.62h-3.65zM110.97 250.54h3.65v3.62h-3.65zM114.32 250.54h3.65v3.62h-3.65zM117.68 250.54h3.65v3.62h-3.65zM124.38 250.54h3.65v3.62h-3.65zM127.73 250.54h3.65v3.62h-3.65zM144.50 250.54h3.65v3.62h-3.65zM147.85 250.54h3.65v3.62h-3.65zM20.45 253.86h3.65v3.62h-3.65zM33.86 253.86h3.65v3.62h-3.65zM50.62 253.86h3.65v3.62h-3.65zM57.33 253.86h3.65v3.62h-3.65zM60.68 253.86h3.65v3.62h-3.65zM64.03 253.86h3.65v3.62h-3.65zM67.39 253.86h3.65v3.62h-3.65zM77.44 253.86h3.65v3.62h-3.65zM80.80 253.86h3.65v3.62h-3.65zM84.15 253.86h3.65v3.62h-3.65zM87.50 253.86h3.65v3.62h-3.65zM90.85 253.86h3.65v3.62h-3.65zM94.21 253.86h3.65v3.62h-3.65zM97.56 253.86h3.65v3.62h-3.65zM100.91 253.86h3.65v3.62h-3.65zM104.27 253.86h3.65v3.62h-3.65zM107.62 253.86h3.65v3.62h-3.65zM110.97 253.86h3.65v3.62h-3.65zM114.32 253.86h3.65v3.62h-3.65zM117.68 253.86h3.65v3.62h-3.65zM121.03 253.86h3.65v3.62h-3.65zM124.38 253.86h3.65v3.62h-3.65zM127.73 253.86h3.65v3.62h-3.65zM131.09 253.86h3.65v3.62h-3.65zM134.44 253.86h3.65v3.62h-3.65zM144.50 253.86h3.65v3.62h-3.65zM147.85 253.86h3.65v3.62h-3.65zM20.45 257.18h3.65v3.62h-3.65zM47.27 257.18h3.65v3.62h-3.65zM60.68 257.18h3.65v3.62h-3.65zM64.03 257.18h3.65v3.62h-3.65zM70.74 257.18h3.65v3.62h-3.65zM74.09 257.18h3.65v3.62h-3.65zM77.44 257.18h3.65v3.62h-3.65zM80.80 257.18h3.65v3.62h-3.65zM84.15 257.18h3.65v3.62h-3.65zM87.50 257.18h3.65v3.62h-3.65zM90.85 257.18h3.65v3.62h-3.65zM97.56 257.18h3.65v3.62h-3.65zM100.91 257.18h3.65v3.62h-3.65zM104.27 257.18h3.65v3.62h-3.65zM107.62 257.18h3.65v3.62h-3.65zM110.97 257.18h3.65v3.62h-3.65zM114.32 257.18h3.65v3.62h-3.65zM117.68 257.18h3.65v3.62h-3.65zM121.03 257.18h3.65v3.62h-3.65zM124.38 257.18h3.65v3.62h-3.65zM127.73 257.18h3.65v3.62h-3.65zM131.09 257.18h3.65v3.62h-3.65zM134.44 257.18h3.65v3.62h-3.65zM144.50 257.18h3.65v3.62h-3.65zM147.85 257.18h3.65v3.62h-3.65zM47.27 260.50h3.65v3.62h-3.65zM50.62 260.50h3.65v3.62h-3.65zM53.98 260.50h3.65v3.62h-3.65zM60.68 260.50h3.65v3.62h-3.65zM64.03 260.50h3.65v3.62h-3.65zM67.39 260.50h3.65v3.62h-3.65zM70.74 260.50h3.65v3.62h-3.65zM74.09 260.50h3.65v3.62h-3.65zM77.44 260.50h3.65v3.62h-3.65zM80.80 260.50h3.65v3.62h-3.65zM84.15 260.50h3.65v3.62h-3.65zM87.50 260.50h3.65v3.62h-3.65zM94.21 260.50h3.65v3.62h-3.65zM97.56 260.50h3.65v3.62h-3.65zM100.91 260.50h3.65v3.62h-3.65zM104.27 260.50h3.65v3.62h-3.65zM107.62 260.50h3.65v3.62h-3.65zM110.97 260.50h3.65v3.62h-3.65zM114.32 260.50h3.65v3.62h-3.65zM117.68 260.50h3.65v3.62h-3.65zM121.03 260.50h3.65v3.62h-3.65zM124.38 260.50h3.65v3.62h-3.65zM127.73 260.50h3.65v3.62h-3.65zM131.09 260.50h3.65v3.62h-3.65zM134.44 260.50h3.65v3.62h-3.65zM144.50 260.50h3.65v3.62h-3.65zM147.85 260.50h3.65v3.62h-3.65zM37.22 263.81h3.65v3.62h-3.65zM47.27 263.81h3.65v3.62h-3.65zM50.62 263.81h3.65v3.62h-3.65zM60.68 263.81h3.65v3.62h-3.65zM64.03 263.81h3.65v3.62h-3.65zM67.39 263.81h3.65v3.62h-3.65zM74.09 263.81h3.65v3.62h-3.65zM77.44 263.81h3.65v3.62h-3.65zM80.80 263.81h3.65v3.62h-3.65zM84.15 263.81h3.65v3.62h-3.65zM87.50 263.81h3.65v3.62h-3.65zM94.21 263.81h3.65v3.62h-3.65zM97.56 263.81h3.65v3.62h-3.65zM100.91 263.81h3.65v3.62h-3.65zM104.27 263.81h3.65v3.62h-3.65zM107.62 263.81h3.65v3.62h-3.65zM110.97 263.81h3.65v3.62h-3.65zM114.32 263.81h3.65v3.62h-3.65zM117.68 263.81h3.65v3.62h-3.65zM121.03 263.81h3.65v3.62h-3.65zM127.73 263.81h3.65v3.62h-3.65zM141.14 263.81h3.65v3.62h-3.65zM144.50 263.81h3.65v3.62h-3.65zM147.85 263.81h3.65v3.62h-3.65zM20.45 267.13h3.65v3.62h-3.65zM60.68 267.13h3.65v3.62h-3.65zM64.03 267.13h3.65v3.62h-3.65zM67.39 267.13h3.65v3.62h-3.65zM74.09 267.13h3.65v3.62h-3.65zM77.44 267.13h3.65v3.62h-3.65zM80.80 267.13h3.65v3.62h-3.65zM84.15 267.13h3.65v3.62h-3.65zM87.50 267.13h3.65v3.62h-3.65zM94.21 267.13h3.65v3.62h-3.65zM97.56 267.13h3.65v3.62h-3.65zM104.27 267.13h3.65v3.62h-3.65zM107.62 267.13h3.65v3.62h-3.65zM110.97 267.13h3.65v3.62h-3.65zM114.32 267.13h3.65v3.62h-3.65zM117.68 267.13h3.65v3.62h-3.65zM121.03 267.13h3.65v3.62h-3.65zM124.38 267.13h3.65v3.62h-3.65zM127.73 267.13h3.65v3.62h-3.65zM134.44 267.13h3.65v3.62h-3.65zM137.79 267.13h3.65v3.62h-3.65zM141.14 267.13h3.65v3.62h-3.65zM144.50 267.13h3.65v3.62h-3.65zM147.85 267.13h3.65v3.62h-3.65zM37.22 270.45h3.65v3.62h-3.65zM50.62 270.45h3.65v3.62h-3.65zM53.98 270.45h3.65v3.62h-3.65zM60.68 270.45h3.65v3.62h-3.65zM64.03 270.45h3.65v3.62h-3.65zM67.39 270.45h3.65v3.62h-3.65zM70.74 270.45h3.65v3.62h-3.65zM74.09 270.45h3.65v3.62h-3.65zM77.44 270.45h3.65v3.62h-3.65zM84.15 270.45h3.65v3.62h-3.65zM87.50 270.45h3.65v3.62h-3.65zM90.85 270.45h3.65v3.62h-3.65zM94.21 270.45h3.65v3.62h-3.65zM97.56 270.45h3.65v3.62h-3.65zM107.62 270.45h3.65v3.62h-3.65zM110.97 270.45h3.65v3.62h-3.65zM117.68 270.45h3.65v3.62h-3.65zM121.03 270.45h3.65v3.62h-3.65zM124.38 270.45h3.65v3.62h-3.65zM127.73 270.45h3.65v3.62h-3.65zM134.44 270.45h3.65v3.62h-3.65zM137.79 270.45h3.65v3.62h-3.65zM141.14 270.45h3.65v3.62h-3.65zM144.50 270.45h3.65v3.62h-3.65zM147.85 270.45h3.65v3.62h-3.65zM53.98 273.77h3.65v3.62h-3.65zM57.33 273.77h3.65v3.62h-3.65zM64.03 273.77h3.65v3.62h-3.65zM67.39 273.77h3.65v3.62h-3.65zM70.74 273.77h3.65v3.62h-3.65zM74.09 273.77h3.65v3.62h-3.65zM77.44 273.77h3.65v3.62h-3.65zM80.80 273.77h3.65v3.62h-3.65zM87.50 273.77h3.65v3.62h-3.65zM90.85 273.77h3.65v3.62h-3.65zM94.21 273.77h3.65v3.62h-3.65zM97.56 273.77h3.65v3.62h-3.65zM100.91 273.77h3.65v3.62h-3.65zM104.27 273.77h3.65v3.62h-3.65zM107.62 273.77h3.65v3.62h-3.65zM110.97 273.77h3.65v3.62h-3.65zM114.32 273.77h3.65v3.62h-3.65zM117.68 273.77h3.65v3.62h-3.65zM121.03 273.77h3.65v3.62h-3.65zM124.38 273.77h3.65v3.62h-3.65zM127.73 273.77h3.65v3.62h-3.65zM134.44 273.77h3.65v3.62h-3.65zM141.14 273.77h3.65v3.62h-3.65zM144.50 273.77h3.65v3.62h-3.65zM147.85 273.77h3.65v3.62h-3.65zM37.22 277.09h3.65v3.62h-3.65zM43.92 277.09h3.65v3.62h-3.65zM50.62 277.09h3.65v3.62h-3.65zM53.98 277.09h3.65v3.62h-3.65zM60.68 277.09h3.65v3.62h-3.65zM64.03 277.09h3.65v3.62h-3.65zM67.39 277.09h3.65v3.62h-3.65zM70.74 277.09h3.65v3.62h-3.65zM74.09 277.09h3.65v3.62h-3.65zM77.44 277.09h3.65v3.62h-3.65zM80.80 277.09h3.65v3.62h-3.65zM84.15 277.09h3.65v3.62h-3.65zM87.50 277.09h3.65v3.62h-3.65zM90.85 277.09h3.65v3.62h-3.65zM97.56 277.09h3.65v3.62h-3.65zM100.91 277.09h3.65v3.62h-3.65zM104.27 277.09h3.65v3.62h-3.65zM107.62 277.09h3.65v3.62h-3.65zM117.68 277.09h3.65v3.62h-3.65zM121.03 277.09h3.65v3.62h-3.65zM124.38 277.09h3.65v3.62h-3.65zM127.73 277.09h3.65v3.62h-3.65zM134.44 277.09h3.65v3.62h-3.65zM141.14 277.09h3.65v3.62h-3.65zM144.50 277.09h3.65v3.62h-3.65zM147.85 277.09h3.65v3.62h-3.65zM37.22 280.41h3.65v3.62h-3.65zM50.62 280.41h3.65v3.62h-3.65zM53.98 280.41h3.65v3.62h-3.65zM60.68 280.41h3.65v3.62h-3.65zM67.39 280.41h3.65v3.62h-3.65zM70.74 280.41h3.65v3.62h-3.65zM74.09 280.41h3.65v3.62h-3.65zM77.44 280.41h3.65v3.62h-3.65zM80.80 280.41h3.65v3.62h-3.65zM84.15 280.41h3.65v3.62h-3.65zM90.85 280.41h3.65v3.62h-3.65zM97.56 280.41h3.65v3.62h-3.65zM100.91 280.41h3.65v3.62h-3.65zM104.27 280.41h3.65v3.62h-3.65zM107.62 280.41h3.65v3.62h-3.65zM110.97 280.41h3.65v3.62h-3.65zM114.32 280.41h3.65v3.62h-3.65zM117.68 280.41h3.65v3.62h-3.65zM121.03 280.41h3.65v3.62h-3.65zM124.38 280.41h3.65v3.62h-3.65zM127.73 280.41h3.65v3.62h-3.65zM134.44 280.41h3.65v3.62h-3.65zM137.79 280.41h3.65v3.62h-3.65zM141.14 280.41h3.65v3.62h-3.65zM144.50 280.41h3.65v3.62h-3.65zM147.85 280.41h3.65v3.62h-3.65zM30.51 283.73h3.65v3.62h-3.65zM47.27 283.73h3.65v3.62h-3.65zM67.39 283.73h3.65v3.62h-3.65zM70.74 283.73h3.65v3.62h-3.65zM74.09 283.73h3.65v3.62h-3.65zM77.44 283.73h3.65v3.62h-3.65zM80.80 283.73h3.65v3.62h-3.65zM84.15 283.73h3.65v3.62h-3.65zM87.50 283.73h3.65v3.62h-3.65zM90.85 283.73h3.65v3.62h-3.65zM97.56 283.73h3.65v3.62h-3.65zM100.91 283.73h3.65v3.62h-3.65zM104.27 283.73h3.65v3.62h-3.65zM107.62 283.73h3.65v3.62h-3.65zM110.97 283.73h3.65v3.62h-3.65zM114.32 283.73h3.65v3.62h-3.65zM117.68 283.73h3.65v3.62h-3.65zM121.03 283.73h3.65v3.62h-3.65zM124.38 283.73h3.65v3.62h-3.65zM127.73 283.73h3.65v3.62h-3.65zM134.44 283.73h3.65v3.62h-3.65zM137.79 283.73h3.65v3.62h-3.65zM141.14 283.73h3.65v3.62h-3.65zM144.50 283.73h3.65v3.62h-3.65zM147.85 283.73h3.65v3.62h-3.65zM30.51 287.05h3.65v3.62h-3.65zM47.27 287.05h3.65v3.62h-3.65zM64.03 287.05h3.65v3.62h-3.65zM74.09 287.05h3.65v3.62h-3.65zM77.44 287.05h3.65v3.62h-3.65zM80.80 287.05h3.65v3.62h-3.65zM84.15 287.05h3.65v3.62h-3.65zM87.50 287.05h3.65v3.62h-3.65zM90.85 287.05h3.65v3.62h-3.65zM97.56 287.05h3.65v3.62h-3.65zM100.91 287.05h3.65v3.62h-3.65zM104.27 287.05h3.65v3.62h-3.65zM107.62 287.05h3.65v3.62h-3.65zM110.97 287.05h3.65v3.62h-3.65zM114.32 287.05h3.65v3.62h-3.65zM117.68 287.05h3.65v3.62h-3.65zM121.03 287.05h3.65v3.62h-3.65zM124.38 287.05h3.65v3.62h-3.65zM127.73 287.05h3.65v3.62h-3.65zM134.44 287.05h3.65v3.62h-3.65zM137.79 287.05h3.65v3.62h-3.65zM144.50 287.05h3.65v3.62h-3.65zM147.85 287.05h3.65v3.62h-3.65zM20.45 290.37h3.65v3.62h-3.65zM30.51 290.37h3.65v3.62h-3.65zM47.27 290.37h3.65v3.62h-3.65zM50.62 290.37h3.65v3.62h-3.65zM67.39 290.37h3.65v3.62h-3.65zM74.09 290.37h3.65v3.62h-3.65zM77.44 290.37h3.65v3.62h-3.65zM80.80 290.37h3.65v3.62h-3.65zM84.15 290.37h3.65v3.62h-3.65zM87.50 290.37h3.65v3.62h-3.65zM90.85 290.37h3.65v3.62h-3.65zM97.56 290.37h3.65v3.62h-3.65zM100.91 290.37h3.65v3.62h-3.65zM104.27 290.37h3.65v3.62h-3.65zM107.62 290.37h3.65v3.62h-3.65zM110.97 290.37h3.65v3.62h-3.65zM114.32 290.37h3.65v3.62h-3.65zM117.68 290.37h3.65v3.62h-3.65zM121.03 290.37h3.65v3.62h-3.65zM124.38 290.37h3.65v3.62h-3.65zM127.73 290.37h3.65v3.62h-3.65zM134.44 290.37h3.65v3.62h-3.65zM137.79 290.37h3.65v3.62h-3.65zM141.14 290.37h3.65v3.62h-3.65zM144.50 290.37h3.65v3.62h-3.65zM147.85 290.37h3.65v3.62h-3.65zM37.22 293.69h3.65v3.62h-3.65zM47.27 293.69h3.65v3.62h-3.65zM50.62 293.69h3.65v3.62h-3.65zM57.33 293.69h3.65v3.62h-3.65zM74.09 293.69h3.65v3.62h-3.65zM77.44 293.69h3.65v3.62h-3.65zM80.80 293.69h3.65v3.62h-3.65zM84.15 293.69h3.65v3.62h-3.65zM87.50 293.69h3.65v3.62h-3.65zM90.85 293.69h3.65v3.62h-3.65zM97.56 293.69h3.65v3.62h-3.65zM104.27 293.69h3.65v3.62h-3.65zM107.62 293.69h3.65v3.62h-3.65zM110.97 293.69h3.65v3.62h-3.65zM114.32 293.69h3.65v3.62h-3.65zM117.68 293.69h3.65v3.62h-3.65zM121.03 293.69h3.65v3.62h-3.65zM127.73 293.69h3.65v3.62h-3.65zM131.09 293.69h3.65v3.62h-3.65zM137.79 293.69h3.65v3.62h-3.65zM141.14 293.69h3.65v3.62h-3.65zM144.50 293.69h3.65v3.62h-3.65zM147.85 293.69h3.65v3.62h-3.65zM47.27 297.00h3.65v3.62h-3.65zM50.62 297.00h3.65v3.62h-3.65zM57.33 297.00h3.65v3.62h-3.65zM64.03 297.00h3.65v3.62h-3.65zM70.74 297.00h3.65v3.62h-3.65zM74.09 297.00h3.65v3.62h-3.65zM77.44 297.00h3.65v3.62h-3.65zM80.80 297.00h3.65v3.62h-3.65zM90.85 297.00h3.65v3.62h-3.65zM97.56 297.00h3.65v3.62h-3.65zM104.27 297.00h3.65v3.62h-3.65zM107.62 297.00h3.65v3.62h-3.65zM110.97 297.00h3.65v3.62h-3.65zM114.32 297.00h3.65v3.62h-3.65zM117.68 297.00h3.65v3.62h-3.65zM121.03 297.00h3.65v3.62h-3.65zM124.38 297.00h3.65v3.62h-3.65zM127.73 297.00h3.65v3.62h-3.65zM131.09 297.00h3.65v3.62h-3.65zM137.79 297.00h3.65v3.62h-3.65zM141.14 297.00h3.65v3.62h-3.65zM144.50 297.00h3.65v3.62h-3.65zM147.85 297.00h3.65v3.62h-3.65zM33.86 300.32h3.65v3.62h-3.65zM50.62 300.32h3.65v3.62h-3.65zM57.33 300.32h3.65v3.62h-3.65zM64.03 300.32h3.65v3.62h-3.65zM70.74 300.32h3.65v3.62h-3.65zM74.09 300.32h3.65v3.62h-3.65zM77.44 300.32h3.65v3.62h-3.65zM80.80 300.32h3.65v3.62h-3.65zM94.21 300.32h3.65v3.62h-3.65zM97.56 300.32h3.65v3.62h-3.65zM107.62 300.32h3.65v3.62h-3.65zM110.97 300.32h3.65v3.62h-3.65zM114.32 300.32h3.65v3.62h-3.65zM117.68 300.32h3.65v3.62h-3.65zM121.03 300.32h3.65v3.62h-3.65zM124.38 300.32h3.65v3.62h-3.65zM127.73 300.32h3.65v3.62h-3.65zM131.09 300.32h3.65v3.62h-3.65zM141.14 300.32h3.65v3.62h-3.65zM144.50 300.32h3.65v3.62h-3.65zM147.85 300.32h3.65v3.62h-3.65zM33.86 303.64h3.65v3.62h-3.65zM64.03 303.64h3.65v3.62h-3.65zM67.39 303.64h3.65v3.62h-3.65zM70.74 303.64h3.65v3.62h-3.65zM74.09 303.64h3.65v3.62h-3.65zM77.44 303.64h3.65v3.62h-3.65zM80.80 303.64h3.65v3.62h-3.65zM84.15 303.64h3.65v3.62h-3.65zM90.85 303.64h3.65v3.62h-3.65zM100.91 303.64h3.65v3.62h-3.65zM107.62 303.64h3.65v3.62h-3.65zM110.97 303.64h3.65v3.62h-3.65zM114.32 303.64h3.65v3.62h-3.65zM117.68 303.64h3.65v3.62h-3.65zM121.03 303.64h3.65v3.62h-3.65zM124.38 303.64h3.65v3.62h-3.65zM127.73 303.64h3.65v3.62h-3.65zM131.09 303.64h3.65v3.62h-3.65zM137.79 303.64h3.65v3.62h-3.65zM144.50 303.64h3.65v3.62h-3.65zM147.85 303.64h3.65v3.62h-3.65zM33.86 306.96h3.65v3.62h-3.65zM37.22 306.96h3.65v3.62h-3.65zM64.03 306.96h3.65v3.62h-3.65zM67.39 306.96h3.65v3.62h-3.65zM70.74 306.96h3.65v3.62h-3.65zM74.09 306.96h3.65v3.62h-3.65zM77.44 306.96h3.65v3.62h-3.65zM80.80 306.96h3.65v3.62h-3.65zM84.15 306.96h3.65v3.62h-3.65zM87.50 306.96h3.65v3.62h-3.65zM90.85 306.96h3.65v3.62h-3.65zM100.91 306.96h3.65v3.62h-3.65zM107.62 306.96h3.65v3.62h-3.65zM110.97 306.96h3.65v3.62h-3.65zM114.32 306.96h3.65v3.62h-3.65zM117.68 306.96h3.65v3.62h-3.65zM124.38 306.96h3.65v3.62h-3.65zM127.73 306.96h3.65v3.62h-3.65zM131.09 306.96h3.65v3.62h-3.65zM141.14 306.96h3.65v3.62h-3.65zM144.50 306.96h3.65v3.62h-3.65zM147.85 306.96h3.65v3.62h-3.65zM37.22 310.28h3.65v3.62h-3.65zM50.62 310.28h3.65v3.62h-3.65zM53.98 310.28h3.65v3.62h-3.65zM57.33 310.28h3.65v3.62h-3.65zM64.03 310.28h3.65v3.62h-3.65zM67.39 310.28h3.65v3.62h-3.65zM74.09 310.28h3.65v3.62h-3.65zM77.44 310.28h3.65v3.62h-3.65zM80.80 310.28h3.65v3.62h-3.65zM84.15 310.28h3.65v3.62h-3.65zM87.50 310.28h3.65v3.62h-3.65zM90.85 310.28h3.65v3.62h-3.65zM97.56 310.28h3.65v3.62h-3.65zM100.91 310.28h3.65v3.62h-3.65zM104.27 310.28h3.65v3.62h-3.65zM107.62 310.28h3.65v3.62h-3.65zM110.97 310.28h3.65v3.62h-3.65zM114.32 310.28h3.65v3.62h-3.65zM117.68 310.28h3.65v3.62h-3.65zM124.38 310.28h3.65v3.62h-3.65zM127.73 310.28h3.65v3.62h-3.65zM131.09 310.28h3.65v3.62h-3.65zM134.44 310.28h3.65v3.62h-3.65zM137.79 310.28h3.65v3.62h-3.65zM141.14 310.28h3.65v3.62h-3.65zM144.50 310.28h3.65v3.62h-3.65zM147.85 310.28h3.65v3.62h-3.65z"/>
<path fill="#3258a8" d="M57.33 174.20h3.65v3.62h-3.65zM60.68 174.20h3.65v3.62h-3.65zM64.03 174.20h3.65v3.62h-3.65zM67.39 174.20h3.65v3.62h-3.65zM70.74 174.20h3.65v3.62h-3.65zM74.09 174.20h3.65v3.62h-3.65zM77.44 174.20h3.65v3.62h-3.65zM80.80 174.20h3.65v3.62h-3.65zM84.15 174.20h3.65v3.62h-3.65zM87.50 174.20h3.65v3.62h-3.65zM90.85 174.20h3.65v3.62h-3.65zM94.21 174.20h3.65v3.62h-3.65zM97.56 174.20h3.65v3.62h-3.65zM100.91 174.20h3.65v3.62h-3.65zM104.27 174.20h3.65v3.62h-3.65zM107.62 174.20h3.65v3.62h-3.65zM110.97 174.20h3.65v3.62h-3.65zM114.32 174.20h3.65v3.62h-3.65zM117.68 174.20h3.65v3.62h-3.65zM121.03 174.20h3.65v3.62h-3.65zM124.38 174.20h3.65v3.62h-3.65zM127.73 174.20h3.65v3.62h-3.65zM131.09 174.20h3.65v3.62h-3.65zM134.44 174.20h3.65v3.62h-3.65zM137.79 174.20h3.65v3.62h-3.65zM141.14 174.20h3.65v3.62h-3.65zM144.50 174.20h3.65v3.62h-3.65zM147.85 174.20h3.65v3.62h-3.65zM60.68 177.52h3.65v3.62h-3.65zM64.03 177.52h3.65v3.62h-3.65zM67.39 177.52h3.65v3.62h-3.65zM70.74 177.52h3.65v3.62h-3.65zM74.09 177.52h3.65v3.62h-3.65zM77.44 177.52h3.65v3.62h-3.65zM80.80 177.52h3.65v3.62h-3.65zM84.15 177.52h3.65v3.62h-3.65zM87.50 177.52h3.65v3.62h-3.65zM90.85 177.52h3.65v3.62h-3.65zM94.21 177.52h3.65v3.62h-3.65zM97.56 177.52h3.65v3.62h-3.65zM100.91 177.52h3.65v3.62h-3.65zM104.27 177.52h3.65v3.62h-3.65zM107.62 177.52h3.65v3.62h-3.65zM110.97 177.52h3.65v3.62h-3.65zM114.32 177.52h3.65v3.62h-3.65zM117.68 177.52h3.65v3.62h-3.65zM121.03 177.52h3.65v3.62h-3.65zM124.38 177.52h3.65v3.62h-3.65zM127.73 177.52h3.65v3.62h-3.65zM131.09 177.52h3.65v3.62h-3.65zM134.44 177.52h3.65v3.62h-3.65zM137.79 177.52h3.65v3.62h-3.65zM141.14 177.52h3.65v3.62h-3.65zM144.50 177.52h3.65v3.62h-3.65zM147.85 177.52h3.65v3.62h-3.65zM70.74 180.84h3.65v3.62h-3.65zM74.09 180.84h3.65v3.62h-3.65zM77.44 180.84h3.65v3.62h-3.65zM80.80 180.84h3.65v3.62h-3.65zM84.15 180.84h3.65v3.62h-3.65zM87.50 180.84h3.65v3.62h-3.65zM90.85 180.84h3.65v3.62h-3.65zM94.21 180.84h3.65v3.62h-3.65zM97.56 180.84h3.65v3.62h-3.65zM100.91 180.84h3.65v3.62h-3.65zM104.27 180.84h3.65v3.62h-3.65zM107.62 180.84h3.65v3.62h-3.65zM110.97 180.84h3.65v3.62h-3.65zM114.32 180.84h3.65v3.62h-3.65zM117.68 180.84h3.65v3.62h-3.65zM121.03 180.84h3.65v3.62h-3.65zM124.38 180.84h3.65v3.62h-3.65zM127.73 180.84h3.65v3.62h-3.65zM131.09 180.84h3.65v3.62h-3.65zM134.44 180.84h3.65v3.62h-3.65zM137.79 180.84h3.65v3.62h-3.65zM141.14 180.84h3.65v3.62h-3.65zM144.50 180.84h3.65v3.62h-3.65zM147.85 180.84h3.65v3.62h-3.65zM84.15 184.16h3.65v3.62h-3.65zM87.50 184.16h3.65v3.62h-3.65zM90.85 184.16h3.65v3.62h-3.65zM94.21 184.16h3.65v3.62h-3.65zM97.56 184.16h3.65v3.62h-3.65zM100.91 184.16h3.65v3.62h-3.65zM104.27 184.16h3.65v3.62h-3.65zM107.62 184.16h3.65v3.62h-3.65zM110.97 184.16h3.65v3.62h-3.65zM114.32 184.16h3.65v3.62h-3.65zM117.68 184.16h3.65v3.62h-3.65zM121.03 184.16h3.65v3.62h-3.65zM124.38 184.16h3.65v3.62h-3.65zM127.73 184.16h3.65v3.62h-3.65zM131.09 184.16h3.65v3.62h-3.65zM134.44 184.16h3.65v3.62h-3.65zM137.79 184.16h3.65v3.62h-3.65zM141.14 184.16h3.65v3.62h-3.65zM144.50 184.16h3.65v3.62h-3.65zM147.85 184.16h3.65v3.62h-3.65zM90.85 187.48h3.65v3.62h-3.65zM94.21 187.48h3.65v3.62h-3.65zM97.56 187.48h3.65v3.62h-3.65zM100.91 187.48h3.65v3.62h-3.65zM104.27 187.48h3.65v3.62h-3.65zM107.62 187.48h3.65v3.62h-3.65zM110.97 187.48h3.65v3.62h-3.65zM114.32 187.48h3.65v3.62h-3.65zM117.68 187.48h3.65v3.62h-3.65zM121.03 187.48h3.65v3.62h-3.65zM124.38 187.48h3.65v3.62h-3.65zM127.73 187.48h3.65v3.62h-3.65zM131.09 187.48h3.65v3.62h-3.65zM134.44 187.48h3.65v3.62h-3.65zM137.79 187.48h3.65v3.62h-3.65zM141.14 187.48h3.65v3.62h-3.65zM144.50 187.48h3.65v3.62h-3.65zM147.85 187.48h3.65v3.62h-3.65zM100.91 190.80h3.65v3.62h-3.65zM104.27 190.80h3.65v3.62h-3.65zM107.62 190.80h3.65v3.62h-3.65zM110.97 190.80h3.65v3.62h-3.65zM114.32 190.80h3.65v3.62h-3.65zM117.68 190.80h3.65v3.62h-3.65zM121.03 190.80h3.65v3.62h-3.65zM124.38 190.80h3.65v3.62h-3.65zM127.73 190.80h3.65v3.62h-3.65zM131.09 190.80h3.65v3.62h-3.65zM134.44 190.80h3.65v3.62h-3.65zM137.79 190.80h3.65v3.62h-3.65zM141.14 190.80h3.65v3.62h-3.65zM144.50 190.80h3.65v3.62h-3.65zM147.85 190.80h3.65v3.62h-3.65zM104.27 194.11h3.65v3.62h-3.65zM107.62 194.11h3.65v3.62h-3.65zM110.97 194.11h3.65v3.62h-3.65zM114.32 194.11h3.65v3.62h-3.65zM117.68 194.11h3.65v3.62h-3.65zM121.03 194.11h3.65v3.62h-3.65zM124.38 194.11h3.65v3.62h-3.65zM127.73 194.11h3.65v3.62h-3.65zM131.09 194.11h3.65v3.62h-3.65zM134.44 194.11h3.65v3.62h-3.65zM137.79 194.11h3.65v3.62h-3.65zM141.14 194.11h3.65v3.62h-3.65zM144.50 194.11h3.65v3.62h-3.65zM147.85 194.11h3.65v3.62h-3.65zM110.97 197.43h3.65v3.62h-3.65zM114.32 197.43h3.65v3.62h-3.65zM117.68 197.43h3.65v3.62h-3.65zM121.03 197.43h3.65v3.62h-3.65zM124.38 197.43h3.65v3.62h-3.65zM127.73 197.43h3.65v3.62h-3.65zM131.09 197.43h3.65v3.62h-3.65zM134.44 197.43h3.65v3.62h-3.65zM137.79 197.43h3.65v3.62h-3.65zM141.14 197.43h3.65v3.62h-3.65zM144.50 197.43h3.65v3.62h-3.65zM147.85 197.43h3.65v3.62h-3.65zM114.32 200.75h3.65v3.62h-3.65zM117.68 200.75h3.65v3.62h-3.65zM121.03 200.75h3.65v3.62h-3.65zM124.38 200.75h3.65v3.62h-3.65zM127.73 200.75h3.65v3.62h-3.65zM131.09 200.75h3.65v3.62h-3.65zM134.44 200.75h3.65v3.62h-3.65zM137.79 200.75h3.65v3.62h-3.65zM141.14 200.75h3.65v3.62h-3.65zM144.50 200.75h3.65v3.62h-3.65zM147.85 200.75h3.65v3.62h-3.65zM117.68 204.07h3.65v3.62h-3.65zM121.03 204.07h3.65v3.62h-3.65zM124.38 204.07h3.65v3.62h-3.65zM127.73 204.07h3.65v3.62h-3.65zM131.09 204.07h3.65v3.62h-3.65zM134.44 204.07h3.65v3.62h-3.65zM137.79 204.07h3.65v3.62h-3.65zM141.14 204.07h3.65v3.62h-3.65zM144.50 204.07h3.65v3.62h-3.65zM147.85 204.07h3.65v3.62h-3.65zM124.38 207.39h3.65v3.62h-3.65zM127.73 207.39h3.65v3.62h-3.65zM131.09 207.39h3.65v3.62h-3.65zM134.44 207.39h3.65v3.62h-3.65zM137.79 207.39h3.65v3.62h-3.65zM141.14 207.39h3.65v3.62h-3.65zM144.50 207.39h3.65v3.62h-3.65zM147.85 207.39h3.65v3.62h-3.65zM127.73 210.71h3.65v3.62h-3.65zM131.09 210.71h3.65v3.62h-3.65zM134.44 210.71h3.65v3.62h-3.65zM137.79 210.71h3.65v3.62h-3.65zM141.14 210.71h3.65v3.62h-3.65zM144.50 210.71h3.65v3.62h-3.65zM147.85 210.71h3.65v3.62h-3.65zM134.44 214.03h3.65v3.62h-3.65zM137.79 214.03h3.65v3.62h-3.65zM141.14 214.03h3.65v3.62h-3.65zM144.50 214.03h3.65v3.62h-3.65zM147.85 214.03h3.65v3.62h-3.65zM137.79 217.35h3.65v3.62h-3.65zM141.14 217.35h3.65v3.62h-3.65zM144.50 217.35h3.65v3.62h-3.65zM147.85 217.35h3.65v3.62h-3.65zM141.14 220.67h3.65v3.62h-3.65zM144.50 220.67h3.65v3.62h-3.65zM147.85 220.67h3.65v3.62h-3.65zM144.50 223.99h3.65v3.62h-3.65zM147.85 223.99h3.65v3.62h-3.65z"/></g></g>
<text x="148.1" y="185.9" font-size="8.4" fill="#fff" text-anchor="end">120 K</text>
<path d="M26.2 300.9V306.4H52.1V300.9" fill="none" stroke="#fff" stroke-width="1.1"/>
<line x1="121.5" y1="295.8" x2="130.1" y2="284.8" stroke="#bbb" stroke-width="0.9"/>
<line x1="121.5" y1="295.8" x2="130.1" y2="306.1" stroke="#bbb" stroke-width="0.9"/>
<line x1="133.5" y1="284.8" x2="140.5" y2="284.8" stroke="#e62020" stroke-width="1.2"/>
<path d="M142.5 284.8L139.0 282.8L139.0 286.8Z" fill="#e62020"/>
<line x1="133.5" y1="306.1" x2="140.5" y2="306.1" stroke="#e62020" stroke-width="1.2"/>
<path d="M142.5 306.1L139.0 304.1L139.0 308.1Z" fill="#e62020"/>
<line x1="118.0" y1="295.8" x2="110.0" y2="295.8" stroke="#e62020" stroke-width="1.2"/>
<path d="M108.0 295.8L111.5 293.8L111.5 297.8Z" fill="#e62020"/>
<circle cx="121.5" cy="295.8" r="2.7" fill="url(#blu)"/>
<circle cx="130.1" cy="284.8" r="2.8" fill="url(#yel)"/>
<circle cx="130.1" cy="306.1" r="2.8" fill="url(#yel)"/>
<rect x="160.6" y="177.4" width="9.5" height="133.1" fill="url(#cbb)" stroke="#333" stroke-width="0.6"/>
<line x1="170.1" y1="310.50" x2="172.50" y2="310.50" stroke="#333" stroke-width="0.6"/>
<line x1="170.1" y1="293.86" x2="171.50" y2="293.86" stroke="#333" stroke-width="0.6"/>
<line x1="170.1" y1="277.22" x2="172.50" y2="277.22" stroke="#333" stroke-width="0.6"/>
<line x1="170.1" y1="260.58" x2="171.50" y2="260.58" stroke="#333" stroke-width="0.6"/>
<line x1="170.1" y1="243.94" x2="172.50" y2="243.94" stroke="#333" stroke-width="0.6"/>
<line x1="170.1" y1="227.30" x2="171.50" y2="227.30" stroke="#333" stroke-width="0.6"/>
<line x1="170.1" y1="210.66" x2="172.50" y2="210.66" stroke="#333" stroke-width="0.6"/>
<line x1="170.1" y1="194.02" x2="171.50" y2="194.02" stroke="#333" stroke-width="0.6"/>
<line x1="170.1" y1="177.38" x2="172.50" y2="177.38" stroke="#333" stroke-width="0.6"/>
<text transform="translate(176,313.60) scale(1,1.15)" font-size="7.6" fill="#222">247.0</text>
<text transform="translate(176,280.32) scale(1,1.15)" font-size="7.6" fill="#222">248.0</text>
<text transform="translate(176,247.04) scale(1,1.15)" font-size="7.6" fill="#222">249.0</text>
<text transform="translate(176,213.76) scale(1,1.15)" font-size="7.6" fill="#222">250.0</text>
<text transform="translate(176,180.48) scale(1,1.15)" font-size="7.6" fill="#222">251.0</text>
<text transform="translate(205.8,243.4) rotate(-90)" font-size="8.6" fill="#222" text-anchor="middle">Wavenumber [cm<tspan dy="-2.5" font-size="5">-1</tspan><tspan dy="2.5">]</tspan></text>
<text x="215.3" y="7.6" font-size="9" font-weight="bold" fill="#111">(c)</text>
<defs><clipPath id="clc"><rect x="247.2" y="3.5" width="172.3" height="138.2"/></clipPath></defs>
<rect x="247.2" y="3.5" width="172.3" height="138.2" fill="url(#bgc)"/>
<g clip-path="url(#clc)">
<line x1="310.6" y1="3.5" x2="310.6" y2="141.7" stroke="#555" stroke-width="0.7"/>
<line x1="346.7" y1="3.5" x2="346.7" y2="141.7" stroke="#555" stroke-width="0.7"/>
<line x1="381.6" y1="3.5" x2="381.6" y2="141.7" stroke="#555" stroke-width="0.7"/>
<path d="M247.20 6.60C248.67 7.33 253.03 9.52 256.00 11.00C258.97 12.48 262.33 14.37 265.00 15.50C267.67 16.63 269.83 18.18 272.00 17.80C274.17 17.43 275.88 15.02 278.00 13.25C280.12 11.48 282.87 9.41 284.70 7.20C286.53 4.99 287.95 2.03 289.00 0.00C290.05 -2.03 290.67 -4.17 291.00 -5.00" stroke="#5c8860" stroke-width="1.05" fill="none"/>
<path d="M247.20 8.60C248.67 9.33 253.03 11.52 256.00 13.00C258.97 14.48 262.33 16.37 265.00 17.50C267.67 18.63 269.83 20.05 272.00 19.80C274.17 19.55 275.88 17.43 278.00 16.00C280.12 14.57 282.87 13.20 284.70 11.20C286.53 9.20 287.95 6.03 289.00 4.00C290.05 1.97 290.67 -0.17 291.00 -1.00" stroke="#f2d07c" stroke-width="1.4" fill="none"/>
<path d="M247.20 10.60C248.67 11.33 253.03 13.52 256.00 15.00C258.97 16.48 262.33 18.37 265.00 19.50C267.67 20.63 269.83 21.93 272.00 21.80C274.17 21.68 275.88 19.85 278.00 18.75C280.12 17.65 282.87 16.99 284.70 15.20C286.53 13.41 287.95 10.03 289.00 8.00C290.05 5.97 290.67 3.83 291.00 3.00" stroke="#ef4660" stroke-width="1.05" fill="none"/>
<path d="M247.20 8.60C249.00 9.88 254.20 14.19 258.00 16.30C261.80 18.41 266.00 19.72 270.00 21.25C274.00 22.78 278.33 24.53 282.00 25.50C285.67 26.47 288.67 27.76 292.00 27.05C295.33 26.34 298.90 23.59 302.00 21.25C305.10 18.91 307.93 15.21 310.60 13.00C313.27 10.79 315.43 9.83 318.00 8.00C320.57 6.17 324.00 3.75 326.00 2.00C328.00 0.25 329.33 -1.75 330.00 -2.50" stroke="#5c8860" stroke-width="1.05" fill="none"/>
<path d="M247.20 13.60C249.00 14.55 254.20 17.65 258.00 19.30C261.80 20.95 266.00 22.13 270.00 23.50C274.00 24.87 278.33 26.62 282.00 27.50C285.67 28.38 288.67 29.47 292.00 28.80C295.33 28.13 298.90 25.72 302.00 23.50C305.10 21.28 307.93 17.67 310.60 15.50C313.27 13.33 315.43 12.33 318.00 10.50C320.57 8.67 324.00 6.25 326.00 4.50C328.00 2.75 329.33 0.75 330.00 0.00" stroke="#f2d07c" stroke-width="1.4" fill="none"/>
<path d="M247.20 18.60C249.00 19.22 254.20 21.11 258.00 22.30C261.80 23.49 266.00 24.55 270.00 25.75C274.00 26.95 278.33 28.70 282.00 29.50C285.67 30.30 288.67 31.18 292.00 30.55C295.33 29.93 298.90 27.84 302.00 25.75C305.10 23.66 307.93 20.12 310.60 18.00C313.27 15.88 315.43 14.83 318.00 13.00C320.57 11.17 324.00 8.75 326.00 7.00C328.00 5.25 329.33 3.25 330.00 2.50" stroke="#ef4660" stroke-width="1.05" fill="none"/>
<path d="M247.20 7.00C248.17 7.75 251.03 9.50 253.00 11.50C254.97 13.50 256.83 15.67 259.00 19.00C261.17 22.33 263.83 28.25 266.00 31.50C268.17 34.75 270.00 36.83 272.00 38.50C274.00 40.17 275.67 41.25 278.00 41.50C280.33 41.75 283.00 40.96 286.00 40.00C289.00 39.04 293.00 37.33 296.00 35.75C299.00 34.17 301.57 32.04 304.00 30.50C306.43 28.96 307.93 26.58 310.60 26.50C313.27 26.42 316.27 28.08 320.00 30.00C323.73 31.92 328.55 35.46 333.00 38.00C337.45 40.54 343.03 44.67 346.70 45.25C350.37 45.83 352.12 43.00 355.00 41.50C357.88 40.00 361.17 36.42 364.00 36.25C366.83 36.08 369.07 38.92 372.00 40.50C374.93 42.08 378.30 45.58 381.60 45.75C384.90 45.92 388.63 44.17 391.80 41.50C394.97 38.83 397.97 33.67 400.60 29.75C403.23 25.83 405.25 21.33 407.60 18.00C409.95 14.67 412.72 11.67 414.70 9.75C416.68 7.83 418.70 7.04 419.50 6.50" stroke="#5c8860" stroke-width="1.05" fill="none"/>
<path d="M247.20 9.00C248.17 9.75 251.03 11.50 253.00 13.50C254.97 15.50 256.83 17.75 259.00 21.00C261.17 24.25 263.83 29.92 266.00 33.00C268.17 36.08 270.00 38.00 272.00 39.50C274.00 41.00 275.67 41.75 278.00 42.00C280.33 42.25 283.00 41.75 286.00 41.00C289.00 40.25 293.00 38.83 296.00 37.50C299.00 36.17 301.57 34.33 304.00 33.00C306.43 31.67 307.93 29.50 310.60 29.50C313.27 29.50 316.27 31.08 320.00 33.00C323.73 34.92 328.55 38.42 333.00 41.00C337.45 43.58 343.03 48.08 346.70 48.50C350.37 48.92 352.12 45.25 355.00 43.50C357.88 41.75 361.17 38.08 364.00 38.00C366.83 37.92 369.07 41.17 372.00 43.00C374.93 44.83 378.30 48.83 381.60 49.00C384.90 49.17 388.63 46.83 391.80 44.00C394.97 41.17 397.97 36.00 400.60 32.00C403.23 28.00 405.25 23.42 407.60 20.00C409.95 16.58 412.72 13.50 414.70 11.50C416.68 9.50 418.70 8.58 419.50 8.00" stroke="#f2d07c" stroke-width="1.4" fill="none"/>
<path d="M247.20 11.00C248.17 11.75 251.03 13.50 253.00 15.50C254.97 17.50 256.83 19.83 259.00 23.00C261.17 26.17 263.83 31.58 266.00 34.50C268.17 37.42 270.00 39.17 272.00 40.50C274.00 41.83 275.67 42.25 278.00 42.50C280.33 42.75 283.00 42.54 286.00 42.00C289.00 41.46 293.00 40.33 296.00 39.25C299.00 38.17 301.57 36.62 304.00 35.50C306.43 34.38 307.93 32.42 310.60 32.50C313.27 32.58 316.27 34.08 320.00 36.00C323.73 37.92 328.55 41.38 333.00 44.00C337.45 46.62 343.03 51.50 346.70 51.75C350.37 52.00 352.12 47.50 355.00 45.50C357.88 43.50 361.17 39.75 364.00 39.75C366.83 39.75 369.07 43.42 372.00 45.50C374.93 47.58 378.30 52.08 381.60 52.25C384.90 52.42 388.63 49.50 391.80 46.50C394.97 43.50 397.97 38.33 400.60 34.25C403.23 30.17 405.25 25.50 407.60 22.00C409.95 18.50 412.72 15.33 414.70 13.25C416.68 11.17 418.70 10.12 419.50 9.50" stroke="#ef4660" stroke-width="1.05" fill="none"/>
<path d="M306.00 19.50C306.77 19.33 308.27 18.17 310.60 18.50C312.93 18.83 316.77 21.42 320.00 21.50C323.23 21.58 327.00 19.79 330.00 19.00C333.00 18.21 335.22 17.12 338.00 16.75C340.78 16.38 343.87 17.22 346.70 16.80C349.53 16.38 352.20 15.05 355.00 14.25C357.80 13.45 360.67 11.88 363.50 12.00C366.33 12.12 368.98 13.58 372.00 15.00C375.02 16.42 378.60 19.67 381.60 20.50C384.60 21.33 386.93 21.00 390.00 20.00C393.07 19.00 396.67 16.42 400.00 14.50C403.33 12.58 406.75 10.00 410.00 8.50C413.25 7.00 417.92 6.00 419.50 5.50" stroke="#5c8860" stroke-width="1.05" fill="none"/>
<path d="M306.00 21.00C306.77 20.83 308.27 19.75 310.60 20.00C312.93 20.25 316.77 22.50 320.00 22.50C323.23 22.50 327.00 20.83 330.00 20.00C333.00 19.17 335.22 17.95 338.00 17.50C340.78 17.05 343.87 17.72 346.70 17.30C349.53 16.88 352.20 15.72 355.00 15.00C357.80 14.28 360.67 12.75 363.50 13.00C366.33 13.25 368.98 15.00 372.00 16.50C375.02 18.00 378.60 21.17 381.60 22.00C384.60 22.83 386.93 22.50 390.00 21.50C393.07 20.50 396.67 17.92 400.00 16.00C403.33 14.08 406.75 11.50 410.00 10.00C413.25 8.50 417.92 7.50 419.50 7.00" stroke="#f2d07c" stroke-width="1.4" fill="none"/>
<path d="M306.00 22.50C306.77 22.33 308.27 21.33 310.60 21.50C312.93 21.67 316.77 23.58 320.00 23.50C323.23 23.42 327.00 21.88 330.00 21.00C333.00 20.12 335.22 18.78 338.00 18.25C340.78 17.72 343.87 18.22 346.70 17.80C349.53 17.38 352.20 16.38 355.00 15.75C357.80 15.12 360.67 13.62 363.50 14.00C366.33 14.38 368.98 16.42 372.00 18.00C375.02 19.58 378.60 22.67 381.60 23.50C384.60 24.33 386.93 24.00 390.00 23.00C393.07 22.00 396.67 19.42 400.00 17.50C403.33 15.58 406.75 13.00 410.00 11.50C413.25 10.00 417.92 9.00 419.50 8.50" stroke="#ef4660" stroke-width="1.05" fill="none"/>
<path d="M327.00 -1.00C327.45 -0.42 328.53 1.17 329.70 2.50C330.87 3.83 332.45 5.12 334.00 7.00C335.55 8.88 336.88 12.03 339.00 13.75C341.12 15.47 344.03 16.38 346.70 17.30C349.37 18.22 352.28 18.63 355.00 19.25C357.72 19.87 360.17 20.42 363.00 21.00C365.83 21.58 368.90 22.17 372.00 22.75C375.10 23.33 378.27 25.04 381.60 24.50C384.93 23.96 388.10 21.67 392.00 19.50C395.90 17.33 400.42 13.25 405.00 11.50C409.58 9.75 417.08 9.42 419.50 9.00" stroke="#5c8860" stroke-width="1.05" fill="none"/>
<path d="M327.00 0.00C327.45 0.58 328.53 2.17 329.70 3.50C330.87 4.83 332.45 6.17 334.00 8.00C335.55 9.83 336.88 12.95 339.00 14.50C341.12 16.05 344.03 16.38 346.70 17.30C349.37 18.22 352.28 19.22 355.00 20.00C357.72 20.78 360.17 21.33 363.00 22.00C365.83 22.67 368.90 23.33 372.00 24.00C375.10 24.67 378.27 26.50 381.60 26.00C384.93 25.50 388.10 23.17 392.00 21.00C395.90 18.83 400.42 14.75 405.00 13.00C409.58 11.25 417.08 10.92 419.50 10.50" stroke="#f2d07c" stroke-width="1.4" fill="none"/>
<path d="M327.00 1.00C327.45 1.58 328.53 3.17 329.70 4.50C330.87 5.83 332.45 7.21 334.00 9.00C335.55 10.79 336.88 13.87 339.00 15.25C341.12 16.63 344.03 16.38 346.70 17.30C349.37 18.22 352.28 19.80 355.00 20.75C357.72 21.70 360.17 22.25 363.00 23.00C365.83 23.75 368.90 24.50 372.00 25.25C375.10 26.00 378.27 27.96 381.60 27.50C384.93 27.04 388.10 24.67 392.00 22.50C395.90 20.33 400.42 16.25 405.00 14.50C409.58 12.75 417.08 12.42 419.50 12.00" stroke="#ef4660" stroke-width="1.05" fill="none"/>
<path d="M350.00 -0.50C351.33 0.33 355.50 2.83 358.00 4.50C360.50 6.17 362.67 7.96 365.00 9.50C367.33 11.04 369.23 12.58 372.00 13.75C374.77 14.92 378.27 16.38 381.60 16.50C384.93 16.62 388.10 15.83 392.00 14.50C395.90 13.17 401.17 10.25 405.00 8.50C408.83 6.75 412.58 4.92 415.00 4.00C417.42 3.08 418.75 3.17 419.50 3.00" stroke="#5c8860" stroke-width="1.05" fill="none"/>
<path d="M350.00 1.00C351.33 1.83 355.50 4.33 358.00 6.00C360.50 7.67 362.67 9.42 365.00 11.00C367.33 12.58 369.23 14.25 372.00 15.50C374.77 16.75 378.27 18.33 381.60 18.50C384.93 18.67 388.10 17.92 392.00 16.50C395.90 15.08 401.17 11.83 405.00 10.00C408.83 8.17 412.58 6.42 415.00 5.50C417.42 4.58 418.75 4.67 419.50 4.50" stroke="#f2d07c" stroke-width="1.4" fill="none"/>
<path d="M350.00 2.50C351.33 3.33 355.50 5.83 358.00 7.50C360.50 9.17 362.67 10.88 365.00 12.50C367.33 14.12 369.23 15.92 372.00 17.25C374.77 18.58 378.27 20.29 381.60 20.50C384.93 20.71 388.10 20.00 392.00 18.50C395.90 17.00 401.17 13.42 405.00 11.50C408.83 9.58 412.58 7.92 415.00 7.00C417.42 6.08 418.75 6.17 419.50 6.00" stroke="#ef4660" stroke-width="1.05" fill="none"/>
<path d="M247.20 4.55C248.00 4.92 250.53 6.35 252.00 6.75C253.47 7.15 254.67 7.28 256.00 6.95C257.33 6.62 258.83 5.62 260.00 4.75C261.17 3.88 262.50 2.25 263.00 1.75" stroke="#5c8860" stroke-width="1.05" fill="none"/>
<path d="M247.20 4.80C248.00 5.17 250.53 6.60 252.00 7.00C253.47 7.40 254.67 7.53 256.00 7.20C257.33 6.87 258.83 5.87 260.00 5.00C261.17 4.13 262.50 2.50 263.00 2.00" stroke="#f2d07c" stroke-width="1.4" fill="none"/>
<path d="M247.20 5.05C248.00 5.42 250.53 6.85 252.00 7.25C253.47 7.65 254.67 7.78 256.00 7.45C257.33 7.12 258.83 6.12 260.00 5.25C261.17 4.38 262.50 2.75 263.00 2.25" stroke="#ef4660" stroke-width="1.05" fill="none"/>
<path d="M353.00 0.00C354.17 0.79 357.50 2.83 360.00 4.75C362.50 6.67 364.40 8.67 368.00 11.50C371.60 14.33 377.60 20.21 381.60 21.75C385.60 23.29 388.60 21.79 392.00 20.75C395.40 19.71 398.67 17.38 402.00 15.50C405.33 13.62 409.08 10.83 412.00 9.50C414.92 8.17 418.25 7.83 419.50 7.50" stroke="#5c8860" stroke-width="1.05" fill="none"/>
<path d="M353.00 1.00C354.17 1.83 357.50 4.00 360.00 6.00C362.50 8.00 364.40 10.08 368.00 13.00C371.60 15.92 377.60 21.92 381.60 23.50C385.60 25.08 388.60 23.58 392.00 22.50C395.40 21.42 398.67 18.92 402.00 17.00C405.33 15.08 409.08 12.33 412.00 11.00C414.92 9.67 418.25 9.33 419.50 9.00" stroke="#f2d07c" stroke-width="1.4" fill="none"/>
<path d="M353.00 2.00C354.17 2.88 357.50 5.17 360.00 7.25C362.50 9.33 364.40 11.50 368.00 14.50C371.60 17.50 377.60 23.62 381.60 25.25C385.60 26.88 388.60 25.38 392.00 24.25C395.40 23.12 398.67 20.46 402.00 18.50C405.33 16.54 409.08 13.83 412.00 12.50C414.92 11.17 418.25 10.83 419.50 10.50" stroke="#ef4660" stroke-width="1.05" fill="none"/>
<path d="M360.00 0.00C361.00 0.96 363.83 3.33 366.00 5.75C368.17 8.17 370.40 11.17 373.00 14.50C375.60 17.83 378.43 23.96 381.60 25.75C384.77 27.54 388.60 26.29 392.00 25.25C395.40 24.21 398.67 21.54 402.00 19.50C405.33 17.46 409.08 14.50 412.00 13.00C414.92 11.50 418.25 10.92 419.50 10.50" stroke="#5c8860" stroke-width="1.05" fill="none"/>
<path d="M360.00 1.00C361.00 2.00 363.83 4.50 366.00 7.00C368.17 9.50 370.40 12.58 373.00 16.00C375.60 19.42 378.43 25.67 381.60 27.50C384.77 29.33 388.60 28.08 392.00 27.00C395.40 25.92 398.67 23.08 402.00 21.00C405.33 18.92 409.08 16.00 412.00 14.50C414.92 13.00 418.25 12.42 419.50 12.00" stroke="#f2d07c" stroke-width="1.4" fill="none"/>
<path d="M360.00 2.00C361.00 3.04 363.83 5.67 366.00 8.25C368.17 10.83 370.40 14.00 373.00 17.50C375.60 21.00 378.43 27.38 381.60 29.25C384.77 31.12 388.60 29.88 392.00 28.75C395.40 27.62 398.67 24.62 402.00 22.50C405.33 20.38 409.08 17.50 412.00 16.00C414.92 14.50 418.25 13.92 419.50 13.50" stroke="#ef4660" stroke-width="1.05" fill="none"/>
<path d="M296.00 0.50C297.17 1.50 300.57 4.83 303.00 6.50C305.43 8.17 308.10 9.17 310.60 10.50C313.10 11.83 315.43 14.17 318.00 14.50C320.57 14.83 323.33 13.50 326.00 12.50C328.67 11.50 331.67 9.67 334.00 8.50C336.33 7.33 337.88 6.17 340.00 5.50C342.12 4.83 344.20 4.33 346.70 4.50C349.20 4.67 352.12 5.50 355.00 6.50C357.88 7.50 361.17 9.00 364.00 10.50C366.83 12.00 369.07 14.00 372.00 15.50C374.93 17.00 378.27 19.33 381.60 19.50C384.93 19.67 388.10 18.33 392.00 16.50C395.90 14.67 400.42 10.67 405.00 8.50C409.58 6.33 417.08 4.33 419.50 3.50" stroke="#5c8860" stroke-width="1.05" fill="none"/>
<path d="M296.00 2.00C297.17 3.00 300.57 6.33 303.00 8.00C305.43 9.67 308.10 10.67 310.60 12.00C313.10 13.33 315.43 15.67 318.00 16.00C320.57 16.33 323.33 15.00 326.00 14.00C328.67 13.00 331.67 11.17 334.00 10.00C336.33 8.83 337.88 7.67 340.00 7.00C342.12 6.33 344.20 5.83 346.70 6.00C349.20 6.17 352.12 7.00 355.00 8.00C357.88 9.00 361.17 10.50 364.00 12.00C366.83 13.50 369.07 15.50 372.00 17.00C374.93 18.50 378.27 20.83 381.60 21.00C384.93 21.17 388.10 19.83 392.00 18.00C395.90 16.17 400.42 12.17 405.00 10.00C409.58 7.83 417.08 5.83 419.50 5.00" stroke="#f2d07c" stroke-width="1.4" fill="none"/>
<path d="M296.00 3.50C297.17 4.50 300.57 7.83 303.00 9.50C305.43 11.17 308.10 12.17 310.60 13.50C313.10 14.83 315.43 17.17 318.00 17.50C320.57 17.83 323.33 16.50 326.00 15.50C328.67 14.50 331.67 12.67 334.00 11.50C336.33 10.33 337.88 9.17 340.00 8.50C342.12 7.83 344.20 7.33 346.70 7.50C349.20 7.67 352.12 8.50 355.00 9.50C357.88 10.50 361.17 12.00 364.00 13.50C366.83 15.00 369.07 17.00 372.00 18.50C374.93 20.00 378.27 22.33 381.60 22.50C384.93 22.67 388.10 21.33 392.00 19.50C395.90 17.67 400.42 13.67 405.00 11.50C409.58 9.33 417.08 7.33 419.50 6.50" stroke="#ef4660" stroke-width="1.05" fill="none"/>
<path d="M247.20 105.30C248.33 105.43 251.70 105.67 254.00 106.10C256.30 106.52 258.50 106.88 261.00 107.85C263.50 108.82 266.28 110.14 269.00 111.90C271.72 113.66 274.57 116.52 277.30 118.40C280.03 120.28 282.70 122.75 285.40 123.20C288.10 123.65 290.82 122.02 293.50 121.10C296.18 120.18 298.65 118.79 301.50 117.70C304.35 116.61 307.52 116.29 310.60 114.55C313.68 112.81 316.27 110.13 320.00 107.25C323.73 104.37 328.55 100.54 333.00 97.25C337.45 93.96 343.03 88.29 346.70 87.50C350.37 86.71 351.95 90.04 355.00 92.50C358.05 94.96 362.00 99.54 365.00 102.25C368.00 104.96 370.23 107.12 373.00 108.75C375.77 110.38 378.77 111.71 381.60 112.00C384.43 112.29 386.93 111.33 390.00 110.50C393.07 109.67 396.67 107.83 400.00 107.00C403.33 106.17 406.75 105.78 410.00 105.50C413.25 105.22 417.92 105.33 419.50 105.30" stroke="#5c8860" stroke-width="1.05" fill="none"/>
<path d="M247.20 103.70C248.33 103.85 251.70 104.12 254.00 104.60C256.30 105.08 258.50 105.53 261.00 106.60C263.50 107.67 266.28 109.10 269.00 111.00C271.72 112.90 274.57 115.97 277.30 118.00C280.03 120.03 282.70 122.62 285.40 123.20C288.10 123.78 290.82 122.32 293.50 121.50C296.18 120.68 298.65 119.33 301.50 118.30C304.35 117.27 307.52 117.02 310.60 115.30C313.68 113.58 316.27 110.88 320.00 108.00C323.73 105.12 328.55 101.33 333.00 98.00C337.45 94.67 343.03 88.83 346.70 88.00C350.37 87.17 351.95 90.50 355.00 93.00C358.05 95.50 362.00 100.25 365.00 103.00C368.00 105.75 370.23 107.92 373.00 109.50C375.77 111.08 378.77 112.42 381.60 112.50C384.43 112.58 386.93 111.08 390.00 110.00C393.07 108.92 396.67 107.00 400.00 106.00C403.33 105.00 406.75 104.38 410.00 104.00C413.25 103.62 417.92 103.75 419.50 103.70" stroke="#f2d07c" stroke-width="1.4" fill="none"/>
<path d="M247.20 102.10C248.33 102.27 251.70 102.56 254.00 103.10C256.30 103.64 258.50 104.18 261.00 105.35C263.50 106.52 266.28 108.06 269.00 110.10C271.72 112.14 274.57 115.42 277.30 117.60C280.03 119.78 282.70 122.48 285.40 123.20C288.10 123.92 290.82 122.62 293.50 121.90C296.18 121.18 298.65 119.88 301.50 118.90C304.35 117.92 307.52 117.74 310.60 116.05C313.68 114.36 316.27 111.63 320.00 108.75C323.73 105.87 328.55 102.12 333.00 98.75C337.45 95.38 343.03 89.38 346.70 88.50C350.37 87.62 351.95 90.96 355.00 93.50C358.05 96.04 362.00 100.96 365.00 103.75C368.00 106.54 370.23 108.71 373.00 110.25C375.77 111.79 378.77 113.12 381.60 113.00C384.43 112.88 386.93 110.83 390.00 109.50C393.07 108.17 396.67 106.17 400.00 105.00C403.33 103.83 406.75 102.98 410.00 102.50C413.25 102.02 417.92 102.17 419.50 102.10" stroke="#ef4660" stroke-width="1.05" fill="none"/>
<path d="M310.60 118.05C312.17 117.08 316.27 114.38 320.00 112.25C323.73 110.12 328.55 107.33 333.00 105.25C337.45 103.17 343.03 99.92 346.70 99.80C350.37 99.67 351.95 102.59 355.00 104.50C358.05 106.41 362.00 109.29 365.00 111.25C368.00 113.21 370.23 115.04 373.00 116.25C375.77 117.46 378.77 118.46 381.60 118.50C384.43 118.54 386.93 117.75 390.00 116.50C393.07 115.25 396.67 112.50 400.00 111.00C403.33 109.50 406.75 108.28 410.00 107.50C413.25 106.72 417.92 106.50 419.50 106.30" stroke="#5c8860" stroke-width="1.05" fill="none"/>
<path d="M310.60 118.80C312.17 117.83 316.27 115.13 320.00 113.00C323.73 110.87 328.55 108.12 333.00 106.00C337.45 103.88 343.03 100.47 346.70 100.30C350.37 100.13 351.95 103.05 355.00 105.00C358.05 106.95 362.00 110.00 365.00 112.00C368.00 114.00 370.23 115.83 373.00 117.00C375.77 118.17 378.77 119.17 381.60 119.00C384.43 118.83 386.93 117.50 390.00 116.00C393.07 114.50 396.67 111.67 400.00 110.00C403.33 108.33 406.75 106.88 410.00 106.00C413.25 105.12 417.92 104.92 419.50 104.70" stroke="#f2d07c" stroke-width="1.4" fill="none"/>
<path d="M310.60 119.55C312.17 118.58 316.27 115.88 320.00 113.75C323.73 111.62 328.55 108.91 333.00 106.75C337.45 104.59 343.03 101.01 346.70 100.80C350.37 100.59 351.95 103.51 355.00 105.50C358.05 107.49 362.00 110.71 365.00 112.75C368.00 114.79 370.23 116.62 373.00 117.75C375.77 118.88 378.77 119.88 381.60 119.50C384.43 119.12 386.93 117.25 390.00 115.50C393.07 113.75 396.67 110.83 400.00 109.00C403.33 107.17 406.75 105.48 410.00 104.50C413.25 103.52 417.92 103.33 419.50 103.10" stroke="#ef4660" stroke-width="1.05" fill="none"/>
<path d="M247.20 120.35C249.67 121.42 257.12 124.30 262.00 126.75C266.88 129.20 271.83 134.38 276.50 135.05C281.17 135.72 286.08 132.13 290.00 130.75C293.92 129.37 297.17 127.83 300.00 126.75C302.83 125.67 305.23 124.83 307.00 124.25C308.77 123.67 309.43 122.79 310.60 123.25C311.77 123.71 312.77 125.21 314.00 127.00C315.23 128.79 316.75 131.67 318.00 134.00C319.25 136.33 320.92 139.83 321.50 141.00" stroke="#5c8860" stroke-width="1.05" fill="none"/>
<path d="M247.20 121.70C249.67 122.75 257.12 125.65 262.00 128.00C266.88 130.35 271.83 135.22 276.50 135.80C281.17 136.38 286.08 132.88 290.00 131.50C293.92 130.12 297.17 128.58 300.00 127.50C302.83 126.42 305.23 125.58 307.00 125.00C308.77 124.42 309.43 123.50 310.60 124.00C311.77 124.50 312.77 126.17 314.00 128.00C315.23 129.83 316.75 132.67 318.00 135.00C319.25 137.33 320.92 140.83 321.50 142.00" stroke="#f2d07c" stroke-width="1.4" fill="none"/>
<path d="M247.20 123.05C249.67 124.08 257.12 127.00 262.00 129.25C266.88 131.50 271.83 136.05 276.50 136.55C281.17 137.05 286.08 133.63 290.00 132.25C293.92 130.87 297.17 129.33 300.00 128.25C302.83 127.17 305.23 126.33 307.00 125.75C308.77 125.17 309.43 124.21 310.60 124.75C311.77 125.29 312.77 127.12 314.00 129.00C315.23 130.88 316.75 133.67 318.00 136.00C319.25 138.33 320.92 141.83 321.50 143.00" stroke="#ef4660" stroke-width="1.05" fill="none"/>
<path d="M367.00 142.00C367.83 140.83 370.17 137.33 372.00 135.00C373.83 132.67 375.67 130.00 378.00 128.00C380.33 126.00 382.33 124.12 386.00 123.00C389.67 121.88 394.42 121.69 400.00 121.25C405.58 120.81 416.25 120.50 419.50 120.35" stroke="#5c8860" stroke-width="1.05" fill="none"/>
<path d="M367.00 143.00C367.83 141.83 370.17 138.33 372.00 136.00C373.83 133.67 375.67 131.00 378.00 129.00C380.33 127.00 382.33 125.08 386.00 124.00C389.67 122.92 394.42 122.88 400.00 122.50C405.58 122.12 416.25 121.83 419.50 121.70" stroke="#f2d07c" stroke-width="1.4" fill="none"/>
<path d="M367.00 144.00C367.83 142.83 370.17 139.33 372.00 137.00C373.83 134.67 375.67 132.00 378.00 130.00C380.33 128.00 382.33 126.04 386.00 125.00C389.67 123.96 394.42 124.08 400.00 123.75C405.58 123.42 416.25 123.17 419.50 123.05" stroke="#ef4660" stroke-width="1.05" fill="none"/>
<path d="M371.00 142.00C371.83 141.17 373.67 138.83 376.00 137.00C378.33 135.17 381.58 132.75 385.00 131.00C388.42 129.25 392.33 127.75 396.50 126.50C400.67 125.25 406.17 124.08 410.00 123.50C413.83 122.92 417.92 123.08 419.50 123.00" stroke="#5c8860" stroke-width="1.05" fill="none"/>
<path d="M371.00 143.00C371.83 142.17 373.67 139.83 376.00 138.00C378.33 136.17 381.58 133.75 385.00 132.00C388.42 130.25 392.33 128.75 396.50 127.50C400.67 126.25 406.17 125.08 410.00 124.50C413.83 123.92 417.92 124.08 419.50 124.00" stroke="#f2d07c" stroke-width="1.4" fill="none"/>
<path d="M371.00 144.00C371.83 143.17 373.67 140.83 376.00 139.00C378.33 137.17 381.58 134.75 385.00 133.00C388.42 131.25 392.33 129.75 396.50 128.50C400.67 127.25 406.17 126.08 410.00 125.50C413.83 124.92 417.92 125.08 419.50 125.00" stroke="#ef4660" stroke-width="1.05" fill="none"/>
<path d="M247.20 132.35C248.67 132.82 253.53 134.15 256.00 135.15C258.47 136.15 260.33 137.15 262.00 138.35C263.67 139.55 265.33 141.68 266.00 142.35" stroke="#5c8860" stroke-width="1.05" fill="none"/>
<path d="M247.20 133.00C248.67 133.47 253.53 134.80 256.00 135.80C258.47 136.80 260.33 137.80 262.00 139.00C263.67 140.20 265.33 142.33 266.00 143.00" stroke="#f2d07c" stroke-width="1.4" fill="none"/>
<path d="M247.20 133.65C248.67 134.12 253.53 135.45 256.00 136.45C258.47 137.45 260.33 138.45 262.00 139.65C263.67 140.85 265.33 142.98 266.00 143.65" stroke="#ef4660" stroke-width="1.05" fill="none"/>
<path d="M400.00 142.00C400.83 141.00 403.00 137.50 405.00 136.00C407.00 134.50 409.58 133.56 412.00 133.00C414.42 132.44 418.25 132.71 419.50 132.65" stroke="#5c8860" stroke-width="1.05" fill="none"/>
<path d="M400.00 143.00C400.83 142.00 403.00 138.50 405.00 137.00C407.00 135.50 409.58 134.62 412.00 134.00C414.42 133.38 418.25 133.42 419.50 133.30" stroke="#f2d07c" stroke-width="1.4" fill="none"/>
<path d="M400.00 144.00C400.83 143.00 403.00 139.50 405.00 138.00C407.00 136.50 409.58 135.68 412.00 135.00C414.42 134.32 418.25 134.12 419.50 133.95" stroke="#ef4660" stroke-width="1.05" fill="none"/>
<path d="M385.00 143.40C385.92 142.88 388.67 140.30 390.50 140.30C392.33 140.30 395.08 142.88 396.00 143.40" stroke="#5c8860" stroke-width="1.05" fill="none"/>
<path d="M385.00 144.00C385.92 143.48 388.67 140.90 390.50 140.90C392.33 140.90 395.08 143.48 396.00 144.00" stroke="#f2d07c" stroke-width="1.4" fill="none"/>
<path d="M385.00 144.60C385.92 144.08 388.67 141.50 390.50 141.50C392.33 141.50 395.08 144.08 396.00 144.60" stroke="#ef4660" stroke-width="1.05" fill="none"/>
<path d="M308.00 128.00C308.43 127.50 309.77 125.00 310.60 125.00C311.43 125.00 311.93 126.17 313.00 128.00C314.07 129.83 315.83 133.67 317.00 136.00C318.17 138.33 319.50 141.00 320.00 142.00" stroke="#5c8860" stroke-width="1.05" fill="none"/>
<path d="M308.00 129.00C308.43 128.50 309.77 126.00 310.60 126.00C311.43 126.00 311.93 127.17 313.00 129.00C314.07 130.83 315.83 134.67 317.00 137.00C318.17 139.33 319.50 142.00 320.00 143.00" stroke="#f2d07c" stroke-width="1.4" fill="none"/>
<path d="M308.00 130.00C308.43 129.50 309.77 127.00 310.60 127.00C311.43 127.00 311.93 128.17 313.00 130.00C314.07 131.83 315.83 135.67 317.00 138.00C318.17 140.33 319.50 143.00 320.00 144.00" stroke="#ef4660" stroke-width="1.05" fill="none"/>
</g>
<line x1="251.2" y1="58.4" x2="270.7" y2="58.4" stroke="#5c8860" stroke-width="1"/>
<line x1="251.2" y1="69" x2="270.7" y2="69" stroke="#f2d07c" stroke-width="1.4"/>
<line x1="251.2" y1="79.6" x2="270.7" y2="79.6" stroke="#ef4660" stroke-width="1"/>
<text x="272.8" y="61.4" font-size="8.3" fill="#222">-1%</text>
<text x="272.8" y="72" font-size="8.3" fill="#222">0</text>
<text x="272.8" y="82.6" font-size="8.3" fill="#222">1%</text>
<rect x="247.2" y="3.5" width="172.3" height="138.2" fill="none" stroke="#1a1a1a" stroke-width="1.1"/>
<line x1="244.8" y1="3.50" x2="247.2" y2="3.50" stroke="#1a1a1a" stroke-width="1"/>
<text transform="translate(242.6,6.60) scale(1,1.15)" font-size="7.6" fill="#222" text-anchor="end">3</text>
<line x1="244.8" y1="31.14" x2="247.2" y2="31.14" stroke="#1a1a1a" stroke-width="1"/>
<text transform="translate(242.6,34.24) scale(1,1.15)" font-size="7.6" fill="#222" text-anchor="end">2</text>
<line x1="244.8" y1="58.78" x2="247.2" y2="58.78" stroke="#1a1a1a" stroke-width="1"/>
<text transform="translate(242.6,61.88) scale(1,1.15)" font-size="7.6" fill="#222" text-anchor="end">1</text>
<line x1="244.8" y1="86.42" x2="247.2" y2="86.42" stroke="#1a1a1a" stroke-width="1"/>
<text transform="translate(242.6,89.52) scale(1,1.15)" font-size="7.6" fill="#222" text-anchor="end">0</text>
<line x1="244.8" y1="114.06" x2="247.2" y2="114.06" stroke="#1a1a1a" stroke-width="1"/>
<text transform="translate(242.6,117.16) scale(1,1.15)" font-size="7.6" fill="#222" text-anchor="end">-1</text>
<line x1="244.8" y1="141.70" x2="247.2" y2="141.70" stroke="#1a1a1a" stroke-width="1"/>
<text transform="translate(242.6,144.80) scale(1,1.15)" font-size="7.6" fill="#222" text-anchor="end">-2</text>
<line x1="245.7" y1="17.32" x2="247.2" y2="17.32" stroke="#222" stroke-width="0.7"/>
<line x1="245.7" y1="44.96" x2="247.2" y2="44.96" stroke="#222" stroke-width="0.7"/>
<line x1="245.7" y1="72.60" x2="247.2" y2="72.60" stroke="#222" stroke-width="0.7"/>
<line x1="245.7" y1="100.24" x2="247.2" y2="100.24" stroke="#222" stroke-width="0.7"/>
<line x1="245.7" y1="127.88" x2="247.2" y2="127.88" stroke="#222" stroke-width="0.7"/>
<text transform="translate(247.2,152.6) scale(1,1.15)" font-size="7.6" fill="#222" text-anchor="middle">Γ</text>
<text transform="translate(310.6,152.6) scale(1,1.15)" font-size="7.6" fill="#222" text-anchor="middle">M</text>
<text transform="translate(346.7,152.6) scale(1,1.15)" font-size="7.6" fill="#222" text-anchor="middle">K</text>
<text transform="translate(381.6,152.6) scale(1,1.15)" font-size="7.6" fill="#222" text-anchor="middle">Q</text>
<text transform="translate(419.5,152.6) scale(1,1.15)" font-size="7.6" fill="#222" text-anchor="middle">Γ</text>
<text transform="translate(227.4,70.6) rotate(-90)" font-size="8.9" fill="#222" text-anchor="middle">Energy [eV]</text>
<text x="215.2" y="181.2" font-size="9" font-weight="bold" fill="#111">(d)</text>
<rect x="246.5" y="174.2" width="173.5" height="138.0" fill="url(#bgd)"/>
<line x1="255.10" y1="183.67" x2="411.90" y2="300.29" stroke="#5c6fe6" stroke-width="1.35" stroke-linecap="round" stroke-dasharray="0.1 2.65"/>
<circle cx="255.10" cy="183.67" r="2.95" fill="url(#sph)"/>
<circle cx="274.70" cy="199.01" r="2.95" fill="url(#sph)"/>
<circle cx="294.30" cy="214.03" r="2.95" fill="url(#sph)"/>
<circle cx="309.98" cy="225.99" r="2.95" fill="url(#sph)"/>
<circle cx="325.66" cy="237.63" r="2.95" fill="url(#sph)"/>
<circle cx="329.58" cy="240.62" r="2.95" fill="url(#sph)"/>
<circle cx="333.50" cy="243.50" r="2.95" fill="url(#sph)"/>
<circle cx="337.42" cy="246.27" r="2.95" fill="url(#sph)"/>
<circle cx="341.34" cy="249.48" r="2.95" fill="url(#sph)"/>
<circle cx="357.02" cy="260.78" r="2.95" fill="url(#sph)"/>
<circle cx="372.70" cy="271.98" r="2.95" fill="url(#sph)"/>
<circle cx="392.30" cy="286.16" r="2.95" fill="url(#sph)"/>
<circle cx="411.90" cy="300.29" r="2.95" fill="url(#sph)"/>
<rect x="246.5" y="174.2" width="173.5" height="138.0" fill="none" stroke="#1a1a1a" stroke-width="1.1"/>
<line x1="244.1" y1="188.10" x2="246.5" y2="188.10" stroke="#1a1a1a" stroke-width="1"/>
<text transform="translate(242.4,191.30) scale(1,1.15)" font-size="7.9" fill="#222" text-anchor="end">100</text>
<line x1="244.1" y1="215.80" x2="246.5" y2="215.80" stroke="#1a1a1a" stroke-width="1"/>
<text transform="translate(242.4,219.00) scale(1,1.15)" font-size="7.9" fill="#222" text-anchor="end">50</text>
<line x1="244.1" y1="243.50" x2="246.5" y2="243.50" stroke="#1a1a1a" stroke-width="1"/>
<text transform="translate(242.4,246.70) scale(1,1.15)" font-size="7.9" fill="#222" text-anchor="end">0</text>
<line x1="244.1" y1="271.20" x2="246.5" y2="271.20" stroke="#1a1a1a" stroke-width="1"/>
<text transform="translate(242.4,274.40) scale(1,1.15)" font-size="7.9" fill="#222" text-anchor="end">-50</text>
<line x1="244.1" y1="298.90" x2="246.5" y2="298.90" stroke="#1a1a1a" stroke-width="1"/>
<text transform="translate(242.4,302.10) scale(1,1.15)" font-size="7.9" fill="#222" text-anchor="end">-100</text>
<line x1="245" y1="201.95" x2="246.5" y2="201.95" stroke="#222" stroke-width="0.7"/>
<line x1="245" y1="229.65" x2="246.5" y2="229.65" stroke="#222" stroke-width="0.7"/>
<line x1="245" y1="257.35" x2="246.5" y2="257.35" stroke="#222" stroke-width="0.7"/>
<line x1="245" y1="285.05" x2="246.5" y2="285.05" stroke="#222" stroke-width="0.7"/>
<line x1="255.10" y1="312.2" x2="255.10" y2="314.6" stroke="#1a1a1a" stroke-width="1"/>
<text transform="translate(255.10,324.2) scale(1,1.15)" font-size="7.9" fill="#222" text-anchor="middle">-1.0</text>
<line x1="294.30" y1="312.2" x2="294.30" y2="314.6" stroke="#1a1a1a" stroke-width="1"/>
<text transform="translate(294.30,324.2) scale(1,1.15)" font-size="7.9" fill="#222" text-anchor="middle">-0.5</text>
<line x1="333.50" y1="312.2" x2="333.50" y2="314.6" stroke="#1a1a1a" stroke-width="1"/>
<text transform="translate(333.50,324.2) scale(1,1.15)" font-size="7.9" fill="#222" text-anchor="middle">0.0</text>
<line x1="372.70" y1="312.2" x2="372.70" y2="314.6" stroke="#1a1a1a" stroke-width="1"/>
<text transform="translate(372.70,324.2) scale(1,1.15)" font-size="7.9" fill="#222" text-anchor="middle">0.5</text>
<line x1="411.90" y1="312.2" x2="411.90" y2="314.6" stroke="#1a1a1a" stroke-width="1"/>
<text transform="translate(411.90,324.2) scale(1,1.15)" font-size="7.9" fill="#222" text-anchor="middle">1.0</text>
<line x1="274.70" y1="312.2" x2="274.70" y2="313.7" stroke="#222" stroke-width="0.7"/>
<line x1="313.90" y1="312.2" x2="313.90" y2="313.7" stroke="#222" stroke-width="0.7"/>
<line x1="353.10" y1="312.2" x2="353.10" y2="313.7" stroke="#222" stroke-width="0.7"/>
<line x1="392.30" y1="312.2" x2="392.30" y2="313.7" stroke="#222" stroke-width="0.7"/>
<text x="333.7" y="338" font-size="8.6" fill="#222" text-anchor="middle">Strain [%]</text>
<text transform="translate(222.3,243.4) rotate(-90)" font-size="8.6" fill="#222" text-anchor="middle">Energy [meV]</text>
<defs>
<radialGradient id="gR"><stop offset="0" stop-color="#e8363a" stop-opacity="1"/><stop offset="0.45" stop-color="#ee5458" stop-opacity="0.7"/><stop offset="1" stop-color="#f6a0a0" stop-opacity="0"/></radialGradient>
<radialGradient id="gB"><stop offset="0" stop-color="#2c44a8" stop-opacity="1"/><stop offset="0.45" stop-color="#4a60b8" stop-opacity="0.7"/><stop offset="1" stop-color="#a0b0e0" stop-opacity="0"/></radialGradient>
<linearGradient id="hR" x1="0" y1="0" x2="0" y2="1"><stop offset="0" stop-color="#e52f33" stop-opacity="1"/><stop offset="0.35" stop-color="#ee6266" stop-opacity="0.75"/><stop offset="1" stop-color="#f7b0b0" stop-opacity="0"/></linearGradient>
<filter id="bl12" x="-20%" y="-50%" width="140%" height="200%"><feGaussianBlur stdDeviation="1.1"/></filter>
<filter id="bl05" x="-20%" y="-50%" width="140%" height="200%"><feGaussianBlur stdDeviation="0.6"/></filter>
<filter id="bl1" x="-20%" y="-50%" width="140%" height="200%"><feGaussianBlur stdDeviation="0.6"/></filter>
</defs>
<text x="451.8" y="8.8" font-size="9" font-weight="bold" fill="#111">(e)</text>
<circle cx="494.8" cy="17.5" r="3.8" fill="url(#phon)"/>
<text x="507.4" y="21.1" font-size="8.8" fill="#222">Phonon</text>
<circle cx="565.1" cy="17.3" r="2.9" fill="url(#exk)"/>
<circle cx="571.0" cy="18.1" r="3.1" fill="url(#exr)"/>
<circle cx="564.8" cy="17.3" r="0.8" fill="#fff" opacity="0.8"/>
<circle cx="570.7" cy="18.1" r="0.8" fill="#fff" opacity="0.8"/>
<text x="582" y="21.3" font-size="8.8" fill="#222">Exciton</text>
<text x="558.6" y="134.2" font-size="8.9" fill="#222" text-anchor="middle">High Temperature</text>
<path d="M446 94 L520 88 L600 90 L683 100 L620 110 L554 121 Z" fill="#f9dfe2" opacity="0.55" filter="url(#bl2)"/>
<path d="M445 79 L510 62 L565 57 L640 68 L683 87 L620 96 L554 106 Z" fill="#f9dfe2" opacity="0.55" filter="url(#bl2)"/>
<ellipse cx="468.7" cy="96.2" rx="30.0" ry="5.7" fill="url(#gR)" opacity="0.85" transform="rotate(4.0 468.7 96.2)"/>
<ellipse cx="498.0" cy="103.5" rx="20.0" ry="5.7" fill="url(#gR)" opacity="0.60" transform="rotate(10.0 498.0 103.5)"/>
<ellipse cx="555.0" cy="116.5" rx="35.0" ry="6.8" fill="url(#gR)" opacity="0.75" transform="rotate(2.0 555.0 116.5)"/>
<ellipse cx="576.0" cy="113.0" rx="17.5" ry="5.4" fill="url(#gR)" opacity="0.60" transform="rotate(-4.0 576.0 113.0)"/>
<ellipse cx="606.0" cy="104.0" rx="27.5" ry="8.1" fill="url(#gR)" opacity="0.65" transform="rotate(-8.0 606.0 104.0)"/>
<ellipse cx="636.0" cy="93.5" rx="27.5" ry="5.4" fill="url(#gB)" opacity="0.85" transform="rotate(-5.0 636.0 93.5)"/>
<ellipse cx="662.0" cy="96.5" rx="27.5" ry="6.1" fill="url(#gB)" opacity="0.30" transform="rotate(0.0 662.0 96.5)"/>
<ellipse cx="530.0" cy="106.0" rx="22.5" ry="4.7" fill="url(#gR)" opacity="0.35" transform="rotate(12.0 530.0 106.0)"/>
<path d="M475 89.3 L554.7 106.3 L600 100.5 L640 95" fill="none" stroke="#3a50b8" stroke-width="2" opacity="0.45" filter="url(#bl12)"/>
<linearGradient id="hg1" gradientUnits="userSpaceOnUse" x1="0" y1="59.0" x2="0" y2="67.0"><stop offset="0" stop-color="#e52f33" stop-opacity="1"/><stop offset="0.3" stop-color="#ec5a5e" stop-opacity="0.75"/><stop offset="1" stop-color="#f7b0b0" stop-opacity="0"/></linearGradient>
<linearGradient id="xhg1" gradientUnits="userSpaceOnUse" x1="508.0" y1="0" x2="625.0" y2="0"><stop offset="0" stop-color="#000"/><stop offset="0.22" stop-color="#fff"/><stop offset="0.78" stop-color="#fff"/><stop offset="1" stop-color="#000"/></linearGradient>
<mask id="mhg1" maskUnits="userSpaceOnUse" x="505.0" y="56.0" width="123.0" height="24.0"><rect x="505.0" y="56.0" width="123.0" height="24.0" fill="url(#xhg1)"/></mask>
<g mask="url(#mhg1)"><path d="M508.00 69.00C511.83 68.00 524.00 64.17 531.00 63.00C538.00 61.83 544.00 62.67 550.00 62.00C556.00 61.33 561.17 59.25 567.00 59.00C572.83 58.75 579.50 59.75 585.00 60.50C590.50 61.25 593.33 62.17 600.00 63.50C606.67 64.83 620.83 67.67 625.00 68.50L625.00 76.50C620.83 75.67 606.67 72.83 600.00 71.50C593.33 70.17 590.50 69.25 585.00 68.50C579.50 67.75 572.83 66.75 567.00 67.00C561.17 67.25 556.00 69.33 550.00 70.00C544.00 70.67 538.00 69.83 531.00 71.00C524.00 72.17 511.83 76.00 508.00 77.00Z" fill="url(#hg1)" opacity="1.00" filter="url(#bl1)"/></g>
<ellipse cx="541.0" cy="65.0" rx="18.8" ry="3.5" fill="url(#gR)" opacity="1.00" transform="rotate(-3.0 541.0 65.0)"/>
<ellipse cx="572.0" cy="62.0" rx="18.8" ry="3.2" fill="url(#gR)" opacity="0.95" transform="rotate(0.0 572.0 62.0)"/>
<ellipse cx="466.0" cy="79.2" rx="30.0" ry="5.4" fill="url(#gR)" opacity="0.90" transform="rotate(3.0 466.0 79.2)"/>
<ellipse cx="490.0" cy="84.0" rx="25.0" ry="4.1" fill="url(#gR)" opacity="0.40" transform="rotate(12.0 490.0 84.0)"/>
<ellipse cx="503.0" cy="77.8" rx="32.5" ry="8.1" fill="url(#gB)" opacity="0.90" transform="rotate(6.0 503.0 77.8)"/>
<ellipse cx="531.5" cy="84.0" rx="27.5" ry="7.4" fill="url(#gB)" opacity="0.90" transform="rotate(5.0 531.5 84.0)"/>
<ellipse cx="500.0" cy="87.0" rx="22.5" ry="4.1" fill="url(#gR)" opacity="0.45" transform="rotate(10.0 500.0 87.0)"/>
<ellipse cx="525.0" cy="92.0" rx="27.5" ry="4.7" fill="url(#gR)" opacity="0.40" transform="rotate(8.0 525.0 92.0)"/>
<ellipse cx="562.0" cy="90.5" rx="25.0" ry="4.7" fill="url(#gB)" opacity="0.80" transform="rotate(0.0 562.0 90.5)"/>
<ellipse cx="597.0" cy="82.0" rx="22.5" ry="6.1" fill="url(#gR)" opacity="0.75" transform="rotate(0.0 597.0 82.0)"/>
<ellipse cx="585.0" cy="98.0" rx="27.5" ry="4.7" fill="url(#gR)" opacity="0.55" transform="rotate(-5.0 585.0 98.0)"/>
<ellipse cx="626.0" cy="78.5" rx="30.0" ry="7.4" fill="url(#gB)" opacity="0.95" transform="rotate(0.0 626.0 78.5)"/>
<ellipse cx="658.0" cy="82.0" rx="32.5" ry="8.1" fill="url(#gB)" opacity="0.30" transform="rotate(0.0 658.0 82.0)"/>
<ellipse cx="614.0" cy="76.0" rx="12.5" ry="4.1" fill="url(#gB)" opacity="0.50" transform="rotate(0.0 614.0 76.0)"/>
<ellipse cx="612.0" cy="88.0" rx="25.0" ry="5.4" fill="url(#gR)" opacity="0.50" transform="rotate(5.0 612.0 88.0)"/>
<path d="M570.0 68.3 L560.9 69.1 L569.1 72.1 L559.8 70.9 L560.1 76.2 L556.6 72.3 L552.7 76.5 L553.7 71.5 L548.3 74.7 L551.2 70.1 L540.2 69.5 L551.1 67.5 L545.4 65.1 L551.1 65.9 L548.6 61.3 L554.3 64.4 L555.1 59.3 L557.6 63.7 L562.0 60.1 L560.4 65.5 L566.8 63.9 L560.5 67.4Z" fill="#fff" fill-opacity="0.2" stroke="#111" stroke-width="0.75" stroke-linejoin="miter"/>
<circle cx="494.1" cy="61.2" r="3.6" fill="url(#phon)"/>
<circle cx="549.9" cy="58.2" r="3.6" fill="url(#phon)"/>
<circle cx="533.6" cy="70.8" r="3.6" fill="url(#phon)"/>
<circle cx="551.0" cy="79.3" r="3.6" fill="url(#phon)"/>
<circle cx="573.0" cy="73.4" r="3.6" fill="url(#phon)"/>
<circle cx="575.8" cy="64.9" r="3.6" fill="url(#phon)"/>
<circle cx="618.5" cy="65.1" r="3.6" fill="url(#phon)"/>
<circle cx="478.1" cy="64.7" r="2.9" fill="url(#exk)"/>
<circle cx="472.9" cy="65.4" r="3.1" fill="url(#exr)"/>
<circle cx="477.8" cy="64.7" r="0.8" fill="#fff" opacity="0.8"/>
<circle cx="472.6" cy="65.4" r="0.8" fill="#fff" opacity="0.8"/>
<circle cx="514.6" cy="55.3" r="2.9" fill="url(#exk)"/>
<circle cx="519.5" cy="57.0" r="3.1" fill="url(#exr)"/>
<circle cx="514.3" cy="55.3" r="0.8" fill="#fff" opacity="0.8"/>
<circle cx="519.2" cy="57.0" r="0.8" fill="#fff" opacity="0.8"/>
<circle cx="557.6" cy="49.4" r="2.9" fill="url(#exk)"/>
<circle cx="562.4" cy="50.6" r="3.1" fill="url(#exr)"/>
<circle cx="557.3" cy="49.4" r="0.8" fill="#fff" opacity="0.8"/>
<circle cx="562.1" cy="50.6" r="0.8" fill="#fff" opacity="0.8"/>
<circle cx="511.0" cy="74.1" r="2.9" fill="url(#exk)"/>
<circle cx="516.0" cy="74.8" r="3.1" fill="url(#exr)"/>
<circle cx="510.7" cy="74.1" r="0.8" fill="#fff" opacity="0.8"/>
<circle cx="515.7" cy="74.8" r="0.8" fill="#fff" opacity="0.8"/>
<circle cx="558.8" cy="67.8" r="2.9" fill="url(#exk)"/>
<circle cx="554.1" cy="69.4" r="3.1" fill="url(#exr)"/>
<circle cx="558.5" cy="67.8" r="0.8" fill="#fff" opacity="0.8"/>
<circle cx="553.8" cy="69.4" r="0.8" fill="#fff" opacity="0.8"/>
<circle cx="570.6" cy="85.4" r="2.9" fill="url(#exk)"/>
<circle cx="565.9" cy="87.0" r="3.1" fill="url(#exr)"/>
<circle cx="570.3" cy="85.4" r="0.8" fill="#fff" opacity="0.8"/>
<circle cx="565.6" cy="87.0" r="0.8" fill="#fff" opacity="0.8"/>
<circle cx="599.7" cy="58.4" r="2.9" fill="url(#exk)"/>
<circle cx="594.6" cy="59.6" r="3.1" fill="url(#exr)"/>
<circle cx="599.4" cy="58.4" r="0.8" fill="#fff" opacity="0.8"/>
<circle cx="594.3" cy="59.6" r="0.8" fill="#fff" opacity="0.8"/>
<circle cx="595.0" cy="75.1" r="2.9" fill="url(#exk)"/>
<circle cx="599.7" cy="76.8" r="3.1" fill="url(#exr)"/>
<circle cx="594.7" cy="75.1" r="0.8" fill="#fff" opacity="0.8"/>
<circle cx="599.4" cy="76.8" r="0.8" fill="#fff" opacity="0.8"/>
<circle cx="645.2" cy="72.1" r="2.9" fill="url(#exk)"/>
<circle cx="650.4" cy="72.8" r="3.1" fill="url(#exr)"/>
<circle cx="644.9" cy="72.1" r="0.8" fill="#fff" opacity="0.8"/>
<circle cx="650.1" cy="72.8" r="0.8" fill="#fff" opacity="0.8"/>
<text x="669.8" y="122.6" font-size="8.7" fill="#222" text-anchor="middle">High</text>
<rect x="664.9" y="125" width="9" height="69.7" fill="url(#cbhl)"/>
<text x="669.5" y="204.6" font-size="8.7" fill="#222" text-anchor="middle">Low</text>
<text x="452" y="181.3" font-size="9" font-weight="bold" fill="#111">(f)</text>
<circle cx="494.6" cy="191.1" r="3.8" fill="url(#phon)"/>
<text x="507.2" y="194.8" font-size="8.8" fill="#222">Phonon</text>
<circle cx="565.1" cy="191.8" r="2.9" fill="url(#exk)"/>
<circle cx="570.8" cy="192.3" r="3.1" fill="url(#exr)"/>
<circle cx="564.8" cy="191.8" r="0.8" fill="#fff" opacity="0.8"/>
<circle cx="570.5" cy="192.3" r="0.8" fill="#fff" opacity="0.8"/>
<text x="581.6" y="194.8" font-size="8.8" fill="#222">Exciton</text>
<text x="557.6" y="317.2" font-size="8.9" fill="#222" text-anchor="middle">Low Temperature</text>
<path d="M447 274 L520 262 L600 262 L683 278 L620 292 L556 304 Z" fill="#f9dfe2" opacity="0.55" filter="url(#bl2)"/>
<path d="M447 240 L510 228 L560 222 L620 228 L683 246 L620 255 L553 266 Z" fill="#f9dfe2" opacity="0.5" filter="url(#bl2)"/>
<ellipse cx="469.4" cy="275.6" rx="27.5" ry="6.8" fill="url(#gR)" opacity="0.85" transform="rotate(5.0 469.4 275.6)"/>
<ellipse cx="500.0" cy="284.4" rx="22.5" ry="6.8" fill="url(#gR)" opacity="0.70" transform="rotate(8.0 500.0 284.4)"/>
<ellipse cx="501.8" cy="269.2" rx="27.5" ry="6.8" fill="url(#gB)" opacity="0.95" transform="rotate(5.0 501.8 269.2)"/>
<ellipse cx="536.0" cy="277.6" rx="22.5" ry="6.1" fill="url(#gB)" opacity="0.95" transform="rotate(5.0 536.0 277.6)"/>
<ellipse cx="562.0" cy="287.0" rx="20.0" ry="5.4" fill="url(#gB)" opacity="0.75" transform="rotate(5.0 562.0 287.0)"/>
<ellipse cx="528.0" cy="268.0" rx="17.5" ry="4.1" fill="url(#gB)" opacity="0.50" transform="rotate(5.0 528.0 268.0)"/>
<ellipse cx="555.0" cy="299.0" rx="30.0" ry="6.8" fill="url(#gR)" opacity="0.65" transform="rotate(0.0 555.0 299.0)"/>
<ellipse cx="584.0" cy="278.2" rx="22.5" ry="6.8" fill="url(#gR)" opacity="0.75" transform="rotate(-4.0 584.0 278.2)"/>
<ellipse cx="588.0" cy="293.0" rx="22.5" ry="7.4" fill="url(#gR)" opacity="0.70" transform="rotate(-4.0 588.0 293.0)"/>
<ellipse cx="627.4" cy="273.2" rx="32.5" ry="7.4" fill="url(#gB)" opacity="0.95" transform="rotate(-2.0 627.4 273.2)"/>
<ellipse cx="660.0" cy="277.0" rx="30.0" ry="8.1" fill="url(#gB)" opacity="0.30" transform="rotate(0.0 660.0 277.0)"/>
<ellipse cx="588.0" cy="267.0" rx="15.0" ry="4.1" fill="url(#gB)" opacity="0.45" transform="rotate(0.0 588.0 267.0)"/>
<ellipse cx="615.0" cy="286.0" rx="20.0" ry="5.4" fill="url(#gR)" opacity="0.45" transform="rotate(-6.0 615.0 286.0)"/>
<ellipse cx="606.0" cy="258.0" rx="17.5" ry="5.4" fill="url(#gR)" opacity="0.35" transform="rotate(-6.0 606.0 258.0)"/>
<ellipse cx="538.0" cy="244.0" rx="32.5" ry="10.8" fill="url(#gB)" opacity="0.50" transform="rotate(5.0 538.0 244.0)"/>
<ellipse cx="580.0" cy="250.0" rx="20.0" ry="6.8" fill="url(#gB)" opacity="0.45" transform="rotate(0.0 580.0 250.0)"/>
<ellipse cx="502.0" cy="241.5" rx="32.5" ry="10.1" fill="url(#gB)" opacity="0.90" transform="rotate(8.0 502.0 241.5)"/>
<ellipse cx="548.0" cy="251.0" rx="30.0" ry="8.1" fill="url(#gB)" opacity="0.95" transform="rotate(8.0 548.0 251.0)"/>
<ellipse cx="526.0" cy="243.0" rx="22.5" ry="8.1" fill="url(#gB)" opacity="0.70" transform="rotate(5.0 526.0 243.0)"/>
<ellipse cx="495.0" cy="248.0" rx="22.5" ry="4.7" fill="url(#gR)" opacity="0.50" transform="rotate(15.0 495.0 248.0)"/>
<ellipse cx="600.0" cy="234.0" rx="30.0" ry="6.1" fill="url(#gB)" opacity="0.45" transform="rotate(0.0 600.0 234.0)"/>
<ellipse cx="633.2" cy="241.8" rx="32.5" ry="8.1" fill="url(#gB)" opacity="0.95" transform="rotate(0.0 633.2 241.8)"/>
<ellipse cx="662.0" cy="245.0" rx="30.0" ry="8.1" fill="url(#gB)" opacity="0.30" transform="rotate(0.0 662.0 245.0)"/>
<ellipse cx="575.0" cy="252.0" rx="15.0" ry="5.4" fill="url(#gB)" opacity="0.40" transform="rotate(0.0 575.0 252.0)"/>
<ellipse cx="518.0" cy="249.0" rx="17.5" ry="5.4" fill="url(#gR)" opacity="0.35" transform="rotate(0.0 518.0 249.0)"/>
<linearGradient id="hg2" gradientUnits="userSpaceOnUse" x1="0" y1="233.5" x2="0" y2="248.5"><stop offset="0" stop-color="#e52f33" stop-opacity="1"/><stop offset="0.3" stop-color="#ec5a5e" stop-opacity="0.75"/><stop offset="1" stop-color="#f7b0b0" stop-opacity="0"/></linearGradient>
<linearGradient id="xhg2" gradientUnits="userSpaceOnUse" x1="447.0" y1="0" x2="502.0" y2="0"><stop offset="0" stop-color="#000"/><stop offset="0.22" stop-color="#fff"/><stop offset="0.78" stop-color="#fff"/><stop offset="1" stop-color="#000"/></linearGradient>
<mask id="mhg2" maskUnits="userSpaceOnUse" x="444.0" y="230.5" width="61.0" height="29.5"><rect x="444.0" y="230.5" width="61.0" height="29.5" fill="url(#xhg2)"/></mask>
<g mask="url(#mhg2)"><path d="M447.00 241.00C449.17 240.33 456.00 238.25 460.00 237.00C464.00 235.75 466.67 233.50 471.00 233.50C475.33 233.50 480.83 235.58 486.00 237.00C491.17 238.42 499.33 241.17 502.00 242.00L502.00 257.00C499.33 256.17 491.17 253.42 486.00 252.00C480.83 250.58 475.33 248.50 471.00 248.50C466.67 248.50 464.00 250.75 460.00 252.00C456.00 253.25 449.17 255.33 447.00 256.00Z" fill="url(#hg2)" opacity="1.00" filter="url(#bl1)"/></g>
<linearGradient id="hg3" gradientUnits="userSpaceOnUse" x1="0" y1="215.6" x2="0" y2="231.6"><stop offset="0" stop-color="#e52f33" stop-opacity="1"/><stop offset="0.3" stop-color="#ec5a5e" stop-opacity="0.75"/><stop offset="1" stop-color="#f7b0b0" stop-opacity="0"/></linearGradient>
<linearGradient id="xhg3" gradientUnits="userSpaceOnUse" x1="510.0" y1="0" x2="556.0" y2="0"><stop offset="0" stop-color="#000"/><stop offset="0.22" stop-color="#fff"/><stop offset="0.78" stop-color="#fff"/><stop offset="1" stop-color="#000"/></linearGradient>
<mask id="mhg3" maskUnits="userSpaceOnUse" x="507.0" y="212.6" width="52.0" height="34.9"><rect x="507.0" y="212.6" width="52.0" height="34.9" fill="url(#xhg3)"/></mask>
<g mask="url(#mhg3)"><path d="M510.00 228.50C512.50 227.08 520.25 222.15 525.00 220.00C529.75 217.85 534.67 215.93 538.50 215.60C542.33 215.27 545.08 217.10 548.00 218.00C550.92 218.90 554.67 220.50 556.00 221.00L556.00 237.00C554.67 236.50 550.92 234.90 548.00 234.00C545.08 233.10 542.33 231.27 538.50 231.60C534.67 231.93 529.75 233.85 525.00 236.00C520.25 238.15 512.50 243.08 510.00 244.50Z" fill="url(#hg3)" opacity="1.00" filter="url(#bl1)"/></g>
<linearGradient id="hg4" gradientUnits="userSpaceOnUse" x1="0" y1="213.2" x2="0" y2="228.2"><stop offset="0" stop-color="#e52f33" stop-opacity="1"/><stop offset="0.3" stop-color="#ec5a5e" stop-opacity="0.75"/><stop offset="1" stop-color="#f7b0b0" stop-opacity="0"/></linearGradient>
<linearGradient id="xhg4" gradientUnits="userSpaceOnUse" x1="552.0" y1="0" x2="625.0" y2="0"><stop offset="0" stop-color="#000"/><stop offset="0.22" stop-color="#fff"/><stop offset="0.78" stop-color="#fff"/><stop offset="1" stop-color="#000"/></linearGradient>
<mask id="mhg4" maskUnits="userSpaceOnUse" x="549.0" y="210.2" width="79.0" height="34.8"><rect x="549.0" y="210.2" width="79.0" height="34.8" fill="url(#xhg4)"/></mask>
<g mask="url(#mhg4)"><path d="M552.00 220.50C553.67 219.67 558.67 216.72 562.00 215.50C565.33 214.28 568.33 213.12 572.00 213.20C575.67 213.28 580.33 214.70 584.00 216.00C587.67 217.30 587.17 219.17 594.00 221.00C600.83 222.83 619.83 226.00 625.00 227.00L625.00 242.00C619.83 241.00 600.83 237.83 594.00 236.00C587.17 234.17 587.67 232.30 584.00 231.00C580.33 229.70 575.67 228.28 572.00 228.20C568.33 228.12 565.33 229.28 562.00 230.50C558.67 231.72 553.67 234.67 552.00 235.50Z" fill="url(#hg4)" opacity="0.75" filter="url(#bl1)"/></g>
<linearGradient id="hg5" gradientUnits="userSpaceOnUse" x1="0" y1="236.5" x2="0" y2="253.5"><stop offset="0" stop-color="#e52f33" stop-opacity="1"/><stop offset="0.3" stop-color="#ec5a5e" stop-opacity="0.75"/><stop offset="1" stop-color="#f7b0b0" stop-opacity="0"/></linearGradient>
<linearGradient id="xhg5" gradientUnits="userSpaceOnUse" x1="566.0" y1="0" x2="606.0" y2="0"><stop offset="0" stop-color="#000"/><stop offset="0.22" stop-color="#fff"/><stop offset="0.78" stop-color="#fff"/><stop offset="1" stop-color="#000"/></linearGradient>
<mask id="mhg5" maskUnits="userSpaceOnUse" x="563.0" y="233.5" width="46.0" height="29.5"><rect x="563.0" y="233.5" width="46.0" height="29.5" fill="url(#xhg5)"/></mask>
<g mask="url(#mhg5)"><path d="M566.00 243.00C568.00 242.17 574.33 239.08 578.00 238.00C581.67 236.92 584.67 236.42 588.00 236.50C591.33 236.58 595.00 237.42 598.00 238.50C601.00 239.58 604.67 242.25 606.00 243.00L606.00 260.00C604.67 259.25 601.00 256.58 598.00 255.50C595.00 254.42 591.33 253.58 588.00 253.50C584.67 253.42 581.67 253.92 578.00 255.00C574.33 256.08 568.00 259.17 566.00 260.00Z" fill="url(#hg5)" opacity="0.85" filter="url(#bl1)"/></g>
<linearGradient id="hg6" gradientUnits="userSpaceOnUse" x1="0" y1="252.0" x2="0" y2="261.0"><stop offset="0" stop-color="#e52f33" stop-opacity="1"/><stop offset="0.3" stop-color="#ec5a5e" stop-opacity="0.75"/><stop offset="1" stop-color="#f7b0b0" stop-opacity="0"/></linearGradient>
<linearGradient id="xhg6" gradientUnits="userSpaceOnUse" x1="540.0" y1="0" x2="608.0" y2="0"><stop offset="0" stop-color="#000"/><stop offset="0.22" stop-color="#fff"/><stop offset="0.78" stop-color="#fff"/><stop offset="1" stop-color="#000"/></linearGradient>
<mask id="mhg6" maskUnits="userSpaceOnUse" x="537.0" y="249.0" width="74.0" height="22.0"><rect x="537.0" y="249.0" width="74.0" height="22.0" fill="url(#xhg6)"/></mask>
<g mask="url(#mhg6)"><path d="M540.00 259.00C543.33 258.50 553.33 257.00 560.00 256.00C566.67 255.00 575.00 253.67 580.00 253.00C585.00 252.33 585.33 251.50 590.00 252.00C594.67 252.50 605.00 255.33 608.00 256.00L608.00 265.00C605.00 264.33 594.67 261.50 590.00 261.00C585.33 260.50 585.00 261.33 580.00 262.00C575.00 262.67 566.67 264.00 560.00 265.00C553.33 266.00 543.33 267.50 540.00 268.00Z" fill="url(#hg6)" opacity="0.55" filter="url(#bl1)"/></g>
<circle cx="535.4" cy="231.3" r="3.6" fill="url(#phon)"/>
<circle cx="602.0" cy="226.6" r="3.6" fill="url(#phon)"/>
<circle cx="605.0" cy="244.7" r="3.6" fill="url(#phon)"/>
<circle cx="562.5" cy="221.8" r="2.9" fill="url(#exk)"/>
<circle cx="567.0" cy="224.2" r="3.1" fill="url(#exr)"/>
<circle cx="562.2" cy="221.8" r="0.8" fill="#fff" opacity="0.8"/>
<circle cx="566.7" cy="224.2" r="0.8" fill="#fff" opacity="0.8"/>
<circle cx="503.3" cy="239.3" r="2.9" fill="url(#exk)"/>
<circle cx="508.2" cy="240.6" r="3.1" fill="url(#exr)"/>
<circle cx="503.0" cy="239.3" r="0.8" fill="#fff" opacity="0.8"/>
<circle cx="507.9" cy="240.6" r="0.8" fill="#fff" opacity="0.8"/>
<circle cx="565.9" cy="238.5" r="2.9" fill="url(#exk)"/>
<circle cx="571.5" cy="238.7" r="3.1" fill="url(#exr)"/>
<circle cx="565.6" cy="238.5" r="0.8" fill="#fff" opacity="0.8"/>
<circle cx="571.2" cy="238.7" r="0.8" fill="#fff" opacity="0.8"/>
<circle cx="535.4" cy="246.7" r="2.9" fill="url(#exk)"/>
<circle cx="540.6" cy="247.8" r="3.1" fill="url(#exr)"/>
<circle cx="535.1" cy="246.7" r="0.8" fill="#fff" opacity="0.8"/>
<circle cx="540.3" cy="247.8" r="0.8" fill="#fff" opacity="0.8"/>
<circle cx="559.6" cy="254.1" r="2.9" fill="url(#exk)"/>
<circle cx="564.8" cy="252.7" r="3.1" fill="url(#exr)"/>
<circle cx="559.3" cy="254.1" r="0.8" fill="#fff" opacity="0.8"/>
<circle cx="564.5" cy="252.7" r="0.8" fill="#fff" opacity="0.8"/>
<circle cx="631.8" cy="241.1" r="2.9" fill="url(#exk)"/>
<circle cx="626.6" cy="242.3" r="3.1" fill="url(#exr)"/>
<circle cx="631.5" cy="241.1" r="0.8" fill="#fff" opacity="0.8"/>
<circle cx="626.3" cy="242.3" r="0.8" fill="#fff" opacity="0.8"/>
</svg>
</body></html>
